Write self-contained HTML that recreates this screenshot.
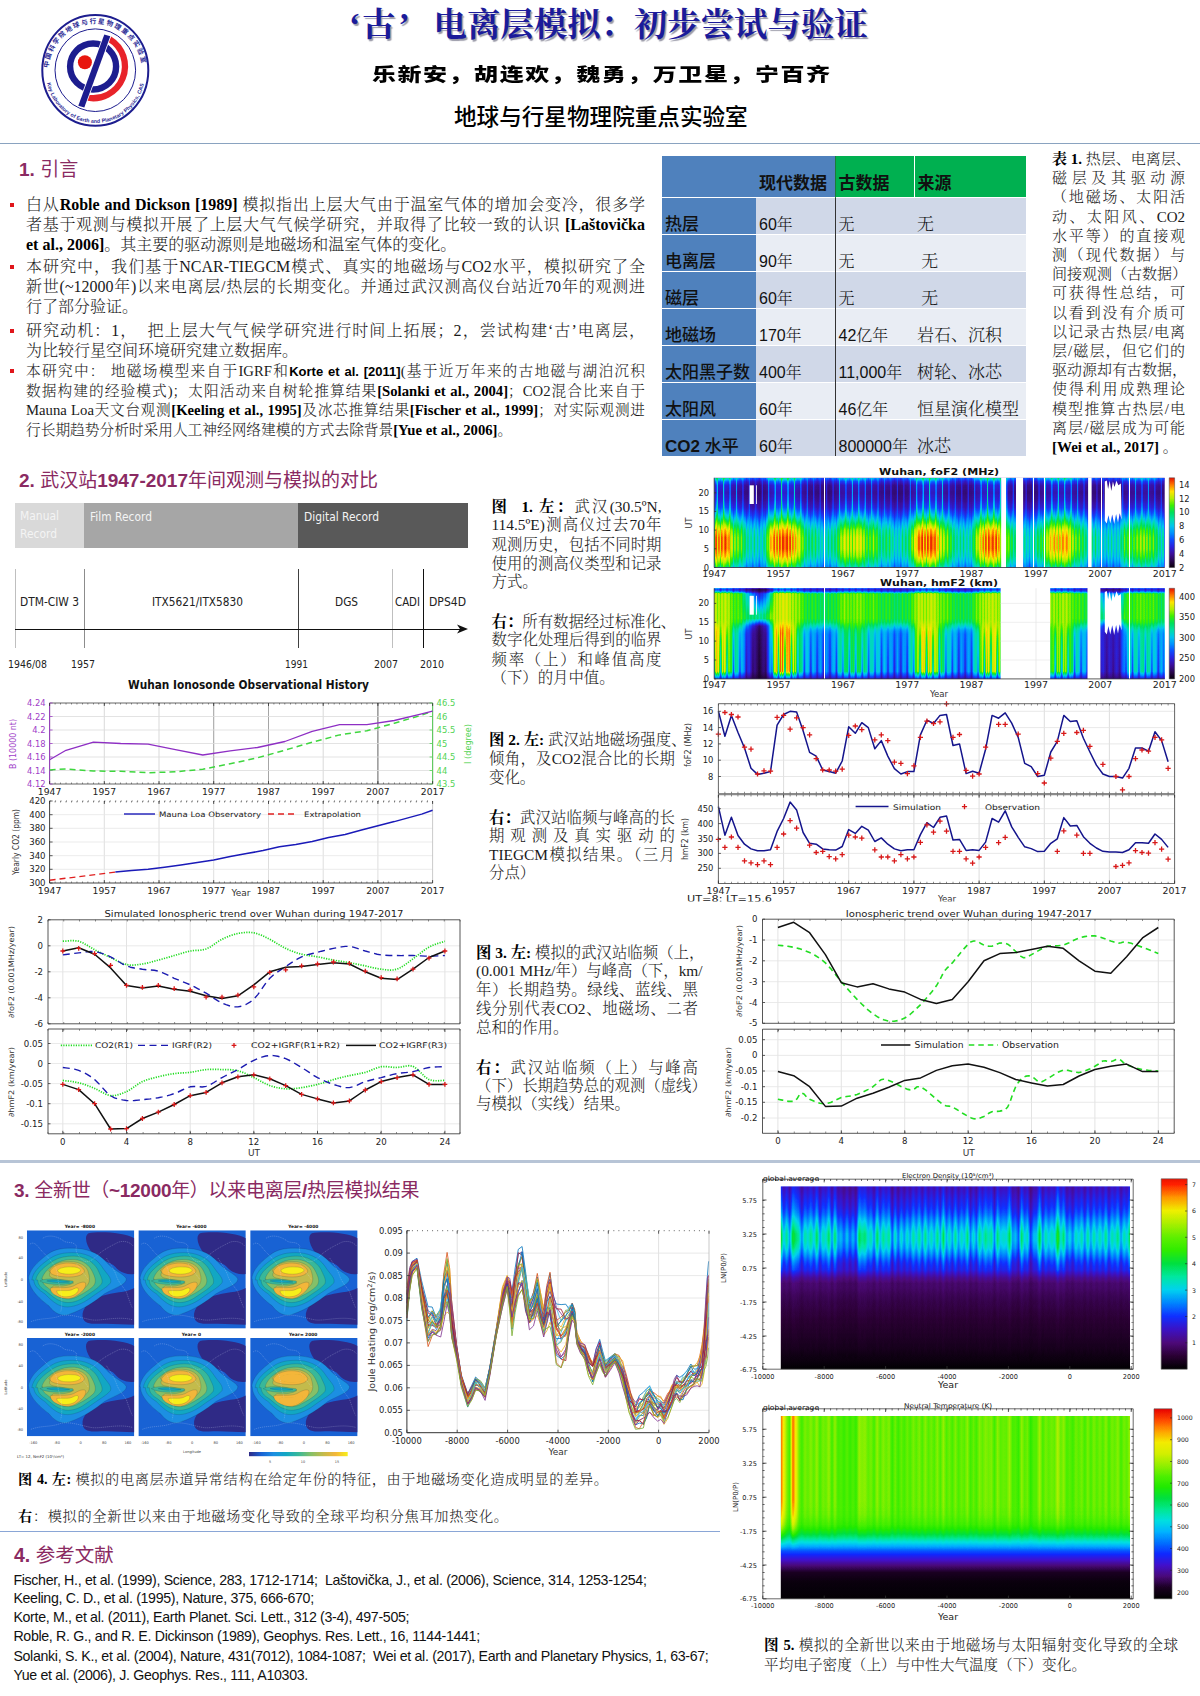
<!DOCTYPE html><html lang="zh"><head><meta charset="utf-8"><title>‘古’电离层模拟：初步尝试与验证</title><style>
*{margin:0;padding:0;box-sizing:border-box}
html,body{width:1200px;height:1696px;background:#fff;overflow:hidden}
body{position:relative;font-family:"Liberation Serif","Noto Serif CJK SC",serif;color:#111}
.a{position:absolute;white-space:nowrap}
.j{position:absolute;white-space:nowrap;text-align:justify;text-align-last:justify}
.sec{position:absolute;white-space:nowrap;color:#8a2a62;font-family:"Liberation Sans","Noto Sans CJK SC",sans-serif;font-size:19px;font-weight:400;line-height:24px}
.sec b{font-weight:700}
.hr{position:absolute;left:0;height:0}
.bt{font-size:16px;line-height:20px;font-weight:300;color:#1a1a1a}
.bt b,.b4 b,.cap b{font-weight:700;color:#000}
.b4{font-size:14.7px;line-height:20px;font-weight:300;color:#1a1a1a}
.bl{position:absolute;width:4px;height:4px;background:#e0161b}
.cap{font-size:15px;line-height:20px;font-weight:300;color:#1a1a1a}
.ref{position:absolute;white-space:nowrap;font-family:"Liberation Sans","Noto Sans CJK SC",sans-serif;font-size:14.2px;line-height:20px;color:#111;letter-spacing:-0.32px}
svg{position:absolute;overflow:visible}
svg text{font-family:"DejaVu Sans","Liberation Sans",sans-serif}
table{position:absolute;border-collapse:collapse;font-family:"Liberation Sans","Noto Sans CJK SC",sans-serif}
</style></head><body>
<svg style="left:0;top:0" width="200" height="140" viewBox="0 0 200 140">
<defs><path id="arcT" d="M 48.300 72 A 47 48.500 0 0 1 142.300 72"/><path id="arcB" d="M 46.300 78 A 49.500 50 0 0 0 144.800 78"/></defs>
<ellipse cx="95.300" cy="70.300" rx="53" ry="55.400" fill="#fff" stroke="#1d1d8f" stroke-width="2"/>
<ellipse cx="95.300" cy="70.200" rx="40.300" ry="41.300" fill="none" stroke="#1d1d8f" stroke-width="1"/>
<text font-size="6.600" font-weight="700" fill="#2a2a95" style="font-family:'Liberation Sans','Noto Sans CJK SC',sans-serif" letter-spacing="1.550"><textPath href="#arcT" startOffset="4">中国科学院地球与行星物理重点实验室</textPath></text>
<text font-size="5.300" font-weight="700" fill="#2a2a95" style="font-family:'Liberation Sans',sans-serif" letter-spacing="0.050"><textPath href="#arcB" startOffset="5">Key Laboratory of Earth and Planetary Physics, CAS</textPath></text>
<circle cx="93.100" cy="66.500" r="23" fill="none" stroke="#1d1d8f" stroke-width="6.400"/>
<path d="M 109.500 39.100 A 31.800 31.800 0 0 1 85.700 97.300" fill="none" stroke="#e8232a" stroke-width="6.300"/>
<path d="M 104.300 34.400 L 110.300 36.200 L 84.300 107.600 L 78.300 105.800 Z" fill="#1d1d8f" stroke="#fff" stroke-width="1.600" paint-order="stroke"/>
<circle cx="84.900" cy="62.300" r="7" fill="#e8160f"/>
</svg>
<div class="hr" style="top:142.500px;width:1200px;border-top:1.500px solid #8aa3c0"></div>
<div class="a" style="left:349px;top:1.500px;font-size:33.400px;line-height:46px;font-weight:700;color:#1b1b9a;text-shadow:1.500px 1.500px 1px #9a9aa8;font-family:'Liberation Serif','Noto Serif CJK SC',serif"><span style="display:inline-block;width:13px;text-align:left">‘</span>古<span style="display:inline-block;width:38.200px;text-align:left;padding-left:3px">’</span>电离层模拟：初步尝试与验证</div>
<div class="a" style="left:372px;top:58px;width:458px;font-size:24px;line-height:34px;font-weight:900;color:#000;font-family:'Liberation Sans','Noto Sans CJK SC',sans-serif;text-align:justify;text-align-last:justify;transform:scaleY(0.760);transform-origin:0 50%">乐新安，胡连欢，魏勇，万卫星，宁百齐</div>
<div class="a" style="left:454px;top:102.500px;width:294px;font-size:22.600px;line-height:30px;font-weight:500;color:#000;font-family:'Liberation Sans','Noto Sans CJK SC',sans-serif">地球与行星物理院重点实验室</div>
<div class="sec" style="left:19px;top:158px"><b>1.</b> 引言</div>
<div class="j bt" style="left:26px;top:195px;width:619px">白从<b>Roble and Dickson [1989]</b> 模拟指出上层大气由于温室气体的增加会变冷，很多学</div>
<div class="j bt" style="left:26px;top:215px;width:619px">者基于观测与模拟开展了上层大气气候学研究，并取得了比较一致的认识 <b>[Laštovička</b></div>
<div class="a bt" style="left:26px;top:235px;"><b>et al., 2006]</b>。其主要的驱动源则是地磁场和温室气体的变化。</div>
<div class="j bt" style="left:26px;top:257px;width:619px">本研究中，我们基于NCAR-TIEGCM模式、真实的地磁场与CO2水平，模拟研究了全</div>
<div class="j bt" style="left:26px;top:277px;width:619px">新世(~12000年)以来电离层/热层的长期变化。并通过武汉测高仪台站近70年的观测进</div>
<div class="a bt" style="left:26px;top:297px;">行了部分验证。</div>
<div class="j bt" style="left:26px;top:321px;width:619px">研究动机：1，&nbsp; 把上层大气气候学研究进行时间上拓展；2，尝试构建‘古’电离层，</div>
<div class="a bt" style="left:26px;top:341px;">为比较行星空间环境研究建立数据库。</div>
<div class="j b4" style="left:26px;top:361px;width:619px">本研究中：&nbsp;地磁场模型来自于IGRF和<b style="font-family:'Liberation Sans',sans-serif;font-size:13px">Korte et al. [2011]</b>(基于近万年来的古地磁与湖泊沉积</div>
<div class="j b4" style="left:26px;top:381px;width:619px">数据构建的经验模式)；太阳活动来自树轮推算结果<b>[Solanki et al., 2004]</b>；CO2混合比来自于</div>
<div class="j b4" style="left:26px;top:400px;width:619px">Mauna Loa天文台观测<b>[Keeling et al., 1995]</b>及冰芯推算结果<b>[Fischer et al., 1999]</b>；对实际观测进</div>
<div class="a b4" style="left:26px;top:420px;">行长期趋势分析时采用人工神经网络建模的方式去除背景<b>[Yue et al., 2006]</b>。</div>
<div class="bl" style="left:10px;top:203px"></div>
<div class="bl" style="left:10px;top:265px"></div>
<div class="bl" style="left:10px;top:329px"></div>
<div class="bl" style="left:10px;top:369px"></div>
<style>
td{vertical-align:bottom;padding:0 0 0 3px;font-size:16px;line-height:19px;color:#111;white-space:nowrap;border-top:1.500px solid #fff}
tr:first-child td{border-top:0}
td.h1{background:#4f81bd;font-weight:700;font-size:17px;padding-bottom:4px}
td.h2{background:#00b050;font-weight:700;font-size:17px;padding-bottom:4px}
td.c1{background:#4f81bd;font-weight:500;font-size:17px}
tr.ra td{background:#d0d8e8} tr.rb td{background:#e9edf4}
tr.ra td.c1,tr.rb td.c1{background:#4f81bd}
td.sf{font-family:"Liberation Serif","Noto Serif CJK SC",serif;font-weight:300;font-size:17px}
tr.ra td:nth-child(2),tr.rb td:nth-child(2),tr.ra td:nth-child(3),tr.rb td:nth-child(3){font-family:"Liberation Sans","Noto Serif CJK SC",serif;font-weight:300}
</style>
<table style="left:662px;top:156px;width:364px"><colgroup><col style="width:94px"><col style="width:79px"><col style="width:79px"><col style="width:112px"></colgroup><tr style="height:41px"><td class="h1"></td><td class="h1">现代数据</td><td class="h2" style="border-left:1px solid #1d7a3a">古数据</td><td class="h2" style="border-left:1.500px solid #fff">来源</td></tr><tr class="ra" style="height:37px"><td class="c1">热层</td><td>60年</td><td style="border-left:1px solid #333">无</td><td class="sf">无</td></tr><tr class="rb" style="height:37px"><td class="c1">电离层</td><td>90年</td><td style="border-left:1px solid #333">无</td><td class="sf">&nbsp;无</td></tr><tr class="ra" style="height:37px"><td class="c1">磁层</td><td>60年</td><td style="border-left:1px solid #333">无</td><td class="sf">&nbsp;无</td></tr><tr class="rb" style="height:37px"><td class="c1">地磁场</td><td>170年</td><td style="border-left:1px solid #333">42亿年</td><td class="sf">岩石、沉积</td></tr><tr class="ra" style="height:37px"><td class="c1">太阳黑子数</td><td>400年</td><td style="border-left:1px solid #333">11,000年</td><td class="sf">树轮、冰芯</td></tr><tr class="rb" style="height:37px"><td class="c1">太阳风</td><td>60年</td><td style="border-left:1px solid #333">46亿年</td><td class="sf">恒星演化模型</td></tr><tr class="ra" style="height:37px"><td class="c1"><b>CO2</b> 水平</td><td>60年</td><td style="border-left:1px solid #333">800000年</td><td class="sf">冰芯</td></tr></table>
<div class="j cap" style="left:1052px;top:149.0px;width:133px"><b>表 1.</b> 热层、电离层、</div>
<div class="j cap" style="left:1052px;top:168.2px;width:133px">磁层及其驱动源</div>
<div class="j cap" style="left:1052px;top:187.4px;width:133px">（地磁场、太阳活</div>
<div class="j cap" style="left:1052px;top:206.6px;width:133px">动、太阳风、CO2</div>
<div class="j cap" style="left:1052px;top:225.8px;width:133px">水平等）的直接观</div>
<div class="j cap" style="left:1052px;top:245.0px;width:133px">测（现代数据）与</div>
<div class="j cap" style="left:1052px;top:264.2px;width:133px">间接观测（古数据）</div>
<div class="j cap" style="left:1052px;top:283.4px;width:133px">可获得性总结，可</div>
<div class="j cap" style="left:1052px;top:302.6px;width:133px">以看到没有介质可</div>
<div class="j cap" style="left:1052px;top:321.8px;width:133px">以记录古热层/电离</div>
<div class="j cap" style="left:1052px;top:341.0px;width:133px">层/磁层，但它们的</div>
<div class="j cap" style="left:1052px;top:360.2px;width:133px">驱动源却有古数据，</div>
<div class="j cap" style="left:1052px;top:379.4px;width:133px">使得利用成熟理论</div>
<div class="j cap" style="left:1052px;top:398.6px;width:133px">模型推算古热层/电</div>
<div class="j cap" style="left:1052px;top:417.8px;width:133px">离层/磁层成为可能</div>
<div class="a cap" style="left:1052px;top:437.0px;"><b>[Wei et al., 2017]</b> 。</div>
<div class="sec" style="left:19px;top:469px"><b>2.</b> 武汉站<b>1947-2017</b>年间观测与模拟的对比</div>
<div class="j cap" style="left:491.5px;top:496.8px;font-size:15.4px;width:170px"><b>图&nbsp; 1. 左：</b>武汉(30.5ºN,</div>
<div class="j cap" style="left:491.5px;top:515px;font-size:15.4px;width:170px">114.5ºE)测高仪过去70年</div>
<div class="j cap" style="left:491.5px;top:534.8px;font-size:15.4px;width:170px">观测历史，包括不同时期</div>
<div class="j cap" style="left:491.5px;top:553.8px;font-size:15.4px;width:170px">使用的测高仪类型和记录</div>
<div class="a cap" style="left:491.5px;top:572.3px;font-size:15.4px;">方式。</div>
<div class="a cap" style="left:491.5px;top:612px;font-size:15.4px;"><b>右：</b>所有数据经过标准化、</div>
<div class="j cap" style="left:491.5px;top:630.4px;font-size:15.4px;width:170px">数字化处理后得到的临界</div>
<div class="j cap" style="left:491.5px;top:649.7px;font-size:15.4px;width:170px">频率（上）和峰值高度</div>
<div class="a cap" style="left:491.5px;top:668.4px;font-size:15.4px;">（下）的月中值。</div>
<div class="a cap" style="left:489px;top:730px;font-size:15.4px;"><b>图 2. 左:</b> 武汉站地磁场强度、</div>
<div class="j cap" style="left:489px;top:749px;font-size:15.4px;width:186px">倾角，及CO2混合比的长期</div>
<div class="a cap" style="left:489px;top:768px;font-size:15.4px;">变化。</div>
<div class="j cap" style="left:489px;top:807.9px;font-size:15.4px;width:186px"><b>右：</b>武汉站临频与峰高的长</div>
<div class="j cap" style="left:489px;top:826.4px;font-size:15.4px;width:186px">期观测及真实驱动的</div>
<div class="j cap" style="left:489px;top:845.4px;font-size:15.4px;width:186px">TIEGCM模拟结果。（三月</div>
<div class="a cap" style="left:489px;top:863px;font-size:15.4px;">分点）</div>
<div class="j cap" style="left:476px;top:943px;font-size:15.4px;width:222px"><b>图 3. 左:</b> 模拟的武汉站临频（上，</div>
<div class="j cap" style="left:476px;top:961px;font-size:15.4px;width:222px">(0.001 MHz/年）与峰高（下，km/</div>
<div class="j cap" style="left:476px;top:980px;font-size:15.4px;width:222px">年）长期趋势。绿线、蓝线、黑</div>
<div class="j cap" style="left:476px;top:998.8px;font-size:15.4px;width:222px">线分别代表CO2、地磁场、二者</div>
<div class="a cap" style="left:476px;top:1017.6px;font-size:15.4px;">总和的作用。</div>
<div class="j cap" style="left:476px;top:1057.7px;font-size:15.4px;width:222px"><b>右：</b>武汉站临频（上）与峰高</div>
<div class="a cap" style="left:476px;top:1076px;font-size:15.4px;">（下）长期趋势总的观测（虚线）</div>
<div class="a cap" style="left:476px;top:1094px;font-size:15.4px;">与模拟（实线）结果。</div>
<svg class="pg" style="left:0;top:0" width="1200" height="1696" viewBox="0 0 1200 1696"><defs><filter id="cmA" x="713.2" y="476.8" width="462.5" height="91.7" filterUnits="userSpaceOnUse" color-interpolation-filters="sRGB"><feComponentTransfer><feFuncR type="table" tableValues="0.0392 0.169 0.235 0.165 0.0549 0 0 0 0 0.235 0.706 1 1 0.91"/><feFuncG type="table" tableValues="0 0.0314 0.0588 0.133 0.298 0.573 0.776 0.875 0.878 0.941 0.941 0.894 0.471 0.0627"/><feFuncB type="table" tableValues="0.0471 0.314 0.612 0.871 1 1 0.933 0.659 0.353 0 0 0 0 0"/></feComponentTransfer></filter><linearGradient id="fN" gradientUnits="userSpaceOnUse" x1="714.200" x2="1164.700" y1="0" y2="0"><stop offset="0" stop-color="#333333"/><stop offset="0.01429" stop-color="#313131"/><stop offset="0.02857" stop-color="#313131"/><stop offset="0.04286" stop-color="#282828"/><stop offset="0.05714" stop-color="#252525"/><stop offset="0.07143" stop-color="#202020"/><stop offset="0.08571" stop-color="#1d1d1d"/><stop offset="0.1" stop-color="#1b1b1b"/><stop offset="0.1143" stop-color="#212121"/><stop offset="0.1286" stop-color="#2f2f2f"/><stop offset="0.1429" stop-color="#363636"/><stop offset="0.1571" stop-color="#363636"/><stop offset="0.1714" stop-color="#333333"/><stop offset="0.1857" stop-color="#2c2c2c"/><stop offset="0.2" stop-color="#242424"/><stop offset="0.2143" stop-color="#202020"/><stop offset="0.2286" stop-color="#1f1f1f"/><stop offset="0.2429" stop-color="#1d1d1d"/><stop offset="0.2571" stop-color="#1d1d1d"/><stop offset="0.2714" stop-color="#232323"/><stop offset="0.2857" stop-color="#292929"/><stop offset="0.3" stop-color="#2a2a2a"/><stop offset="0.3143" stop-color="#2b2b2b"/><stop offset="0.3286" stop-color="#2a2a2a"/><stop offset="0.3429" stop-color="#252525"/><stop offset="0.3571" stop-color="#252525"/><stop offset="0.3714" stop-color="#212121"/><stop offset="0.3857" stop-color="#202020"/><stop offset="0.4" stop-color="#1d1d1d"/><stop offset="0.4143" stop-color="#1d1d1d"/><stop offset="0.4286" stop-color="#1f1f1f"/><stop offset="0.4429" stop-color="#2a2a2a"/><stop offset="0.4571" stop-color="#323232"/><stop offset="0.4714" stop-color="#323232"/><stop offset="0.4857" stop-color="#323232"/><stop offset="0.5" stop-color="#2d2d2d"/><stop offset="0.5143" stop-color="#262626"/><stop offset="0.5286" stop-color="#232323"/><stop offset="0.5429" stop-color="#1e1e1e"/><stop offset="0.5571" stop-color="#1d1d1d"/><stop offset="0.5714" stop-color="#202020"/><stop offset="0.5857" stop-color="#2a2a2a"/><stop offset="0.6" stop-color="#333333"/><stop offset="0.6143" stop-color="#313131"/><stop offset="0.6286" stop-color="#323232"/><stop offset="0.6429" stop-color="#2a2a2a"/><stop offset="0.6571" stop-color="#242424"/><stop offset="0.6714" stop-color="#202020"/><stop offset="0.6857" stop-color="#1e1e1e"/><stop offset="0.7" stop-color="#1d1d1d"/><stop offset="0.7143" stop-color="#1e1e1e"/><stop offset="0.7286" stop-color="#252525"/><stop offset="0.7429" stop-color="#2b2b2b"/><stop offset="0.7571" stop-color="#2e2e2e"/><stop offset="0.7714" stop-color="#2f2f2f"/><stop offset="0.7857" stop-color="#2e2e2e"/><stop offset="0.8" stop-color="#272727"/><stop offset="0.8143" stop-color="#232323"/><stop offset="0.8286" stop-color="#202020"/><stop offset="0.8429" stop-color="#1e1e1e"/><stop offset="0.8571" stop-color="#1d1d1d"/><stop offset="0.8714" stop-color="#1b1b1b"/><stop offset="0.8857" stop-color="#1c1c1c"/><stop offset="0.9" stop-color="#1e1e1e"/><stop offset="0.9143" stop-color="#242424"/><stop offset="0.9286" stop-color="#252525"/><stop offset="0.9429" stop-color="#262626"/><stop offset="0.9571" stop-color="#282828"/><stop offset="0.9714" stop-color="#252525"/><stop offset="0.9857" stop-color="#202020"/><stop offset="1" stop-color="#1e1e1e"/></linearGradient><linearGradient id="fD" gradientUnits="userSpaceOnUse" x1="714.200" x2="1164.700" y1="0" y2="0"><stop offset="0" stop-color="#ffffff"/><stop offset="0.01429" stop-color="#f9f9f9"/><stop offset="0.02857" stop-color="#fcfcfc"/><stop offset="0.04286" stop-color="#cacaca"/><stop offset="0.05714" stop-color="#b6b6b6"/><stop offset="0.07143" stop-color="#9b9b9b"/><stop offset="0.08571" stop-color="#8a8a8a"/><stop offset="0.1" stop-color="#808080"/><stop offset="0.1143" stop-color="#a1a1a1"/><stop offset="0.1286" stop-color="#f3f3f3"/><stop offset="0.1429" stop-color="#ffffff"/><stop offset="0.1571" stop-color="#ffffff"/><stop offset="0.1714" stop-color="#ffffff"/><stop offset="0.1857" stop-color="#dedede"/><stop offset="0.2" stop-color="#afafaf"/><stop offset="0.2143" stop-color="#9b9b9b"/><stop offset="0.2286" stop-color="#949494"/><stop offset="0.2429" stop-color="#868686"/><stop offset="0.2571" stop-color="#8a8a8a"/><stop offset="0.2714" stop-color="#a8a8a8"/><stop offset="0.2857" stop-color="#cecece"/><stop offset="0.3" stop-color="#d3d3d3"/><stop offset="0.3143" stop-color="#d6d6d6"/><stop offset="0.3286" stop-color="#d3d3d3"/><stop offset="0.3429" stop-color="#b6b6b6"/><stop offset="0.3571" stop-color="#b8b8b8"/><stop offset="0.3714" stop-color="#9d9d9d"/><stop offset="0.3857" stop-color="#9b9b9b"/><stop offset="0.4" stop-color="#8a8a8a"/><stop offset="0.4143" stop-color="#868686"/><stop offset="0.4286" stop-color="#979797"/><stop offset="0.4429" stop-color="#d1d1d1"/><stop offset="0.4571" stop-color="#ffffff"/><stop offset="0.4714" stop-color="#ffffff"/><stop offset="0.4857" stop-color="#ffffff"/><stop offset="0.5" stop-color="#e5e5e5"/><stop offset="0.5143" stop-color="#bcbcbc"/><stop offset="0.5286" stop-color="#a8a8a8"/><stop offset="0.5429" stop-color="#8d8d8d"/><stop offset="0.5571" stop-color="#898989"/><stop offset="0.5714" stop-color="#989898"/><stop offset="0.5857" stop-color="#d1d1d1"/><stop offset="0.6" stop-color="#ffffff"/><stop offset="0.6143" stop-color="#f9f9f9"/><stop offset="0.6286" stop-color="#ffffff"/><stop offset="0.6429" stop-color="#d1d1d1"/><stop offset="0.6571" stop-color="#afafaf"/><stop offset="0.6714" stop-color="#9b9b9b"/><stop offset="0.6857" stop-color="#8d8d8d"/><stop offset="0.7" stop-color="#868686"/><stop offset="0.7143" stop-color="#909090"/><stop offset="0.7286" stop-color="#b6b6b6"/><stop offset="0.7429" stop-color="#d7d7d7"/><stop offset="0.7571" stop-color="#ececec"/><stop offset="0.7714" stop-color="#eeeeee"/><stop offset="0.7857" stop-color="#ececec"/><stop offset="0.8" stop-color="#c3c3c3"/><stop offset="0.8143" stop-color="#a8a8a8"/><stop offset="0.8286" stop-color="#9b9b9b"/><stop offset="0.8429" stop-color="#8d8d8d"/><stop offset="0.8571" stop-color="#868686"/><stop offset="0.8714" stop-color="#808080"/><stop offset="0.8857" stop-color="#828282"/><stop offset="0.9" stop-color="#8d8d8d"/><stop offset="0.9143" stop-color="#afafaf"/><stop offset="0.9286" stop-color="#b8b8b8"/><stop offset="0.9429" stop-color="#bcbcbc"/><stop offset="0.9571" stop-color="#cacaca"/><stop offset="0.9714" stop-color="#b6b6b6"/><stop offset="0.9857" stop-color="#9b9b9b"/><stop offset="1" stop-color="#8d8d8d"/></linearGradient><linearGradient id="fF" gradientUnits="userSpaceOnUse" x1="714.200" x2="1164.700" y1="0" y2="0"><stop offset="0" stop-color="#ffffff"/><stop offset="0.01429" stop-color="#ededed"/><stop offset="0.02857" stop-color="#f1f1f1"/><stop offset="0.04286" stop-color="#afafaf"/><stop offset="0.05714" stop-color="#949494"/><stop offset="0.07143" stop-color="#707070"/><stop offset="0.08571" stop-color="#5b5b5b"/><stop offset="0.1" stop-color="#4c4c4c"/><stop offset="0.1143" stop-color="#797979"/><stop offset="0.1286" stop-color="#e4e4e4"/><stop offset="0.1429" stop-color="#ffffff"/><stop offset="0.1571" stop-color="#ffffff"/><stop offset="0.1714" stop-color="#ffffff"/><stop offset="0.1857" stop-color="#c9c9c9"/><stop offset="0.2" stop-color="#8b8b8b"/><stop offset="0.2143" stop-color="#707070"/><stop offset="0.2286" stop-color="#676767"/><stop offset="0.2429" stop-color="#555555"/><stop offset="0.2571" stop-color="#5b5b5b"/><stop offset="0.2714" stop-color="#828282"/><stop offset="0.2857" stop-color="#b4b4b4"/><stop offset="0.3" stop-color="#bbbbbb"/><stop offset="0.3143" stop-color="#bfbfbf"/><stop offset="0.3286" stop-color="#bbbbbb"/><stop offset="0.3429" stop-color="#949494"/><stop offset="0.3571" stop-color="#979797"/><stop offset="0.3714" stop-color="#747474"/><stop offset="0.3857" stop-color="#707070"/><stop offset="0.4" stop-color="#5b5b5b"/><stop offset="0.4143" stop-color="#555555"/><stop offset="0.4286" stop-color="#6b6b6b"/><stop offset="0.4429" stop-color="#b8b8b8"/><stop offset="0.4571" stop-color="#f6f6f6"/><stop offset="0.4714" stop-color="#f6f6f6"/><stop offset="0.4857" stop-color="#f6f6f6"/><stop offset="0.5" stop-color="#d2d2d2"/><stop offset="0.5143" stop-color="#9d9d9d"/><stop offset="0.5286" stop-color="#828282"/><stop offset="0.5429" stop-color="#5e5e5e"/><stop offset="0.5571" stop-color="#595959"/><stop offset="0.5714" stop-color="#6d6d6d"/><stop offset="0.5857" stop-color="#b8b8b8"/><stop offset="0.6" stop-color="#fbfbfb"/><stop offset="0.6143" stop-color="#ededed"/><stop offset="0.6286" stop-color="#f6f6f6"/><stop offset="0.6429" stop-color="#b8b8b8"/><stop offset="0.6571" stop-color="#8b8b8b"/><stop offset="0.6714" stop-color="#707070"/><stop offset="0.6857" stop-color="#5e5e5e"/><stop offset="0.7" stop-color="#555555"/><stop offset="0.7143" stop-color="#626262"/><stop offset="0.7286" stop-color="#949494"/><stop offset="0.7429" stop-color="#c1c1c1"/><stop offset="0.7571" stop-color="#dbdbdb"/><stop offset="0.7714" stop-color="#dfdfdf"/><stop offset="0.7857" stop-color="#dbdbdb"/><stop offset="0.8" stop-color="#a6a6a6"/><stop offset="0.8143" stop-color="#828282"/><stop offset="0.8286" stop-color="#707070"/><stop offset="0.8429" stop-color="#5e5e5e"/><stop offset="0.8571" stop-color="#555555"/><stop offset="0.8714" stop-color="#4c4c4c"/><stop offset="0.8857" stop-color="#505050"/><stop offset="0.9" stop-color="#5e5e5e"/><stop offset="0.9143" stop-color="#8b8b8b"/><stop offset="0.9286" stop-color="#979797"/><stop offset="0.9429" stop-color="#9d9d9d"/><stop offset="0.9571" stop-color="#afafaf"/><stop offset="0.9714" stop-color="#949494"/><stop offset="0.9857" stop-color="#707070"/><stop offset="1" stop-color="#5e5e5e"/></linearGradient><linearGradient id="fS" gradientUnits="userSpaceOnUse" x1="714.200" x2="720.636" y1="0" y2="0" spreadMethod="repeat"><stop offset="0" stop-color="#a0a0a0" stop-opacity="0"/><stop offset="0.3" stop-color="#a0a0a0" stop-opacity="0"/><stop offset="0.4" stop-color="#a0a0a0" stop-opacity="0.4"/><stop offset="0.47" stop-color="#a0a0a0" stop-opacity="0.85"/><stop offset="0.54" stop-color="#a0a0a0" stop-opacity="0.4"/><stop offset="0.64" stop-color="#a0a0a0" stop-opacity="0"/><stop offset="1" stop-color="#a0a0a0" stop-opacity="0"/></linearGradient><linearGradient id="fS2" gradientUnits="userSpaceOnUse" x1="714.200" x2="720.636" y1="0" y2="0" spreadMethod="repeat"><stop offset="0" stop-color="#909090" stop-opacity="0"/><stop offset="0.27" stop-color="#909090" stop-opacity="0"/><stop offset="0.47" stop-color="#909090" stop-opacity="0.85"/><stop offset="0.67" stop-color="#909090" stop-opacity="0"/><stop offset="1" stop-color="#909090" stop-opacity="0"/></linearGradient><linearGradient id="fW2" gradientUnits="userSpaceOnUse" x1="0" x2="0" y1="477.80" y2="567.50"><stop offset="0" stop-color="#808080"/><stop offset="0.04167" stop-color="#262626"/><stop offset="0.08333" stop-color="#000000"/><stop offset="0.1667" stop-color="#0f0f0f"/><stop offset="0.25" stop-color="#404040"/><stop offset="0.3333" stop-color="#8c8c8c"/><stop offset="0.4167" stop-color="#e6e6e6"/><stop offset="0.5" stop-color="#ffffff"/><stop offset="1" stop-color="#ffffff"/></linearGradient><mask id="mW2" maskUnits="userSpaceOnUse" x="714.2" y="477.8" width="450.5" height="89.7"><rect x="714.2" y="477.8" width="450.5" height="89.7" fill="url(#fW2)"/></mask><linearGradient id="fSA" gradientUnits="userSpaceOnUse" x1="714.200" x2="717.418" y1="0" y2="0" spreadMethod="repeat"><stop offset="0" stop-color="#000" stop-opacity="0.2"/><stop offset="0.25" stop-color="#000" stop-opacity="0"/><stop offset="0.5" stop-color="#fff" stop-opacity="0.22"/><stop offset="0.75" stop-color="#000" stop-opacity="0"/><stop offset="1" stop-color="#000" stop-opacity="0.2"/></linearGradient><linearGradient id="fW" gradientUnits="userSpaceOnUse" x1="0" x2="0" y1="477.80" y2="567.50"><stop offset="0" stop-color="#808080"/><stop offset="0.04167" stop-color="#333333"/><stop offset="0.08333" stop-color="#0d0d0d"/><stop offset="0.1667" stop-color="#000000"/><stop offset="0.25" stop-color="#0d0d0d"/><stop offset="0.3333" stop-color="#292929"/><stop offset="0.4167" stop-color="#616161"/><stop offset="0.5" stop-color="#a8a8a8"/><stop offset="0.5833" stop-color="#e6e6e6"/><stop offset="0.6667" stop-color="#ffffff"/><stop offset="0.7292" stop-color="#ffffff"/><stop offset="0.7917" stop-color="#ffffff"/><stop offset="0.875" stop-color="#e6e6e6"/><stop offset="0.9375" stop-color="#bfbfbf"/><stop offset="1" stop-color="#8c8c8c"/></linearGradient><mask id="mW" maskUnits="userSpaceOnUse" x="714.2" y="477.8" width="450.5" height="89.7"><rect x="714.2" y="477.8" width="450.5" height="89.7" fill="url(#fW)"/></mask><mask id="mF" maskUnits="userSpaceOnUse" x="714.2" y="477.8" width="450.5" height="89.7"><rect x="714.2" y="477.8" width="450.5" height="89.7" fill="url(#fF)"/></mask><linearGradient id="cbg" gradientUnits="userSpaceOnUse" x1="0" x2="0" y1="477.80" y2="567.50"><stop offset="0" stop-color="#fff"/><stop offset="1" stop-color="#000"/></linearGradient><filter id="cmB" x="713.2" y="587.3" width="462.5" height="92.6" filterUnits="userSpaceOnUse" color-interpolation-filters="sRGB"><feComponentTransfer><feFuncR type="table" tableValues="0.0392 0.169 0.235 0.165 0.0549 0 0 0 0 0.235 0.706 1 1 0.91"/><feFuncG type="table" tableValues="0 0.0314 0.0588 0.133 0.298 0.573 0.776 0.875 0.878 0.941 0.941 0.894 0.471 0.0627"/><feFuncB type="table" tableValues="0.0471 0.314 0.612 0.871 1 1 0.933 0.659 0.353 0 0 0 0 0"/></feComponentTransfer></filter><linearGradient id="hN" gradientUnits="userSpaceOnUse" x1="714.200" x2="1164.700" y1="0" y2="0"><stop offset="0" stop-color="#cccccc"/><stop offset="0.01429" stop-color="#c8c8c8"/><stop offset="0.02857" stop-color="#c8c8c8"/><stop offset="0.04286" stop-color="#b8b8b8"/><stop offset="0.05714" stop-color="#b2b2b2"/><stop offset="0.07143" stop-color="#a9a9a9"/><stop offset="0.08571" stop-color="#a3a3a3"/><stop offset="0.1" stop-color="#a0a0a0"/><stop offset="0.1143" stop-color="#ababab"/><stop offset="0.1286" stop-color="#c5c5c5"/><stop offset="0.1429" stop-color="#d1d1d1"/><stop offset="0.1571" stop-color="#d1d1d1"/><stop offset="0.1714" stop-color="#cccccc"/><stop offset="0.1857" stop-color="#bfbfbf"/><stop offset="0.2" stop-color="#afafaf"/><stop offset="0.2143" stop-color="#a9a9a9"/><stop offset="0.2286" stop-color="#a7a7a7"/><stop offset="0.2429" stop-color="#a2a2a2"/><stop offset="0.2571" stop-color="#a3a3a3"/><stop offset="0.2714" stop-color="#adadad"/><stop offset="0.2857" stop-color="#bababa"/><stop offset="0.3" stop-color="#bbbbbb"/><stop offset="0.3143" stop-color="#bcbcbc"/><stop offset="0.3286" stop-color="#bbbbbb"/><stop offset="0.3429" stop-color="#b2b2b2"/><stop offset="0.3571" stop-color="#b2b2b2"/><stop offset="0.3714" stop-color="#aaaaaa"/><stop offset="0.3857" stop-color="#a9a9a9"/><stop offset="0.4" stop-color="#a3a3a3"/><stop offset="0.4143" stop-color="#a2a2a2"/><stop offset="0.4286" stop-color="#a7a7a7"/><stop offset="0.4429" stop-color="#bababa"/><stop offset="0.4571" stop-color="#cacaca"/><stop offset="0.4714" stop-color="#cacaca"/><stop offset="0.4857" stop-color="#cacaca"/><stop offset="0.5" stop-color="#c1c1c1"/><stop offset="0.5143" stop-color="#b4b4b4"/><stop offset="0.5286" stop-color="#adadad"/><stop offset="0.5429" stop-color="#a4a4a4"/><stop offset="0.5571" stop-color="#a3a3a3"/><stop offset="0.5714" stop-color="#a8a8a8"/><stop offset="0.5857" stop-color="#bababa"/><stop offset="0.6" stop-color="#cbcbcb"/><stop offset="0.6143" stop-color="#c8c8c8"/><stop offset="0.6286" stop-color="#cacaca"/><stop offset="0.6429" stop-color="#bababa"/><stop offset="0.6571" stop-color="#afafaf"/><stop offset="0.6714" stop-color="#a9a9a9"/><stop offset="0.6857" stop-color="#a4a4a4"/><stop offset="0.7" stop-color="#a2a2a2"/><stop offset="0.7143" stop-color="#a5a5a5"/><stop offset="0.7286" stop-color="#b2b2b2"/><stop offset="0.7429" stop-color="#bdbdbd"/><stop offset="0.7571" stop-color="#c3c3c3"/><stop offset="0.7714" stop-color="#c4c4c4"/><stop offset="0.7857" stop-color="#c3c3c3"/><stop offset="0.8" stop-color="#b6b6b6"/><stop offset="0.8143" stop-color="#adadad"/><stop offset="0.8286" stop-color="#a9a9a9"/><stop offset="0.8429" stop-color="#a4a4a4"/><stop offset="0.8571" stop-color="#a2a2a2"/><stop offset="0.8714" stop-color="#a0a0a0"/><stop offset="0.8857" stop-color="#a1a1a1"/><stop offset="0.9" stop-color="#a4a4a4"/><stop offset="0.9143" stop-color="#afafaf"/><stop offset="0.9286" stop-color="#b2b2b2"/><stop offset="0.9429" stop-color="#b4b4b4"/><stop offset="0.9571" stop-color="#b8b8b8"/><stop offset="0.9714" stop-color="#b2b2b2"/><stop offset="0.9857" stop-color="#a9a9a9"/><stop offset="1" stop-color="#a4a4a4"/></linearGradient><linearGradient id="hD" gradientUnits="userSpaceOnUse" x1="714.200" x2="1164.700" y1="0" y2="0"><stop offset="0" stop-color="#e6e6e6"/><stop offset="0.01429" stop-color="#d2d2d2"/><stop offset="0.02857" stop-color="#d6d6d6"/><stop offset="0.04286" stop-color="#979797"/><stop offset="0.05714" stop-color="#828282"/><stop offset="0.07143" stop-color="#6b6b6b"/><stop offset="0.08571" stop-color="#5f5f5f"/><stop offset="0.1" stop-color="#585858"/><stop offset="0.1143" stop-color="#707070"/><stop offset="0.1286" stop-color="#c9c9c9"/><stop offset="0.1429" stop-color="#f1f1f1"/><stop offset="0.1571" stop-color="#f1f1f1"/><stop offset="0.1714" stop-color="#e6e6e6"/><stop offset="0.1857" stop-color="#aeaeae"/><stop offset="0.2" stop-color="#7c7c7c"/><stop offset="0.2143" stop-color="#6b6b6b"/><stop offset="0.2286" stop-color="#666666"/><stop offset="0.2429" stop-color="#5c5c5c"/><stop offset="0.2571" stop-color="#5f5f5f"/><stop offset="0.2714" stop-color="#767676"/><stop offset="0.2857" stop-color="#9b9b9b"/><stop offset="0.3" stop-color="#a2a2a2"/><stop offset="0.3143" stop-color="#a5a5a5"/><stop offset="0.3286" stop-color="#a2a2a2"/><stop offset="0.3429" stop-color="#828282"/><stop offset="0.3571" stop-color="#858585"/><stop offset="0.3714" stop-color="#6d6d6d"/><stop offset="0.3857" stop-color="#6b6b6b"/><stop offset="0.4" stop-color="#5f5f5f"/><stop offset="0.4143" stop-color="#5c5c5c"/><stop offset="0.4286" stop-color="#686868"/><stop offset="0.4429" stop-color="#9e9e9e"/><stop offset="0.4571" stop-color="#dcdcdc"/><stop offset="0.4714" stop-color="#dcdcdc"/><stop offset="0.4857" stop-color="#dcdcdc"/><stop offset="0.5" stop-color="#b7b7b7"/><stop offset="0.5143" stop-color="#898989"/><stop offset="0.5286" stop-color="#767676"/><stop offset="0.5429" stop-color="#616161"/><stop offset="0.5571" stop-color="#5e5e5e"/><stop offset="0.5714" stop-color="#696969"/><stop offset="0.5857" stop-color="#9e9e9e"/><stop offset="0.6" stop-color="#e1e1e1"/><stop offset="0.6143" stop-color="#d2d2d2"/><stop offset="0.6286" stop-color="#dcdcdc"/><stop offset="0.6429" stop-color="#9e9e9e"/><stop offset="0.6571" stop-color="#7c7c7c"/><stop offset="0.6714" stop-color="#6b6b6b"/><stop offset="0.6857" stop-color="#616161"/><stop offset="0.7" stop-color="#5c5c5c"/><stop offset="0.7143" stop-color="#636363"/><stop offset="0.7286" stop-color="#828282"/><stop offset="0.7429" stop-color="#a6a6a6"/><stop offset="0.7571" stop-color="#c0c0c0"/><stop offset="0.7714" stop-color="#c3c3c3"/><stop offset="0.7857" stop-color="#c0c0c0"/><stop offset="0.8" stop-color="#909090"/><stop offset="0.8143" stop-color="#767676"/><stop offset="0.8286" stop-color="#6b6b6b"/><stop offset="0.8429" stop-color="#616161"/><stop offset="0.8571" stop-color="#5c5c5c"/><stop offset="0.8714" stop-color="#585858"/><stop offset="0.8857" stop-color="#5a5a5a"/><stop offset="0.9" stop-color="#616161"/><stop offset="0.9143" stop-color="#7c7c7c"/><stop offset="0.9286" stop-color="#858585"/><stop offset="0.9429" stop-color="#898989"/><stop offset="0.9571" stop-color="#979797"/><stop offset="0.9714" stop-color="#828282"/><stop offset="0.9857" stop-color="#6b6b6b"/><stop offset="1" stop-color="#616161"/></linearGradient><linearGradient id="hS" gradientUnits="userSpaceOnUse" x1="714.200" x2="720.636" y1="0" y2="0" spreadMethod="repeat"><stop offset="0" stop-color="#1c1c1c" stop-opacity="0.6"/><stop offset="0.12" stop-color="#1c1c1c" stop-opacity="0.36"/><stop offset="0.27" stop-color="#1c1c1c" stop-opacity="0"/><stop offset="0.36" stop-color="#858585" stop-opacity="0"/><stop offset="0.47" stop-color="#858585" stop-opacity="0.45"/><stop offset="0.58" stop-color="#858585" stop-opacity="0"/><stop offset="0.7" stop-color="#1c1c1c" stop-opacity="0"/><stop offset="0.88" stop-color="#1c1c1c" stop-opacity="0.36"/><stop offset="1" stop-color="#1c1c1c" stop-opacity="0.6"/></linearGradient><linearGradient id="hSA" gradientUnits="userSpaceOnUse" x1="714.200" x2="717.418" y1="0" y2="0" spreadMethod="repeat"><stop offset="0" stop-color="#000" stop-opacity="0.1"/><stop offset="0.25" stop-color="#000" stop-opacity="0"/><stop offset="0.5" stop-color="#fff" stop-opacity="0.12"/><stop offset="0.75" stop-color="#000" stop-opacity="0"/><stop offset="1" stop-color="#000" stop-opacity="0.1"/></linearGradient><linearGradient id="hB" gradientUnits="userSpaceOnUse" x1="714.200" x2="1164.700" y1="0" y2="0"><stop offset="0" stop-color="#000" stop-opacity="0"/><stop offset="0.058" stop-color="#000" stop-opacity="0"/><stop offset="0.085" stop-color="#000" stop-opacity="0.55"/><stop offset="0.1" stop-color="#060606" stop-opacity="0.9"/><stop offset="0.118" stop-color="#000" stop-opacity="0.6"/><stop offset="0.135" stop-color="#000" stop-opacity="0"/><stop offset="0.85" stop-color="#000" stop-opacity="0"/><stop offset="0.865" stop-color="#101010" stop-opacity="0.55"/><stop offset="0.9" stop-color="#101010" stop-opacity="0.55"/><stop offset="0.915" stop-color="#000" stop-opacity="0"/><stop offset="1" stop-color="#000" stop-opacity="0"/></linearGradient><linearGradient id="hW" gradientUnits="userSpaceOnUse" x1="0" x2="0" y1="588.30" y2="678.90"><stop offset="0" stop-color="#cccccc"/><stop offset="0.03333" stop-color="#808080"/><stop offset="0.0625" stop-color="#000000"/><stop offset="0.3333" stop-color="#000000"/><stop offset="0.375" stop-color="#262626"/><stop offset="0.4167" stop-color="#808080"/><stop offset="0.4583" stop-color="#d9d9d9"/><stop offset="0.5" stop-color="#ffffff"/><stop offset="0.9375" stop-color="#ffffff"/><stop offset="0.9667" stop-color="#ffffff"/><stop offset="1" stop-color="#ffffff"/></linearGradient><linearGradient id="hE" gradientUnits="userSpaceOnUse" x1="0" x2="0" y1="588.30" y2="678.90"><stop offset="0" stop-color="#1c1c1c" stop-opacity="0.8"/><stop offset="0.02917" stop-color="#1c1c1c" stop-opacity="0.6"/><stop offset="0.05833" stop-color="#1c1c1c" stop-opacity="0"/><stop offset="0.9167" stop-color="#1c1c1c" stop-opacity="0"/><stop offset="0.9583" stop-color="#1c1c1c" stop-opacity="0.35"/><stop offset="1" stop-color="#1c1c1c" stop-opacity="0.75"/></linearGradient><linearGradient id="hW3" gradientUnits="userSpaceOnUse" x1="0" x2="0" y1="588.30" y2="678.90"><stop offset="0" stop-color="#d9d9d9"/><stop offset="0.08333" stop-color="#b2b2b2"/><stop offset="0.2083" stop-color="#595959"/><stop offset="0.2917" stop-color="#1f1f1f"/><stop offset="0.3333" stop-color="#1a1a1a"/><stop offset="0.375" stop-color="#808080"/><stop offset="0.4167" stop-color="#e6e6e6"/><stop offset="1" stop-color="#ffffff"/></linearGradient><mask id="mhW" maskUnits="userSpaceOnUse" x="714.2" y="588.3" width="450.5" height="90.6"><rect x="714.2" y="588.3" width="450.5" height="90.6" fill="url(#hW)"/></mask><mask id="mhW3" maskUnits="userSpaceOnUse" x="714.2" y="588.3" width="450.5" height="90.6"><rect x="714.2" y="588.3" width="450.5" height="90.6" fill="url(#hW3)"/></mask><linearGradient id="hW4" gradientUnits="userSpaceOnUse" x1="0" x2="0" y1="588.30" y2="678.90"><stop offset="0" stop-color="#e6e6e6"/><stop offset="0.03333" stop-color="#999999"/><stop offset="0.0625" stop-color="#000000"/><stop offset="0.375" stop-color="#000000"/><stop offset="0.4167" stop-color="#1f1f1f"/><stop offset="0.4583" stop-color="#4c4c4c"/><stop offset="0.5417" stop-color="#808080"/><stop offset="0.6667" stop-color="#a8a8a8"/><stop offset="0.8333" stop-color="#d9d9d9"/><stop offset="0.9375" stop-color="#ffffff"/><stop offset="1" stop-color="#ffffff"/></linearGradient><mask id="mhW4" maskUnits="userSpaceOnUse" x="714.2" y="588.3" width="450.5" height="90.6"><rect x="714.2" y="588.3" width="450.5" height="90.6" fill="url(#hW4)"/></mask><linearGradient id="cbh" gradientUnits="userSpaceOnUse" x1="0" x2="0" y1="588.30" y2="678.90"><stop offset="0" stop-color="#fff"/><stop offset="1" stop-color="#000"/></linearGradient><clipPath id="cpU"><rect x="680" y="880" width="520" height="21.500"/></clipPath></defs><g fill="none" stroke-linejoin="round"><rect x="15" y="503" width="69" height="45" fill="#d9d9d9"/><rect x="84" y="503" width="214" height="45" fill="#a6a6a6"/><rect x="298" y="503" width="170" height="45" fill="#595959"/><line x1="15.5" y1="569" x2="15.5" y2="648" stroke="#bfbfbf"/><line x1="84.5" y1="569" x2="84.5" y2="648" stroke="#8c8c8c"/><line x1="298.5" y1="569" x2="298.5" y2="648" stroke="#404040"/><line x1="392.5" y1="569" x2="392.5" y2="648" stroke="#bfbfbf"/><line x1="423.5" y1="569" x2="423.5" y2="648" stroke="#111"/><line x1="15" y1="629.5" x2="462" y2="629.5" stroke="#111"/><path d="M468 629 L457 624.500 L460 629 L457 633.500 Z" fill="#111"/><line x1="104.3" y1="703" x2="104.3" y2="784" stroke="#cfcfcf" stroke-width="0.8"/><line x1="159" y1="703" x2="159" y2="784" stroke="#cfcfcf" stroke-width="0.8"/><line x1="213.7" y1="703" x2="213.7" y2="784" stroke="#cfcfcf" stroke-width="0.8"/><line x1="268.5" y1="703" x2="268.5" y2="784" stroke="#cfcfcf" stroke-width="0.8"/><line x1="323.2" y1="703" x2="323.2" y2="784" stroke="#cfcfcf" stroke-width="0.8"/><line x1="377.9" y1="703" x2="377.9" y2="784" stroke="#cfcfcf" stroke-width="0.8"/><line x1="377.9" y1="703" x2="377.9" y2="784" stroke="#555" stroke-width="0.8"/><line x1="213.7" y1="703" x2="213.7" y2="784" stroke="#999" stroke-width="0.8"/><line x1="268.5" y1="703" x2="268.5" y2="784" stroke="#999" stroke-width="0.8"/><line x1="49.6" y1="770.5" x2="432.6" y2="770.5" stroke="#dcdcdc" stroke-width="0.8"/><line x1="49.6" y1="757" x2="432.6" y2="757" stroke="#dcdcdc" stroke-width="0.8"/><line x1="49.6" y1="743.5" x2="432.6" y2="743.5" stroke="#dcdcdc" stroke-width="0.8"/><line x1="49.6" y1="730" x2="432.6" y2="730" stroke="#dcdcdc" stroke-width="0.8"/><line x1="49.6" y1="716.5" x2="432.6" y2="716.5" stroke="#dcdcdc" stroke-width="0.8"/><rect x="49.6" y="703" width="383" height="81" fill="none" stroke="#555" stroke-width="0.9"/><line x1="49.6" y1="703" x2="49.6" y2="784" stroke="#9a3fc0"/><line x1="432.6" y1="703" x2="432.6" y2="784" stroke="#5fd35f"/><line x1="49.30" y1="783.20" x2="433.20" y2="783.20" stroke="#444" stroke-width="1.6" stroke-dasharray="0.6 4.8714"/><line x1="49.30" y1="703.80" x2="433.20" y2="703.80" stroke="#444" stroke-width="1.6" stroke-dasharray="0.6 4.8714"/><line x1="49.6" y1="784" x2="49.6" y2="781" stroke="#333" stroke-width="0.8"/><line x1="49.6" y1="703" x2="49.6" y2="706" stroke="#333" stroke-width="0.8"/><line x1="104.3" y1="784" x2="104.3" y2="781" stroke="#333" stroke-width="0.8"/><line x1="104.3" y1="703" x2="104.3" y2="706" stroke="#333" stroke-width="0.8"/><line x1="159" y1="784" x2="159" y2="781" stroke="#333" stroke-width="0.8"/><line x1="159" y1="703" x2="159" y2="706" stroke="#333" stroke-width="0.8"/><line x1="213.7" y1="784" x2="213.7" y2="781" stroke="#333" stroke-width="0.8"/><line x1="213.7" y1="703" x2="213.7" y2="706" stroke="#333" stroke-width="0.8"/><line x1="268.5" y1="784" x2="268.5" y2="781" stroke="#333" stroke-width="0.8"/><line x1="268.5" y1="703" x2="268.5" y2="706" stroke="#333" stroke-width="0.8"/><line x1="323.2" y1="784" x2="323.2" y2="781" stroke="#333" stroke-width="0.8"/><line x1="323.2" y1="703" x2="323.2" y2="706" stroke="#333" stroke-width="0.8"/><line x1="377.9" y1="784" x2="377.9" y2="781" stroke="#333" stroke-width="0.8"/><line x1="377.9" y1="703" x2="377.9" y2="706" stroke="#333" stroke-width="0.8"/><line x1="432.6" y1="784" x2="432.6" y2="781" stroke="#333" stroke-width="0.8"/><line x1="432.6" y1="703" x2="432.6" y2="706" stroke="#333" stroke-width="0.8"/><line x1="49.6" y1="784" x2="52.6" y2="784" stroke="#a040c8" stroke-width="0.8"/><line x1="49.6" y1="770.5" x2="52.6" y2="770.5" stroke="#a040c8" stroke-width="0.8"/><line x1="49.6" y1="757" x2="52.6" y2="757" stroke="#a040c8" stroke-width="0.8"/><line x1="49.6" y1="743.5" x2="52.6" y2="743.5" stroke="#a040c8" stroke-width="0.8"/><line x1="49.6" y1="730" x2="52.6" y2="730" stroke="#a040c8" stroke-width="0.8"/><line x1="49.6" y1="716.5" x2="52.6" y2="716.5" stroke="#a040c8" stroke-width="0.8"/><line x1="49.6" y1="703" x2="52.6" y2="703" stroke="#a040c8" stroke-width="0.8"/><line x1="432.6" y1="784" x2="429.6" y2="784" stroke="#55d455" stroke-width="0.8"/><line x1="432.6" y1="770.5" x2="429.6" y2="770.5" stroke="#55d455" stroke-width="0.8"/><line x1="432.6" y1="757" x2="429.6" y2="757" stroke="#55d455" stroke-width="0.8"/><line x1="432.6" y1="743.5" x2="429.6" y2="743.5" stroke="#55d455" stroke-width="0.8"/><line x1="432.6" y1="730" x2="429.6" y2="730" stroke="#55d455" stroke-width="0.8"/><line x1="432.6" y1="716.5" x2="429.6" y2="716.5" stroke="#55d455" stroke-width="0.8"/><line x1="432.6" y1="703" x2="429.6" y2="703" stroke="#55d455" stroke-width="0.8"/><path d="M49.6 770L66 768.9L93.4 771L120.7 771.3L148.1 772.7L175.4 771.8L202.8 769.2L230.2 763.8L257.5 757.8L284.9 750.2L312.2 742.2L339.6 734.9L366.9 730.8L394.3 723.2L421.7 715.2L432.6 711.1" stroke="#3fd63f" stroke-width="1.5" stroke-dasharray="6 4"/><path d="M49.6 759.7L66 750.3L93.4 742.1L120.7 743.5L148.1 744.2L175.4 749.6L202.8 755L230.2 750.9L257.5 747.5L284.9 741.5L312.2 731.3L339.6 724.6L366.9 724.6L394.3 720.5L421.7 713.8L432.6 711.1" stroke="#8e2fc4" stroke-width="1.3"/><line x1="104.3" y1="801" x2="104.3" y2="883" stroke="#d6d6d6" stroke-width="0.8"/><line x1="159" y1="801" x2="159" y2="883" stroke="#d6d6d6" stroke-width="0.8"/><line x1="213.7" y1="801" x2="213.7" y2="883" stroke="#d6d6d6" stroke-width="0.8"/><line x1="268.5" y1="801" x2="268.5" y2="883" stroke="#d6d6d6" stroke-width="0.8"/><line x1="323.2" y1="801" x2="323.2" y2="883" stroke="#d6d6d6" stroke-width="0.8"/><line x1="377.9" y1="801" x2="377.9" y2="883" stroke="#d6d6d6" stroke-width="0.8"/><line x1="49.6" y1="869.3" x2="432.6" y2="869.3" stroke="#e6e6e6" stroke-width="0.8"/><line x1="49.6" y1="855.7" x2="432.6" y2="855.7" stroke="#e6e6e6" stroke-width="0.8"/><line x1="49.6" y1="842" x2="432.6" y2="842" stroke="#e6e6e6" stroke-width="0.8"/><line x1="49.6" y1="828.3" x2="432.6" y2="828.3" stroke="#e6e6e6" stroke-width="0.8"/><line x1="49.6" y1="814.7" x2="432.6" y2="814.7" stroke="#e6e6e6" stroke-width="0.8"/><line x1="49.6" y1="801" x2="49.6" y2="883" stroke="#444"/><line x1="49.6" y1="883" x2="432.6" y2="883" stroke="#444"/><line x1="49.6" y1="801" x2="432.6" y2="801" stroke="#666" stroke-dasharray="1 4.47"/><line x1="432.6" y1="801" x2="432.6" y2="883" stroke="#bbb" stroke-width="0.8"/><line x1="49.30" y1="882.20" x2="433.20" y2="882.20" stroke="#444" stroke-width="1.6" stroke-dasharray="0.6 4.8714"/><line x1="49.30" y1="801.80" x2="433.20" y2="801.80" stroke="#444" stroke-width="1.6" stroke-dasharray="0.6 4.8714"/><line x1="49.6" y1="883" x2="49.6" y2="880" stroke="#333" stroke-width="0.8"/><line x1="49.6" y1="801" x2="49.6" y2="804" stroke="#333" stroke-width="0.8"/><line x1="104.3" y1="883" x2="104.3" y2="880" stroke="#333" stroke-width="0.8"/><line x1="104.3" y1="801" x2="104.3" y2="804" stroke="#333" stroke-width="0.8"/><line x1="159" y1="883" x2="159" y2="880" stroke="#333" stroke-width="0.8"/><line x1="159" y1="801" x2="159" y2="804" stroke="#333" stroke-width="0.8"/><line x1="213.7" y1="883" x2="213.7" y2="880" stroke="#333" stroke-width="0.8"/><line x1="213.7" y1="801" x2="213.7" y2="804" stroke="#333" stroke-width="0.8"/><line x1="268.5" y1="883" x2="268.5" y2="880" stroke="#333" stroke-width="0.8"/><line x1="268.5" y1="801" x2="268.5" y2="804" stroke="#333" stroke-width="0.8"/><line x1="323.2" y1="883" x2="323.2" y2="880" stroke="#333" stroke-width="0.8"/><line x1="323.2" y1="801" x2="323.2" y2="804" stroke="#333" stroke-width="0.8"/><line x1="377.9" y1="883" x2="377.9" y2="880" stroke="#333" stroke-width="0.8"/><line x1="377.9" y1="801" x2="377.9" y2="804" stroke="#333" stroke-width="0.8"/><line x1="432.6" y1="883" x2="432.6" y2="880" stroke="#333" stroke-width="0.8"/><line x1="432.6" y1="801" x2="432.6" y2="804" stroke="#333" stroke-width="0.8"/><line x1="49.6" y1="883" x2="52.6" y2="883" stroke="#333" stroke-width="0.8"/><line x1="49.6" y1="869.3" x2="52.6" y2="869.3" stroke="#333" stroke-width="0.8"/><line x1="49.6" y1="855.7" x2="52.6" y2="855.7" stroke="#333" stroke-width="0.8"/><line x1="49.6" y1="842" x2="52.6" y2="842" stroke="#333" stroke-width="0.8"/><line x1="49.6" y1="828.3" x2="52.6" y2="828.3" stroke="#333" stroke-width="0.8"/><line x1="49.6" y1="814.7" x2="52.6" y2="814.7" stroke="#333" stroke-width="0.8"/><line x1="49.6" y1="801" x2="52.6" y2="801" stroke="#333" stroke-width="0.8"/><path d="M115.3 872.1L131.7 870.4L148.1 869.3L164.5 867.3L180.9 865L197.3 862.5L213.7 859.9L230.2 856.6L246.6 853.6L263 850.6L279.4 846.8L295.8 844.5L312.2 841.5L328.6 837.4L345.1 834.5L361.5 830L377.9 825.7L394.3 821.6L410.7 817.1L421.7 814.1L432.6 810.2" stroke="#1a1ab8" stroke-width="1.5"/><path d="M49.6 880.3L115.3 872.1" stroke="#e02020" stroke-width="1.4" stroke-dasharray="6 4"/><line x1="124" y1="814" x2="155" y2="814" stroke="#1a1ab8" stroke-width="1.4"/><line x1="268" y1="814" x2="298" y2="814" stroke="#e02020" stroke-width="1.4" stroke-dasharray="6 4"/><g filter="url(#cmA)"><rect x="714.2" y="477.8" width="450.5" height="89.7" fill="url(#fN)"/><g mask="url(#mF)"><rect x="714.2" y="477.8" width="450.5" height="89.7" fill="url(#fS)"/><rect x="714.2" y="477.8" width="450.5" height="89.7" fill="url(#fS2)" mask="url(#mW2)"/></g><g mask="url(#mW)"><rect x="714.2" y="477.8" width="450.5" height="89.7" fill="url(#fD)"/><rect x="714.2" y="477.8" width="450.5" height="89.7" fill="url(#fSA)"/></g><rect x="1169.200" y="477.8" width="5.400" height="89.7" fill="url(#cbg)"/></g><rect x="824" y="477.5" width="1" height="90.3" fill="#fff"/><rect x="1001.2" y="477.5" width="4.8" height="90.3" fill="#fff"/><rect x="1016" y="477.5" width="7.1" height="90.3" fill="#fff"/><rect x="1033" y="477.5" width="1" height="90.3" fill="#fff"/><rect x="1044" y="477.5" width="1" height="90.3" fill="#fff"/><rect x="1088.1" y="477.5" width="3.5" height="90.3" fill="#fff"/><rect x="1101" y="477.5" width="1" height="90.3" fill="#fff"/><rect x="1129" y="477.5" width="1" height="90.3" fill="#fff"/><rect x="749.6" y="485.3" width="4.2" height="18.7" fill="#fff"/><rect x="756.2" y="485.3" width="0.8" height="18.7" fill="#fff"/><path d="M1104.8 520.8L1104.8 481.5L1106.8 480.4L1108.1 489L1109.7 480.8L1111.3 490.9L1112.9 481.5L1114.5 487.1L1116.4 480.8L1118.4 485.3L1120.9 483.4L1121.6 519.7L1119.7 513.3L1118 522.6L1116.1 514.1L1114.2 524.1L1112.2 514.4L1110.3 523.4L1108.4 515.2L1106.8 523.4Z" fill="#fff"/><line x1="714.2" y1="477.8" x2="714.2" y2="567.5" stroke="#333" stroke-width="0.8"/><line x1="714.2" y1="567.5" x2="1164.7" y2="567.5" stroke="#333" stroke-width="0.8"/><line x1="714.2" y1="567.5" x2="716.2" y2="567.5" stroke="#333" stroke-width="0.8"/><line x1="714.2" y1="548.8" x2="716.2" y2="548.8" stroke="#333" stroke-width="0.8"/><line x1="714.2" y1="530.1" x2="716.2" y2="530.1" stroke="#333" stroke-width="0.8"/><line x1="714.2" y1="511.4" x2="716.2" y2="511.4" stroke="#333" stroke-width="0.8"/><line x1="714.2" y1="492.8" x2="716.2" y2="492.8" stroke="#333" stroke-width="0.8"/><rect x="1169.2" y="477.8" width="5.4" height="89.7" fill="none" stroke="#444" stroke-width="0.5"/><g filter="url(#cmB)"><rect x="714.2" y="588.3" width="450.5" height="90.6" fill="url(#hN)"/><rect x="714.2" y="588.3" width="450.5" height="90.6" fill="url(#hSA)"/><g mask="url(#mhW)"><rect x="714.2" y="588.3" width="450.5" height="90.6" fill="url(#hD)"/></g><g mask="url(#mhW4)"><rect x="714.2" y="588.3" width="450.5" height="90.6" fill="url(#hS)"/></g><rect x="714.2" y="588.3" width="450.5" height="90.6" fill="url(#hE)"/><rect x="714.2" y="588.3" width="450.5" height="90.6" fill="url(#hB)" mask="url(#mhW3)"/><rect x="1169.200" y="588.3" width="5.400" height="90.6" fill="url(#cbh)"/></g><rect x="824" y="588" width="1" height="91.2" fill="#fff"/><rect x="1000.6" y="588" width="49.6" height="91.2" fill="#fff"/><rect x="1087.5" y="588" width="12.9" height="91.2" fill="#fff"/><rect x="1129" y="588" width="1" height="91.2" fill="#fff"/><rect x="749.6" y="595.8" width="4.2" height="18.9" fill="#fff"/><rect x="756.2" y="595.8" width="0.8" height="18.9" fill="#fff"/><path d="M1104.8 631.7L1104.8 592.1L1106.8 590.9L1108.1 599.6L1109.7 591.3L1111.3 601.5L1112.9 592.1L1114.5 597.7L1116.4 591.3L1118.4 595.8L1120.9 594L1121.6 630.6L1119.7 624.2L1118 633.6L1116.1 624.9L1114.2 635.1L1112.2 625.3L1110.3 634.4L1108.4 626L1106.8 634.4Z" fill="#fff"/><line x1="1036" y1="588.3" x2="1036" y2="678.9" stroke="#ddd" stroke-width="0.6"/><line x1="1000.6" y1="660" x2="1050.1" y2="660" stroke="#e4e4e4" stroke-width="0.6"/><line x1="1000.6" y1="641.1" x2="1050.1" y2="641.1" stroke="#e4e4e4" stroke-width="0.6"/><line x1="1000.6" y1="622.3" x2="1050.1" y2="622.3" stroke="#e4e4e4" stroke-width="0.6"/><line x1="1000.6" y1="603.4" x2="1050.1" y2="603.4" stroke="#e4e4e4" stroke-width="0.6"/><line x1="714.2" y1="588.3" x2="714.2" y2="678.9" stroke="#333" stroke-width="0.8"/><line x1="714.2" y1="678.9" x2="1164.7" y2="678.9" stroke="#333" stroke-width="0.8"/><line x1="714.2" y1="678.9" x2="716.2" y2="678.9" stroke="#333" stroke-width="0.8"/><line x1="714.2" y1="660" x2="716.2" y2="660" stroke="#333" stroke-width="0.8"/><line x1="714.2" y1="641.1" x2="716.2" y2="641.1" stroke="#333" stroke-width="0.8"/><line x1="714.2" y1="622.3" x2="716.2" y2="622.3" stroke="#333" stroke-width="0.8"/><line x1="714.2" y1="603.4" x2="716.2" y2="603.4" stroke="#333" stroke-width="0.8"/><rect x="1169.2" y="588.3" width="5.4" height="90.6" fill="none" stroke="#444" stroke-width="0.5"/><line x1="783.6" y1="703.7" x2="783.6" y2="793.6" stroke="#d4d4d4" stroke-width="0.8"/><line x1="848.7" y1="703.7" x2="848.7" y2="793.6" stroke="#d4d4d4" stroke-width="0.8"/><line x1="913.9" y1="703.7" x2="913.9" y2="793.6" stroke="#d4d4d4" stroke-width="0.8"/><line x1="979.1" y1="703.7" x2="979.1" y2="793.6" stroke="#d4d4d4" stroke-width="0.8"/><line x1="1044.3" y1="703.7" x2="1044.3" y2="793.6" stroke="#d4d4d4" stroke-width="0.8"/><line x1="1109.4" y1="703.7" x2="1109.4" y2="793.6" stroke="#d4d4d4" stroke-width="0.8"/><line x1="718.4" y1="776.5" x2="1174.6" y2="776.5" stroke="#e2e2e2" stroke-width="0.8"/><line x1="718.4" y1="760.2" x2="1174.6" y2="760.2" stroke="#e2e2e2" stroke-width="0.8"/><line x1="718.4" y1="743.9" x2="1174.6" y2="743.9" stroke="#e2e2e2" stroke-width="0.8"/><line x1="718.4" y1="727.6" x2="1174.6" y2="727.6" stroke="#e2e2e2" stroke-width="0.8"/><line x1="718.4" y1="711.3" x2="1174.6" y2="711.3" stroke="#e2e2e2" stroke-width="0.8"/><line x1="783.6" y1="794.7" x2="783.6" y2="883.5" stroke="#d4d4d4" stroke-width="0.8"/><line x1="848.7" y1="794.7" x2="848.7" y2="883.5" stroke="#d4d4d4" stroke-width="0.8"/><line x1="913.9" y1="794.7" x2="913.9" y2="883.5" stroke="#d4d4d4" stroke-width="0.8"/><line x1="979.1" y1="794.7" x2="979.1" y2="883.5" stroke="#d4d4d4" stroke-width="0.8"/><line x1="1044.3" y1="794.7" x2="1044.3" y2="883.5" stroke="#d4d4d4" stroke-width="0.8"/><line x1="1109.4" y1="794.7" x2="1109.4" y2="883.5" stroke="#d4d4d4" stroke-width="0.8"/><line x1="718.4" y1="868.3" x2="1174.6" y2="868.3" stroke="#e2e2e2" stroke-width="0.8"/><line x1="718.4" y1="853.4" x2="1174.6" y2="853.4" stroke="#e2e2e2" stroke-width="0.8"/><line x1="718.4" y1="838.5" x2="1174.6" y2="838.5" stroke="#e2e2e2" stroke-width="0.8"/><line x1="718.4" y1="823.6" x2="1174.6" y2="823.6" stroke="#e2e2e2" stroke-width="0.8"/><line x1="718.4" y1="808.7" x2="1174.6" y2="808.7" stroke="#e2e2e2" stroke-width="0.8"/><path d="M718.4 711.3L724.9 736.2L731.4 715.6L738 732.5L744.5 748L751 768.3L757.5 774.4L764 773.2L770.5 771.6L777.1 725.1L783.6 714.5L790.1 711.3L796.6 712.1L803.1 730.8L809.6 752.4L816.2 756.1L822.7 770L829.2 771.6L835.7 773.2L842.2 761L848.7 726.8L855.3 733.3L861.8 722.7L868.3 727.6L874.8 748.8L881.3 740.6L887.8 756.1L894.4 768.7L900.9 774L907.4 771.6L913.9 771.6L920.4 734.9L926.9 720.2L933.5 723.5L940 715.4L946.5 714.5L953 745.5L959.5 743.9L966.1 773.6L972.6 771.2L979.1 773.2L985.6 749.2L992.1 715.4L998.6 718.2L1005.2 712.9L1011.7 723.1L1018.2 737.4L1024.7 763.4L1031.2 766.7L1037.7 776.5L1044.3 775.3L1050.8 752L1057.3 741.4L1063.8 715.4L1070.3 721.5L1076.8 720.7L1083.4 738.2L1089.9 752L1096.4 765.1L1102.9 774L1109.4 776.5L1115.9 776.5L1122.5 778.1L1129 768.3L1135.5 748L1142 748L1148.5 751.2L1155 731.7L1161.6 740.6L1168.1 761.8" stroke="#14148c" stroke-width="1.5"/><path d="M718.4 806.6L724.9 835.2L731.4 817.3L738 835.5L744.5 844.2L751 848.9L757.5 850.7L764 850.7L770.5 849.8L777.1 831.4L783.6 818.5L790.1 802.1L796.6 809.9L803.1 832.5L809.6 843.3L816.2 844.2L822.7 848.9L829.2 849.8L835.7 850.1L842.2 846.5L848.7 829.6L855.3 833.4L861.8 826.3L868.3 830.2L874.8 841.5L881.3 837.9L887.8 844.2L894.4 848.9L900.9 850.7L907.4 849.8L913.9 849.8L920.4 834.6L926.9 822.7L933.5 827.5L940 817.3L946.5 815.9L953 840L959.5 839.4L966.1 850.4L972.6 849.8L979.1 850.4L985.6 842.1L992.1 818.5L998.6 822.1L1005.2 810.8L1011.7 826.9L1018.2 837.3L1024.7 846.8L1031.2 848.6L1037.7 851.6L1044.3 851.3L1050.8 843.3L1057.3 838.8L1063.8 817.6L1070.3 826L1076.8 825.4L1083.4 836.7L1089.9 843.3L1096.4 848L1102.9 851.3L1109.4 851.9L1115.9 851.9L1122.5 852.5L1129 849.8L1135.5 842.7L1142 842.7L1148.5 843.3L1155 834L1161.6 839.4L1168.1 847.4" stroke="#14148c" stroke-width="1.5"/><path d="M715.8 734.1h5.2M718.4 731.5v5.2M722.3 712.5h5.2M724.9 709.9v5.2M728.8 714.5h5.2M731.4 711.9v5.2M735.4 717h5.2M738 714.4v5.2M741.9 747.1h5.2M744.5 744.5v5.2M748.4 749.2h5.2M751 746.6v5.2M754.9 774h5.2M757.5 771.4v5.2M761.4 770.8h5.2M764 768.2v5.2M767.9 771.2h5.2M770.5 768.6v5.2M774.5 717.4h5.2M777.1 714.8v5.2M781 715.4h5.2M783.6 712.8v5.2M787.5 729.2h5.2M790.1 726.6v5.2M794 717.8h5.2M796.6 715.2v5.2M800.5 727.6h5.2M803.1 725v5.2M807 734.9h5.2M809.6 732.3v5.2M813.6 758.6h5.2M816.2 756v5.2M820.1 770h5.2M822.7 767.4v5.2M826.6 770h5.2M829.2 767.4v5.2M833.1 771.2h5.2M835.7 768.6v5.2M839.6 769.1h5.2M842.2 766.5v5.2M846.1 735.3h5.2M848.7 732.7v5.2M852.7 726h5.2M855.3 723.4v5.2M859.2 729.6h5.2M861.8 727v5.2M872.2 739.8h5.2M874.8 737.2v5.2M878.7 734.9h5.2M881.3 732.3v5.2M885.2 740.6h5.2M887.8 738v5.2M891.8 762.2h5.2M894.4 759.6v5.2M898.3 763.4h5.2M900.9 760.8v5.2M904.8 773.6h5.2M907.4 771v5.2M911.3 765.9h5.2M913.9 763.3v5.2M917.8 737.4h5.2M920.4 734.8v5.2M924.3 721.1h5.2M926.9 718.5v5.2M930.9 723.5h5.2M933.5 720.9v5.2M937.4 721.9h5.2M940 719.3v5.2M943.9 703.9h5.2M946.5 701.3v5.2M950.4 737.4h5.2M953 734.8v5.2M956.9 734.5h5.2M959.5 731.9v5.2M963.5 770.4h5.2M966.1 767.8v5.2M970 776.1h5.2M972.6 773.5v5.2M976.5 774h5.2M979.1 771.4v5.2M983 747.1h5.2M985.6 744.5v5.2M996 724.3h5.2M998.6 721.7v5.2M1002.6 724.3h5.2M1005.2 721.7v5.2M1015.6 734.1h5.2M1018.2 731.5v5.2M1035.1 773.6h5.2M1037.7 771v5.2M1041.7 783h5.2M1044.3 780.4v5.2M1048.2 758.1h5.2M1050.8 755.5v5.2M1054.7 741.4h5.2M1057.3 738.8v5.2M1061.2 733.3h5.2M1063.8 730.7v5.2M1074.2 732.5h5.2M1076.8 729.9v5.2M1080.8 730.4h5.2M1083.4 727.8v5.2M1087.3 746.3h5.2M1089.9 743.7v5.2M1100.3 764.3h5.2M1102.9 761.7v5.2M1113.3 776.5h5.2M1115.9 773.9v5.2M1119.9 789.9h5.2M1122.5 787.3v5.2M1126.4 776.5h5.2M1129 773.9v5.2M1132.9 758.6h5.2M1135.5 756v5.2M1139.4 750h5.2M1142 747.4v5.2M1145.9 751.2h5.2M1148.5 748.6v5.2M1152.4 737.4h5.2M1155 734.8v5.2M1159 739.8h5.2M1161.6 737.2v5.2M1165.5 768.3h5.2M1168.1 765.7v5.2M715.8 839.4h5.2M718.4 836.8v5.2M722.3 847.4h5.2M724.9 844.8v5.2M728.8 837h5.2M731.4 834.4v5.2M735.4 847.4h5.2M738 844.8v5.2M741.9 860.9h5.2M744.5 858.3v5.2M748.4 862.9h5.2M751 860.3v5.2M754.9 864.7h5.2M757.5 862.1v5.2M761.4 860.9h5.2M764 858.3v5.2M767.9 864.7h5.2M770.5 862.1v5.2M774.5 847.4h5.2M777.1 844.8v5.2M781 834h5.2M783.6 831.4v5.2M787.5 820.6h5.2M790.1 818v5.2M794 828.1h5.2M796.6 825.5v5.2M807 845.1h5.2M809.6 842.5v5.2M813.6 852.5h5.2M816.2 849.9v5.2M820.1 851.3h5.2M822.7 848.7v5.2M826.6 856.7h5.2M829.2 854.1v5.2M833.1 858.8h5.2M835.7 856.2v5.2M839.6 854.6h5.2M842.2 852v5.2M846.1 835.2h5.2M848.7 832.6v5.2M852.7 837h5.2M855.3 834.4v5.2M859.2 838.2h5.2M861.8 835.6v5.2M872.2 849.8h5.2M874.8 847.2v5.2M878.7 857h5.2M881.3 854.4v5.2M885.2 857h5.2M887.8 854.4v5.2M891.8 860.9h5.2M894.4 858.3v5.2M898.3 854.6h5.2M900.9 852v5.2M904.8 858.8h5.2M907.4 856.2v5.2M911.3 857h5.2M913.9 854.4v5.2M917.8 842.4h5.2M920.4 839.8v5.2M924.3 824.8h5.2M926.9 822.2v5.2M930.9 832.2h5.2M933.5 829.6v5.2M937.4 821.2h5.2M940 818.6v5.2M943.9 831.1h5.2M946.5 828.5v5.2M950.4 851.3h5.2M953 848.7v5.2M956.9 851.3h5.2M959.5 848.7v5.2M963.5 858.8h5.2M966.1 856.2v5.2M970 863.2h5.2M972.6 860.6v5.2M976.5 857h5.2M979.1 854.4v5.2M983 847.4h5.2M985.6 844.8v5.2M996 842.7h5.2M998.6 840.1v5.2M1002.6 837.3h5.2M1005.2 834.7v5.2M1054.7 851.3h5.2M1057.3 848.7v5.2M1061.2 830.8h5.2M1063.8 828.2v5.2M1074.2 835.2h5.2M1076.8 832.6v5.2M1080.8 853.4h5.2M1083.4 850.8v5.2M1087.3 853.4h5.2M1089.9 850.8v5.2M1113.3 866.5h5.2M1115.9 863.9v5.2M1119.9 865.3h5.2M1122.5 862.7v5.2M1126.4 862.9h5.2M1129 860.3v5.2M1132.9 850.7h5.2M1135.5 848.1v5.2M1139.4 852.5h5.2M1142 849.9v5.2M1145.9 853.1h5.2M1148.5 850.5v5.2M1152.4 842.7h5.2M1155 840.1v5.2M1159 849.2h5.2M1161.6 846.6v5.2M1165.5 859.1h5.2M1168.1 856.5v5.2M961.9 806.6h5.2M964.5 804v5.2" stroke="#d81818" stroke-width="1.300"/><rect x="718.4" y="703.7" width="456.2" height="89.9" fill="none" stroke="#555" stroke-width="0.9"/><rect x="718.4" y="794.7" width="456.2" height="88.8" fill="none" stroke="#555" stroke-width="0.9"/><line x1="718.4" y1="794.1" x2="1174.6" y2="794.1" stroke="#8a8a8a" stroke-width="2"/><line x1="718.10" y1="792.70" x2="1175.20" y2="792.70" stroke="#444" stroke-width="1.8" stroke-dasharray="0.6 5.9171"/><line x1="718.10" y1="704.60" x2="1175.20" y2="704.60" stroke="#444" stroke-width="1.8" stroke-dasharray="0.6 5.9171"/><line x1="718.10" y1="882.60" x2="1175.20" y2="882.60" stroke="#444" stroke-width="1.8" stroke-dasharray="0.6 5.9171"/><line x1="718.10" y1="795.60" x2="1175.20" y2="795.60" stroke="#444" stroke-width="1.8" stroke-dasharray="0.6 5.9171"/><line x1="718.4" y1="776.5" x2="720.9" y2="776.5" stroke="#333" stroke-width="0.8"/><line x1="718.4" y1="760.2" x2="720.9" y2="760.2" stroke="#333" stroke-width="0.8"/><line x1="718.4" y1="743.9" x2="720.9" y2="743.9" stroke="#333" stroke-width="0.8"/><line x1="718.4" y1="727.6" x2="720.9" y2="727.6" stroke="#333" stroke-width="0.8"/><line x1="718.4" y1="711.3" x2="720.9" y2="711.3" stroke="#333" stroke-width="0.8"/><line x1="718.4" y1="868.3" x2="720.9" y2="868.3" stroke="#333" stroke-width="0.8"/><line x1="718.4" y1="853.4" x2="720.9" y2="853.4" stroke="#333" stroke-width="0.8"/><line x1="718.4" y1="838.5" x2="720.9" y2="838.5" stroke="#333" stroke-width="0.8"/><line x1="718.4" y1="823.6" x2="720.9" y2="823.6" stroke="#333" stroke-width="0.8"/><line x1="718.4" y1="808.7" x2="720.9" y2="808.7" stroke="#333" stroke-width="0.8"/><line x1="718.4" y1="883.5" x2="718.4" y2="880.5" stroke="#333" stroke-width="0.8"/><line x1="718.4" y1="794.7" x2="718.4" y2="797.7" stroke="#333" stroke-width="0.8"/><line x1="783.6" y1="883.5" x2="783.6" y2="880.5" stroke="#333" stroke-width="0.8"/><line x1="783.6" y1="794.7" x2="783.6" y2="797.7" stroke="#333" stroke-width="0.8"/><line x1="848.7" y1="883.5" x2="848.7" y2="880.5" stroke="#333" stroke-width="0.8"/><line x1="848.7" y1="794.7" x2="848.7" y2="797.7" stroke="#333" stroke-width="0.8"/><line x1="913.9" y1="883.5" x2="913.9" y2="880.5" stroke="#333" stroke-width="0.8"/><line x1="913.9" y1="794.7" x2="913.9" y2="797.7" stroke="#333" stroke-width="0.8"/><line x1="979.1" y1="883.5" x2="979.1" y2="880.5" stroke="#333" stroke-width="0.8"/><line x1="979.1" y1="794.7" x2="979.1" y2="797.7" stroke="#333" stroke-width="0.8"/><line x1="1044.3" y1="883.5" x2="1044.3" y2="880.5" stroke="#333" stroke-width="0.8"/><line x1="1044.3" y1="794.7" x2="1044.3" y2="797.7" stroke="#333" stroke-width="0.8"/><line x1="1109.4" y1="883.5" x2="1109.4" y2="880.5" stroke="#333" stroke-width="0.8"/><line x1="1109.4" y1="794.7" x2="1109.4" y2="797.7" stroke="#333" stroke-width="0.8"/><line x1="1174.6" y1="883.5" x2="1174.6" y2="880.5" stroke="#333" stroke-width="0.8"/><line x1="1174.6" y1="794.7" x2="1174.6" y2="797.7" stroke="#333" stroke-width="0.8"/><line x1="855.6" y1="806.6" x2="888.5" y2="806.6" stroke="#14148c" stroke-width="1.5"/><g clip-path="url(#cpU)"><text x="687" y="902" font-size="8.600" fill="#222" textLength="85" lengthAdjust="spacingAndGlyphs">UT=8; LT=15.6</text><text x="947" y="902" font-size="8.600" fill="#333" text-anchor="middle">Year</text></g><line x1="62.8" y1="919.8" x2="62.8" y2="1023.8" stroke="#dcdcdc" stroke-width="0.8"/><line x1="126.5" y1="919.8" x2="126.5" y2="1023.8" stroke="#dcdcdc" stroke-width="0.8"/><line x1="190.2" y1="919.8" x2="190.2" y2="1023.8" stroke="#dcdcdc" stroke-width="0.8"/><line x1="253.8" y1="919.8" x2="253.8" y2="1023.8" stroke="#dcdcdc" stroke-width="0.8"/><line x1="317.5" y1="919.8" x2="317.5" y2="1023.8" stroke="#dcdcdc" stroke-width="0.8"/><line x1="381.2" y1="919.8" x2="381.2" y2="1023.8" stroke="#dcdcdc" stroke-width="0.8"/><line x1="444.9" y1="919.8" x2="444.9" y2="1023.8" stroke="#dcdcdc" stroke-width="0.8"/><line x1="48" y1="997.8" x2="460" y2="997.8" stroke="#e4e4e4" stroke-width="0.8"/><line x1="48" y1="971.8" x2="460" y2="971.8" stroke="#e4e4e4" stroke-width="0.8"/><line x1="48" y1="945.8" x2="460" y2="945.8" stroke="#e4e4e4" stroke-width="0.8"/><line x1="62.8" y1="1029" x2="62.8" y2="1133.8" stroke="#dcdcdc" stroke-width="0.8"/><line x1="126.5" y1="1029" x2="126.5" y2="1133.8" stroke="#dcdcdc" stroke-width="0.8"/><line x1="190.2" y1="1029" x2="190.2" y2="1133.8" stroke="#dcdcdc" stroke-width="0.8"/><line x1="253.8" y1="1029" x2="253.8" y2="1133.8" stroke="#dcdcdc" stroke-width="0.8"/><line x1="317.5" y1="1029" x2="317.5" y2="1133.8" stroke="#dcdcdc" stroke-width="0.8"/><line x1="381.2" y1="1029" x2="381.2" y2="1133.8" stroke="#dcdcdc" stroke-width="0.8"/><line x1="444.9" y1="1029" x2="444.9" y2="1133.8" stroke="#dcdcdc" stroke-width="0.8"/><line x1="48" y1="1123.8" x2="460" y2="1123.8" stroke="#e4e4e4" stroke-width="0.8"/><line x1="48" y1="1103.7" x2="460" y2="1103.7" stroke="#e4e4e4" stroke-width="0.8"/><line x1="48" y1="1083.6" x2="460" y2="1083.6" stroke="#e4e4e4" stroke-width="0.8"/><line x1="48" y1="1063.5" x2="460" y2="1063.5" stroke="#e4e4e4" stroke-width="0.8"/><line x1="48" y1="1043.5" x2="460" y2="1043.5" stroke="#e4e4e4" stroke-width="0.8"/><path d="M62.8 941.2L65.7 941.1L69.8 940.7L74.4 940.7L78.7 941.2L82.7 942.8L86.7 945L90.7 947.4L94.6 949.7L98.6 951.7L102.6 953.7L106.6 955.6L110.6 957.5L114.5 959.5L118.5 961.6L122.5 963.4L126.5 964.6L130.5 965.1L134.4 965L138.4 964.6L142.4 964L146.4 963.3L150.4 962.3L154.3 961.2L158.3 960.1L162.3 959L166.3 957.9L170.3 956.7L174.2 955.5L178.2 954.4L182.2 953.1L186.2 952L190.2 951L194.1 950.5L198.1 950.4L202.1 950L206.1 949L210.1 947.1L214 944.4L218 941.6L222 939.3L226 937.4L230 935.8L233.9 934.5L237.9 933.4L241.9 932.8L245.9 932.4L249.9 932.3L253.8 932.8L257.8 933.9L261.8 935.4L265.8 937.3L269.8 939.3L273.7 941.5L277.7 943.9L281.7 946.3L285.7 948.4L289.7 950.2L293.6 951.7L297.6 953.1L301.6 954.2L305.6 955.1L309.6 955.7L313.5 956.2L317.5 956.8L321.5 957.6L325.5 958.5L329.5 959.3L333.4 960.1L337.4 960.8L341.4 961.4L345.4 962L349.4 962.7L353.3 963.5L357.3 964.3L361.3 965.1L365.3 965.9L369.3 966.8L373.2 967.8L377.2 968.6L381.2 969.2L385.2 969.7L389.2 970.1L393.1 970L397.1 969.2L401.1 967.4L405.1 964.7L409.1 961.7L413 958.8L417 955.8L421 952.7L425 949.6L429 947.1L433.3 945.1L437.9 943.4L442 942.2L444.9 941.2" stroke="#22dd22" stroke-width="1.7" stroke-dasharray="1.200 1.300"/><path d="M62.8 954.9L65.7 954.5L69.8 954L74.4 953.4L78.7 952.9L82.7 952.4L86.7 951.9L90.7 951.5L94.6 951.6L98.6 952.4L102.6 953.6L106.6 955.1L110.6 956.8L114.5 959L118.5 961.5L122.5 964L126.5 965.9L130.5 967.2L134.4 968L138.4 968.6L142.4 969.2L146.4 969.7L150.4 969.9L154.3 970.3L158.3 971.1L162.3 972.6L166.3 974.4L170.3 976.4L174.2 978.3L178.2 979.9L182.2 981.5L186.2 983.1L190.2 984.8L194.1 986.7L198.1 988.8L202.1 991L206.1 993.2L210.1 995.7L214 998.4L218 1000.9L222 1003L226 1004.7L230 1006L233.9 1006.9L237.9 1006.9L241.9 1006.1L245.9 1004.5L249.9 1002.2L253.8 999.1L257.8 994.6L261.8 988.9L265.8 983.2L269.8 978.3L273.7 974.7L277.7 971.8L281.7 969.2L285.7 966.6L289.7 963.9L293.6 961.3L297.6 958.9L301.6 956.8L305.6 955.3L309.6 954.2L313.5 953.3L317.5 952.3L321.5 951.2L325.5 950.2L329.5 949.2L333.4 948.4L337.4 947.6L341.4 946.9L345.4 946.4L349.4 946.4L353.3 947.1L357.3 948.4L361.3 949.8L365.3 951L369.3 952.1L373.2 953.2L377.2 954.2L381.2 954.9L385.2 955.3L389.2 955.5L393.1 955.5L397.1 955.5L401.1 955.6L405.1 955.5L409.1 955.5L413 955.5L417 955.7L421 955.9L425 956.1L429 956.2L433.3 956.1L437.9 955.9L442 955.7L444.9 955.5" stroke="#1a1ab0" stroke-width="1.4" stroke-dasharray="7 4.500"/><path d="M62.8 951L78.7 947.8L94.6 954.2L110.6 967.9L126.5 985.4L142.4 988L158.3 986.1L174.2 989.3L190.2 991.3L206.1 995.8L222 998.4L237.9 995.8L253.8 984.8L269.8 971.8L285.7 967.2L301.6 966.6L317.5 964.6L333.4 962.7L349.4 964L365.3 971.8L381.2 978.3L397.1 979.6L413 969.2L429 957.5L444.9 951" stroke="#111" stroke-width="1.5"/><path d="M62.8 1080.4L65.7 1080.8L69.8 1081.2L74.4 1081.9L78.7 1082.8L82.7 1083.9L86.7 1085.3L90.7 1086.8L94.6 1088.4L98.6 1090.4L102.6 1092.6L106.6 1094.6L110.6 1095.7L114.5 1095.6L118.5 1094.7L122.5 1093.3L126.5 1091.6L130.5 1089.4L134.4 1086.7L138.4 1083.9L142.4 1081.6L146.4 1080L150.4 1078.8L154.3 1077.8L158.3 1076.8L162.3 1075.8L166.3 1075L170.3 1074.2L174.2 1073.6L178.2 1073.2L182.2 1072.9L186.2 1072.7L190.2 1072.4L194.1 1071.7L198.1 1070.9L202.1 1070.1L206.1 1069.6L210.1 1069.3L214 1069.3L218 1069.4L222 1069.6L226 1069.6L230 1069.7L233.9 1070L237.9 1070.8L241.9 1072L245.9 1073.7L249.9 1075.7L253.8 1077.6L257.8 1079.6L261.8 1081.8L265.8 1083.9L269.8 1085.6L273.7 1086.9L277.7 1087.8L281.7 1088.4L285.7 1088.8L289.7 1088.9L293.6 1088.6L297.6 1088.2L301.6 1087.6L305.6 1087L309.6 1086.2L313.5 1085.4L317.5 1084.4L321.5 1083.3L325.5 1082.1L329.5 1080.8L333.4 1079.6L337.4 1078.5L341.4 1077.5L345.4 1076.5L349.4 1075.6L353.3 1074.8L357.3 1074.1L361.3 1073.3L365.3 1072.4L369.3 1071L373.2 1069.3L377.2 1067.8L381.2 1066.7L385.2 1066.5L389.2 1066.9L393.1 1067.3L397.1 1067.5L401.1 1067L405.1 1066.2L409.1 1065.7L413 1066.3L417 1068.9L421 1072.8L425 1076.8L429 1079.6L433.3 1080.7L437.9 1080.8L442 1080.5L444.9 1080.4" stroke="#22dd22" stroke-width="1.7" stroke-dasharray="1.200 1.300"/><path d="M62.8 1067.5L65.7 1067.9L69.8 1068.4L74.4 1069.1L78.7 1070.4L82.7 1072.1L86.7 1074.1L90.7 1076.7L94.6 1079.6L98.6 1083.4L102.6 1087.9L106.6 1092.3L110.6 1095.7L114.5 1097.8L118.5 1099.1L122.5 1099.9L126.5 1100.5L130.5 1100.7L134.4 1100.5L138.4 1100.1L142.4 1099.7L146.4 1099.3L150.4 1098.9L154.3 1098.3L158.3 1097.7L162.3 1096.9L166.3 1096L170.3 1094.9L174.2 1093.6L178.2 1092L182.2 1090L186.2 1088.1L190.2 1086.8L194.1 1086.5L198.1 1086.7L202.1 1087L206.1 1086.4L210.1 1084.8L214 1082.5L218 1079.9L222 1077.6L226 1075.5L230 1073.6L233.9 1071.6L237.9 1069.6L241.9 1067.2L245.9 1064.7L249.9 1062.3L253.8 1060.3L257.8 1058.6L261.8 1057.1L265.8 1056L269.8 1055.5L273.7 1055.6L277.7 1056.3L281.7 1057.3L285.7 1058.7L289.7 1060.5L293.6 1062.7L297.6 1065.1L301.6 1067.5L305.6 1070L309.6 1072.7L313.5 1075.3L317.5 1077.6L321.5 1079.6L325.5 1081.4L329.5 1083L333.4 1084.4L337.4 1085.7L341.4 1086.8L345.4 1087.6L349.4 1087.6L353.3 1086.7L357.3 1085.1L361.3 1083.2L365.3 1081.6L369.3 1080.5L373.2 1079.5L377.2 1078.5L381.2 1077.6L385.2 1076.5L389.2 1075.5L393.1 1074.4L397.1 1073.6L401.1 1073L405.1 1072.6L409.1 1072.2L413 1071.6L417 1070.6L421 1069.5L425 1068.4L429 1067.5L433.3 1067.1L437.9 1066.9L442 1066.8L444.9 1066.7" stroke="#1a1ab0" stroke-width="1.4" stroke-dasharray="7 4.500"/><path d="M62.8 1084.4L78.7 1089.6L94.6 1103.7L110.6 1129L126.5 1128.6L142.4 1118.5L158.3 1112.1L174.2 1104.5L190.2 1095.7L206.1 1092.4L222 1082.8L237.9 1076.8L253.8 1074.8L269.8 1078.8L285.7 1085.6L301.6 1094.4L317.5 1098.9L333.4 1102.9L349.4 1100.9L365.3 1090L381.2 1081.6L397.1 1077.6L413 1074.8L429 1084.4L444.9 1084.4" stroke="#111" stroke-width="1.5"/><path d="M60.4 951h4.8M62.8 948.6v4.8M76.3 948.4h4.8M78.7 946v4.8M92.2 953.6h4.8M94.6 951.2v4.8M108.2 965.3h4.8M110.6 962.9v4.8M124.1 985.4h4.8M126.5 983v4.8M140 987.4h4.8M142.4 985v4.8M155.9 985.4h4.8M158.3 983v4.8M171.8 988.7h4.8M174.2 986.3v4.8M187.8 990h4.8M190.2 987.6v4.8M203.7 997.1h4.8M206.1 994.8v4.8M219.6 997.1h4.8M222 994.8v4.8M235.5 995.2h4.8M237.9 992.8v4.8M251.4 986.8h4.8M253.8 984.4v4.8M267.4 972.4h4.8M269.8 970v4.8M283.3 969.8h4.8M285.7 967.4v4.8M299.2 965.9h4.8M301.6 963.5v4.8M315.1 964h4.8M317.5 961.6v4.8M331 962h4.8M333.4 959.6v4.8M347 963.3h4.8M349.4 960.9v4.8M362.9 971.1h4.8M365.3 968.8v4.8M378.8 977.6h4.8M381.2 975.2v4.8M394.7 978.9h4.8M397.1 976.5v4.8M410.6 969.2h4.8M413 966.8v4.8M426.6 958.1h4.8M429 955.8v4.8M442.5 951h4.8M444.9 948.6v4.8M60.4 1084.4h4.8M62.8 1082v4.8M76.3 1089.6h4.8M78.7 1087.2v4.8M92.2 1103.7h4.8M94.6 1101.3v4.8M108.2 1129h4.8M110.6 1126.6v4.8M124.1 1128.6h4.8M126.5 1126.2v4.8M140 1118.5h4.8M142.4 1116.1v4.8M155.9 1112.1h4.8M158.3 1109.7v4.8M171.8 1104.5h4.8M174.2 1102.1v4.8M187.8 1095.7h4.8M190.2 1093.3v4.8M203.7 1092.4h4.8M206.1 1090v4.8M219.6 1082.8h4.8M222 1080.4v4.8M235.5 1076.8h4.8M237.9 1074.4v4.8M251.4 1074.8h4.8M253.8 1072.4v4.8M267.4 1078.8h4.8M269.8 1076.4v4.8M283.3 1085.6h4.8M285.7 1083.2v4.8M299.2 1094.4h4.8M301.6 1092v4.8M315.1 1098.9h4.8M317.5 1096.5v4.8M331 1102.9h4.8M333.4 1100.5v4.8M347 1100.9h4.8M349.4 1098.5v4.8M362.9 1090h4.8M365.3 1087.6v4.8M378.8 1081.6h4.8M381.2 1079.2v4.8M394.7 1077.6h4.8M397.1 1075.2v4.8M410.6 1074.8h4.8M413 1072.4v4.8M426.6 1084.4h4.8M429 1082v4.8M442.5 1084.4h4.8M444.9 1082v4.8M231.6 1045.4h4.8M234 1043v4.8" stroke="#d81818" stroke-width="1.300"/><rect x="48" y="919.8" width="412" height="104" fill="none" stroke="#444" stroke-width="0.9"/><rect x="48" y="1029" width="412" height="104.8" fill="none" stroke="#444" stroke-width="0.9"/><line x1="47.70" y1="1022.90" x2="460.60" y2="1022.90" stroke="#444" stroke-width="1.8" stroke-dasharray="0.6 15.2462"/><line x1="47.70" y1="920.70" x2="460.60" y2="920.70" stroke="#444" stroke-width="1.8" stroke-dasharray="0.6 15.2462"/><line x1="47.70" y1="1132.90" x2="460.60" y2="1132.90" stroke="#444" stroke-width="1.8" stroke-dasharray="0.6 15.2462"/><line x1="47.70" y1="1029.90" x2="460.60" y2="1029.90" stroke="#444" stroke-width="1.8" stroke-dasharray="0.6 15.2462"/><line x1="48" y1="1023.8" x2="50.5" y2="1023.8" stroke="#333" stroke-width="0.8"/><line x1="48" y1="997.8" x2="50.5" y2="997.8" stroke="#333" stroke-width="0.8"/><line x1="48" y1="971.8" x2="50.5" y2="971.8" stroke="#333" stroke-width="0.8"/><line x1="48" y1="945.8" x2="50.5" y2="945.8" stroke="#333" stroke-width="0.8"/><line x1="48" y1="919.8" x2="50.5" y2="919.8" stroke="#333" stroke-width="0.8"/><line x1="48" y1="1123.8" x2="50.5" y2="1123.8" stroke="#333" stroke-width="0.8"/><line x1="48" y1="1103.7" x2="50.5" y2="1103.7" stroke="#333" stroke-width="0.8"/><line x1="48" y1="1083.6" x2="50.5" y2="1083.6" stroke="#333" stroke-width="0.8"/><line x1="48" y1="1063.5" x2="50.5" y2="1063.5" stroke="#333" stroke-width="0.8"/><line x1="48" y1="1043.5" x2="50.5" y2="1043.5" stroke="#333" stroke-width="0.8"/><line x1="62.8" y1="1133.8" x2="62.8" y2="1130.8" stroke="#333" stroke-width="0.8"/><line x1="62.8" y1="1029" x2="62.8" y2="1032" stroke="#333" stroke-width="0.8"/><line x1="126.5" y1="1133.8" x2="126.5" y2="1130.8" stroke="#333" stroke-width="0.8"/><line x1="126.5" y1="1029" x2="126.5" y2="1032" stroke="#333" stroke-width="0.8"/><line x1="190.2" y1="1133.8" x2="190.2" y2="1130.8" stroke="#333" stroke-width="0.8"/><line x1="190.2" y1="1029" x2="190.2" y2="1032" stroke="#333" stroke-width="0.8"/><line x1="253.8" y1="1133.8" x2="253.8" y2="1130.8" stroke="#333" stroke-width="0.8"/><line x1="253.8" y1="1029" x2="253.8" y2="1032" stroke="#333" stroke-width="0.8"/><line x1="317.5" y1="1133.8" x2="317.5" y2="1130.8" stroke="#333" stroke-width="0.8"/><line x1="317.5" y1="1029" x2="317.5" y2="1032" stroke="#333" stroke-width="0.8"/><line x1="381.2" y1="1133.8" x2="381.2" y2="1130.8" stroke="#333" stroke-width="0.8"/><line x1="381.2" y1="1029" x2="381.2" y2="1032" stroke="#333" stroke-width="0.8"/><line x1="444.9" y1="1133.8" x2="444.9" y2="1130.8" stroke="#333" stroke-width="0.8"/><line x1="444.9" y1="1029" x2="444.9" y2="1032" stroke="#333" stroke-width="0.8"/><line x1="60.8" y1="1045.4" x2="92.8" y2="1045.4" stroke="#22dd22" stroke-width="1.7" stroke-dasharray="1.200 1.300"/><line x1="138" y1="1045.4" x2="168" y2="1045.4" stroke="#1a1ab0" stroke-width="1.4" stroke-dasharray="7 4.500"/><line x1="346" y1="1045.4" x2="376" y2="1045.4" stroke="#111" stroke-width="1.5"/><line x1="777.9" y1="919.2" x2="777.9" y2="1023.3" stroke="#dcdcdc" stroke-width="0.8"/><line x1="841.3" y1="919.2" x2="841.3" y2="1023.3" stroke="#dcdcdc" stroke-width="0.8"/><line x1="904.7" y1="919.2" x2="904.7" y2="1023.3" stroke="#dcdcdc" stroke-width="0.8"/><line x1="968.1" y1="919.2" x2="968.1" y2="1023.3" stroke="#dcdcdc" stroke-width="0.8"/><line x1="1031.5" y1="919.2" x2="1031.5" y2="1023.3" stroke="#dcdcdc" stroke-width="0.8"/><line x1="1094.9" y1="919.2" x2="1094.9" y2="1023.3" stroke="#dcdcdc" stroke-width="0.8"/><line x1="1158.3" y1="919.2" x2="1158.3" y2="1023.3" stroke="#dcdcdc" stroke-width="0.8"/><line x1="762.5" y1="1002.5" x2="1174.2" y2="1002.5" stroke="#e4e4e4" stroke-width="0.8"/><line x1="762.5" y1="981.7" x2="1174.2" y2="981.7" stroke="#e4e4e4" stroke-width="0.8"/><line x1="762.5" y1="960.8" x2="1174.2" y2="960.8" stroke="#e4e4e4" stroke-width="0.8"/><line x1="762.5" y1="940" x2="1174.2" y2="940" stroke="#e4e4e4" stroke-width="0.8"/><line x1="777.9" y1="1029.2" x2="777.9" y2="1133.3" stroke="#dcdcdc" stroke-width="0.8"/><line x1="841.3" y1="1029.2" x2="841.3" y2="1133.3" stroke="#dcdcdc" stroke-width="0.8"/><line x1="904.7" y1="1029.2" x2="904.7" y2="1133.3" stroke="#dcdcdc" stroke-width="0.8"/><line x1="968.1" y1="1029.2" x2="968.1" y2="1133.3" stroke="#dcdcdc" stroke-width="0.8"/><line x1="1031.5" y1="1029.2" x2="1031.5" y2="1133.3" stroke="#dcdcdc" stroke-width="0.8"/><line x1="1094.9" y1="1029.2" x2="1094.9" y2="1133.3" stroke="#dcdcdc" stroke-width="0.8"/><line x1="1158.3" y1="1029.2" x2="1158.3" y2="1133.3" stroke="#dcdcdc" stroke-width="0.8"/><line x1="762.5" y1="1118" x2="1174.2" y2="1118" stroke="#e4e4e4" stroke-width="0.8"/><line x1="762.5" y1="1102.3" x2="1174.2" y2="1102.3" stroke="#e4e4e4" stroke-width="0.8"/><line x1="762.5" y1="1086.7" x2="1174.2" y2="1086.7" stroke="#e4e4e4" stroke-width="0.8"/><line x1="762.5" y1="1071" x2="1174.2" y2="1071" stroke="#e4e4e4" stroke-width="0.8"/><line x1="762.5" y1="1055.4" x2="1174.2" y2="1055.4" stroke="#e4e4e4" stroke-width="0.8"/><line x1="762.5" y1="1039.7" x2="1174.2" y2="1039.7" stroke="#e4e4e4" stroke-width="0.8"/><path d="M777.9 945.2L782 945.6L787.9 946.3L793.7 947.3L799 948.6L804.3 950.3L809.6 952.5L814.9 955.3L820.2 958.6L825.4 962.9L830.7 968.6L836 975.2L841.3 981.7L846.6 987.8L851.9 993.7L857.1 999.4L862.4 1004.7L867.7 1009.7L873 1013.9L878.3 1017.3L883.6 1019.8L888.8 1021.2L894.1 1021.3L899.4 1020.3L904.7 1018.1L910 1014.5L915.3 1009.8L920.6 1004.6L926.1 998.5L931.7 992L936.4 985.8L939.6 980.4L942 975.5L944.3 971.2L946.7 968.4L949 966.2L952.3 962.9L957.3 956.9L963.1 949.7L968.1 944.2L971.3 941.7L973.7 941L976 941.1L978.7 942L981.3 943.8L984 945.2L986.6 946L989.2 946.3L991.9 946.3L994.5 945.4L997.2 944L999.8 943.1L1002.5 943L1005.1 943.2L1007.7 944.2L1010.4 946.2L1013 948.9L1015.7 951.5L1018.3 954L1021 956.4L1023.6 957.7L1025.9 957.6L1028.3 956.4L1031.5 954.6L1036.2 951.9L1041.8 948.7L1047.4 946.3L1052.7 945.6L1057.9 945.8L1063.2 945.2L1068.5 943.1L1073.8 940.2L1079.1 937.9L1084.4 936.6L1089.7 935.8L1094.9 935.9L1100.5 937.2L1106.1 939.3L1110.8 941.1L1114 942.1L1116.4 942.8L1118.7 943.1L1121.1 942.8L1123.4 942.1L1126.6 942.1L1131.3 943.3L1136.9 945.3L1142.5 947.3L1148.4 949.5L1154.2 951.9L1158.3 953.6" stroke="#22dd22" stroke-width="1.6" stroke-dasharray="5.500 4"/><path d="M777.9 927.5L793.7 922.3L809.6 932.7L825.4 954.6L841.3 982.7L857.1 986.9L873 983.7L888.8 988.9L904.7 992.1L920.6 999.4L936.4 1003.5L952.3 999.4L968.1 981.7L984 960.8L999.8 953.6L1015.7 952.5L1031.5 949.4L1047.4 946.3L1063.2 948.3L1079.1 960.8L1094.9 971.2L1110.8 973.3L1126.6 956.7L1142.5 937.9L1158.3 927.5" stroke="#111" stroke-width="1.5"/><path d="M777.9 1099.2L782.3 1100.1L788.4 1101.4L793.7 1101.4L797 1098.8L799.3 1095L801.7 1092.9L804 1094L806.4 1096.7L809.6 1099.2L814.3 1101.3L819.9 1103.2L825.4 1103.9L830.7 1102.5L836 1099.9L841.3 1097.6L846.6 1096.5L851.9 1095.8L857.1 1094.5L862.7 1092.2L868.3 1089.4L873 1086.7L876.2 1084L878.6 1081.5L880.9 1079.8L883.3 1079.2L885.6 1079.4L888.8 1080.4L893.8 1082.7L899.7 1085.8L904.7 1088.2L907.9 1089.4L910.3 1089.9L912.6 1089.8L915 1088.5L917.3 1086.7L920.6 1086.7L925.5 1089.9L931.4 1094.9L936.4 1099.2L939.6 1101.9L942 1103.9L944.3 1105.4L946.7 1106L949 1106.1L952.3 1107L957.3 1109.8L963.1 1113.5L968.1 1116.4L971.3 1117.9L973.7 1118.7L976 1118.9L978.7 1118.5L981.3 1117.6L984 1116.4L986.6 1114.8L989.2 1113L991.9 1111.7L994.5 1111.3L997.2 1111.4L999.8 1111.1L1002.5 1110.6L1005.1 1109.7L1007.7 1107L1010.4 1101L1013 1093.2L1015.7 1086.7L1018.3 1082.4L1021 1079.4L1023.6 1077.3L1026.2 1076.1L1028.9 1075.8L1031.5 1076.3L1034.2 1078.1L1036.8 1080.5L1039.5 1082L1041.8 1081.8L1044.1 1080.6L1047.4 1078.8L1052.1 1075.9L1057.7 1072.4L1063.2 1070.1L1068.5 1070.4L1073.8 1072L1079.1 1072.6L1084.7 1071.1L1090.2 1068.7L1094.9 1066.3L1098.2 1064.3L1100.5 1062.3L1102.9 1061L1105.5 1060.9L1108.1 1061.4L1110.8 1061.6L1113.4 1060.7L1116.1 1059.5L1118.7 1059.1L1121.1 1060.4L1123.4 1062.6L1126.6 1064.8L1131.3 1066.5L1136.9 1068.2L1142.5 1069.5L1148.4 1070.3L1154.2 1070.7L1158.3 1071" stroke="#22dd22" stroke-width="1.6" stroke-dasharray="5.500 4"/><path d="M777.9 1071.6L793.7 1075.7L809.6 1086.7L825.4 1106.4L841.3 1106.1L857.1 1098.2L873 1093.2L888.8 1087.3L904.7 1080.4L920.6 1077.9L936.4 1070.4L952.3 1065.7L968.1 1064.1L984 1067.3L999.8 1072.6L1015.7 1079.5L1031.5 1082.9L1047.4 1086L1063.2 1084.5L1079.1 1076L1094.9 1069.5L1110.8 1066.3L1126.6 1064.1L1142.5 1071.6L1158.3 1071.6" stroke="#111" stroke-width="1.5"/><rect x="762.5" y="919.2" width="411.7" height="104.1" fill="none" stroke="#444" stroke-width="0.9"/><rect x="762.5" y="1029.2" width="411.7" height="104.1" fill="none" stroke="#444" stroke-width="0.9"/><line x1="762.20" y1="1022.40" x2="1174.80" y2="1022.40" stroke="#444" stroke-width="1.8" stroke-dasharray="0.6 15.2346"/><line x1="762.20" y1="920.10" x2="1174.80" y2="920.10" stroke="#444" stroke-width="1.8" stroke-dasharray="0.6 15.2346"/><line x1="762.20" y1="1132.40" x2="1174.80" y2="1132.40" stroke="#444" stroke-width="1.8" stroke-dasharray="0.6 15.2346"/><line x1="762.20" y1="1030.10" x2="1174.80" y2="1030.10" stroke="#444" stroke-width="1.8" stroke-dasharray="0.6 15.2346"/><line x1="762.5" y1="1023.3" x2="765" y2="1023.3" stroke="#333" stroke-width="0.8"/><line x1="762.5" y1="1002.5" x2="765" y2="1002.5" stroke="#333" stroke-width="0.8"/><line x1="762.5" y1="981.7" x2="765" y2="981.7" stroke="#333" stroke-width="0.8"/><line x1="762.5" y1="960.8" x2="765" y2="960.8" stroke="#333" stroke-width="0.8"/><line x1="762.5" y1="940" x2="765" y2="940" stroke="#333" stroke-width="0.8"/><line x1="762.5" y1="919.2" x2="765" y2="919.2" stroke="#333" stroke-width="0.8"/><line x1="762.5" y1="1118" x2="765" y2="1118" stroke="#333" stroke-width="0.8"/><line x1="762.5" y1="1102.3" x2="765" y2="1102.3" stroke="#333" stroke-width="0.8"/><line x1="762.5" y1="1086.7" x2="765" y2="1086.7" stroke="#333" stroke-width="0.8"/><line x1="762.5" y1="1071" x2="765" y2="1071" stroke="#333" stroke-width="0.8"/><line x1="762.5" y1="1055.4" x2="765" y2="1055.4" stroke="#333" stroke-width="0.8"/><line x1="762.5" y1="1039.7" x2="765" y2="1039.7" stroke="#333" stroke-width="0.8"/><line x1="777.9" y1="1133.3" x2="777.9" y2="1130.3" stroke="#333" stroke-width="0.8"/><line x1="777.9" y1="1029.2" x2="777.9" y2="1032.2" stroke="#333" stroke-width="0.8"/><line x1="841.3" y1="1133.3" x2="841.3" y2="1130.3" stroke="#333" stroke-width="0.8"/><line x1="841.3" y1="1029.2" x2="841.3" y2="1032.2" stroke="#333" stroke-width="0.8"/><line x1="904.7" y1="1133.3" x2="904.7" y2="1130.3" stroke="#333" stroke-width="0.8"/><line x1="904.7" y1="1029.2" x2="904.7" y2="1032.2" stroke="#333" stroke-width="0.8"/><line x1="968.1" y1="1133.3" x2="968.1" y2="1130.3" stroke="#333" stroke-width="0.8"/><line x1="968.1" y1="1029.2" x2="968.1" y2="1032.2" stroke="#333" stroke-width="0.8"/><line x1="1031.5" y1="1133.3" x2="1031.5" y2="1130.3" stroke="#333" stroke-width="0.8"/><line x1="1031.5" y1="1029.2" x2="1031.5" y2="1032.2" stroke="#333" stroke-width="0.8"/><line x1="1094.9" y1="1133.3" x2="1094.9" y2="1130.3" stroke="#333" stroke-width="0.8"/><line x1="1094.9" y1="1029.2" x2="1094.9" y2="1032.2" stroke="#333" stroke-width="0.8"/><line x1="1158.3" y1="1133.3" x2="1158.3" y2="1130.3" stroke="#333" stroke-width="0.8"/><line x1="1158.3" y1="1029.2" x2="1158.3" y2="1032.2" stroke="#333" stroke-width="0.8"/><line x1="881" y1="1045" x2="910.4" y2="1045" stroke="#111" stroke-width="1.5"/><line x1="968.8" y1="1045" x2="998" y2="1045" stroke="#22dd22" stroke-width="1.6" stroke-dasharray="5.500 4"/></g><g fill="#222"><text x="20" y="520" font-size="12" textLength="39" lengthAdjust="spacingAndGlyphs" fill="#f4f4f4">Manual</text><text x="20" y="538" font-size="12" textLength="37" lengthAdjust="spacingAndGlyphs" fill="#f4f4f4">Record</text><text x="90" y="521" font-size="12" textLength="62" lengthAdjust="spacingAndGlyphs" fill="#f4f4f4">Film Record</text><text x="304" y="521" font-size="12" textLength="75" lengthAdjust="spacingAndGlyphs" fill="#f4f4f4">Digital Record</text><text x="20" y="606" font-size="12" textLength="59" lengthAdjust="spacingAndGlyphs">DTM-CIW 3</text><text x="152" y="606" font-size="12" textLength="91" lengthAdjust="spacingAndGlyphs">ITX5621/ITX5830</text><text x="335" y="606" font-size="12" textLength="23" lengthAdjust="spacingAndGlyphs">DGS</text><text x="395" y="606" font-size="12" textLength="25" lengthAdjust="spacingAndGlyphs">CADI</text><text x="429" y="606" font-size="12" textLength="37" lengthAdjust="spacingAndGlyphs">DPS4D</text><text x="8" y="668" font-size="11" textLength="39" lengthAdjust="spacingAndGlyphs">1946/08</text><text x="71" y="668" font-size="11" textLength="24" lengthAdjust="spacingAndGlyphs">1957</text><text x="285" y="668" font-size="11" textLength="23" lengthAdjust="spacingAndGlyphs">1991</text><text x="374" y="668" font-size="11" textLength="24" lengthAdjust="spacingAndGlyphs">2007</text><text x="420" y="668" font-size="11" textLength="24" lengthAdjust="spacingAndGlyphs">2010</text><text x="128" y="689" font-size="12.5" textLength="241" lengthAdjust="spacingAndGlyphs" fill="#111" font-weight="700">Wuhan Ionosonde Observational History</text><text x="49.6" y="794.5" font-size="8.6" textLength="23.5" lengthAdjust="spacingAndGlyphs" text-anchor="middle">1947</text><text x="104.3" y="794.5" font-size="8.6" textLength="23.5" lengthAdjust="spacingAndGlyphs" text-anchor="middle">1957</text><text x="159" y="794.5" font-size="8.6" textLength="23.5" lengthAdjust="spacingAndGlyphs" text-anchor="middle">1967</text><text x="213.7" y="794.5" font-size="8.6" textLength="23.5" lengthAdjust="spacingAndGlyphs" text-anchor="middle">1977</text><text x="268.5" y="794.5" font-size="8.6" textLength="23.5" lengthAdjust="spacingAndGlyphs" text-anchor="middle">1987</text><text x="323.2" y="794.5" font-size="8.6" textLength="23.5" lengthAdjust="spacingAndGlyphs" text-anchor="middle">1997</text><text x="377.9" y="794.5" font-size="8.6" textLength="23.5" lengthAdjust="spacingAndGlyphs" text-anchor="middle">2007</text><text x="432.6" y="794.5" font-size="8.6" textLength="23.5" lengthAdjust="spacingAndGlyphs" text-anchor="middle">2017</text><text x="45.6" y="787" font-size="8.4" text-anchor="end" fill="#a040c8">4.12</text><text x="45.6" y="773.5" font-size="8.4" text-anchor="end" fill="#a040c8">4.14</text><text x="45.6" y="760" font-size="8.4" text-anchor="end" fill="#a040c8">4.16</text><text x="45.6" y="746.5" font-size="8.4" text-anchor="end" fill="#a040c8">4.18</text><text x="45.6" y="733" font-size="8.4" text-anchor="end" fill="#a040c8">4.2</text><text x="45.6" y="719.5" font-size="8.4" text-anchor="end" fill="#a040c8">4.22</text><text x="45.6" y="706" font-size="8.4" text-anchor="end" fill="#a040c8">4.24</text><text x="436.6" y="787" font-size="8.4" fill="#55d455">43.5</text><text x="436.6" y="773.5" font-size="8.4" fill="#55d455">44</text><text x="436.6" y="760" font-size="8.4" fill="#55d455">44.5</text><text x="436.6" y="746.5" font-size="8.4" fill="#55d455">45</text><text x="436.6" y="733" font-size="8.4" fill="#55d455">45.5</text><text x="436.6" y="719.5" font-size="8.4" fill="#55d455">46</text><text x="436.6" y="706" font-size="8.4" fill="#55d455">46.5</text><text transform="translate(16.0 744.0) rotate(-90)" font-size="9" text-anchor="middle" fill="#a040c8" textLength="50.0" lengthAdjust="spacingAndGlyphs">B (10000 nt)</text><text transform="translate(471.0 744.0) rotate(-90)" font-size="9" text-anchor="middle" fill="#55d455" textLength="40.0" lengthAdjust="spacingAndGlyphs">I (degree)</text><text x="49.6" y="893.5" font-size="8.6" textLength="23.5" lengthAdjust="spacingAndGlyphs" text-anchor="middle">1947</text><text x="104.3" y="893.5" font-size="8.6" textLength="23.5" lengthAdjust="spacingAndGlyphs" text-anchor="middle">1957</text><text x="159" y="893.5" font-size="8.6" textLength="23.5" lengthAdjust="spacingAndGlyphs" text-anchor="middle">1967</text><text x="213.7" y="893.5" font-size="8.6" textLength="23.5" lengthAdjust="spacingAndGlyphs" text-anchor="middle">1977</text><text x="268.5" y="893.5" font-size="8.6" textLength="23.5" lengthAdjust="spacingAndGlyphs" text-anchor="middle">1987</text><text x="323.2" y="893.5" font-size="8.6" textLength="23.5" lengthAdjust="spacingAndGlyphs" text-anchor="middle">1997</text><text x="377.9" y="893.5" font-size="8.6" textLength="23.5" lengthAdjust="spacingAndGlyphs" text-anchor="middle">2007</text><text x="432.6" y="893.5" font-size="8.6" textLength="23.5" lengthAdjust="spacingAndGlyphs" text-anchor="middle">2017</text><text x="45.6" y="886" font-size="8.6" text-anchor="end">300</text><text x="45.6" y="872.3" font-size="8.6" text-anchor="end">320</text><text x="45.6" y="858.7" font-size="8.6" text-anchor="end">340</text><text x="45.6" y="845" font-size="8.6" text-anchor="end">360</text><text x="45.6" y="831.3" font-size="8.6" text-anchor="end">380</text><text x="45.6" y="817.7" font-size="8.6" text-anchor="end">400</text><text x="45.6" y="804" font-size="8.6" text-anchor="end">420</text><text transform="translate(19.0 842.0) rotate(-90)" font-size="9" text-anchor="middle" fill="#333" textLength="66.0" lengthAdjust="spacingAndGlyphs">Yearly CO2 (ppm)</text><text x="241" y="896" font-size="9" text-anchor="middle" fill="#333">Year</text><text x="159" y="816.5" font-size="7.4" textLength="102" lengthAdjust="spacingAndGlyphs">Mauna Loa Observatory</text><text x="304" y="816.5" font-size="7.4" textLength="57" lengthAdjust="spacingAndGlyphs">Extrapolation</text><text x="714.2" y="577" font-size="8.6" textLength="24" lengthAdjust="spacingAndGlyphs" text-anchor="middle">1947</text><text x="778.6" y="577" font-size="8.6" textLength="24" lengthAdjust="spacingAndGlyphs" text-anchor="middle">1957</text><text x="842.9" y="577" font-size="8.6" textLength="24" lengthAdjust="spacingAndGlyphs" text-anchor="middle">1967</text><text x="907.3" y="577" font-size="8.6" textLength="24" lengthAdjust="spacingAndGlyphs" text-anchor="middle">1977</text><text x="971.6" y="577" font-size="8.6" textLength="24" lengthAdjust="spacingAndGlyphs" text-anchor="middle">1987</text><text x="1036" y="577" font-size="8.6" textLength="24" lengthAdjust="spacingAndGlyphs" text-anchor="middle">1997</text><text x="1100.3" y="577" font-size="8.6" textLength="24" lengthAdjust="spacingAndGlyphs" text-anchor="middle">2007</text><text x="1164.7" y="577" font-size="8.6" textLength="24" lengthAdjust="spacingAndGlyphs" text-anchor="middle">2017</text><text x="709.2" y="570.5" font-size="8.4" text-anchor="end">0</text><text x="709.2" y="551.8" font-size="8.4" text-anchor="end">5</text><text x="709.2" y="533.1" font-size="8.4" text-anchor="end">10</text><text x="709.2" y="514.4" font-size="8.4" text-anchor="end">15</text><text x="709.2" y="495.8" font-size="8.4" text-anchor="end">20</text><text transform="translate(692.0 523.0) rotate(-90)" font-size="8" text-anchor="middle" fill="#333">UT</text><text x="1179" y="570.5" font-size="8.4">2</text><text x="1179" y="556.7" font-size="8.4">4</text><text x="1179" y="542.9" font-size="8.4">6</text><text x="1179" y="529.1" font-size="8.4">8</text><text x="1179" y="515.3" font-size="8.4">10</text><text x="1179" y="501.5" font-size="8.4">12</text><text x="1179" y="487.7" font-size="8.4">14</text><text x="939" y="474.5" font-size="9" textLength="120" lengthAdjust="spacingAndGlyphs" text-anchor="middle" fill="#111" font-weight="700">Wuhan, foF2 (MHz)</text><text x="714.2" y="688.4" font-size="8.6" textLength="24" lengthAdjust="spacingAndGlyphs" text-anchor="middle">1947</text><text x="778.6" y="688.4" font-size="8.6" textLength="24" lengthAdjust="spacingAndGlyphs" text-anchor="middle">1957</text><text x="842.9" y="688.4" font-size="8.6" textLength="24" lengthAdjust="spacingAndGlyphs" text-anchor="middle">1967</text><text x="907.3" y="688.4" font-size="8.6" textLength="24" lengthAdjust="spacingAndGlyphs" text-anchor="middle">1977</text><text x="971.6" y="688.4" font-size="8.6" textLength="24" lengthAdjust="spacingAndGlyphs" text-anchor="middle">1987</text><text x="1036" y="688.4" font-size="8.6" textLength="24" lengthAdjust="spacingAndGlyphs" text-anchor="middle">1997</text><text x="1100.3" y="688.4" font-size="8.6" textLength="24" lengthAdjust="spacingAndGlyphs" text-anchor="middle">2007</text><text x="1164.7" y="688.4" font-size="8.6" textLength="24" lengthAdjust="spacingAndGlyphs" text-anchor="middle">2017</text><text x="709.2" y="681.9" font-size="8.4" text-anchor="end">0</text><text x="709.2" y="663" font-size="8.4" text-anchor="end">5</text><text x="709.2" y="644.1" font-size="8.4" text-anchor="end">10</text><text x="709.2" y="625.3" font-size="8.4" text-anchor="end">15</text><text x="709.2" y="606.4" font-size="8.4" text-anchor="end">20</text><text transform="translate(692.0 634.0) rotate(-90)" font-size="8" text-anchor="middle" fill="#333">UT</text><text x="1179" y="681.9" font-size="8.4">200</text><text x="1179" y="661.3" font-size="8.4">250</text><text x="1179" y="640.7" font-size="8.4">300</text><text x="1179" y="620.1" font-size="8.4">350</text><text x="1179" y="599.5" font-size="8.4">400</text><text x="939" y="585.5" font-size="9" textLength="118" lengthAdjust="spacingAndGlyphs" text-anchor="middle" fill="#111" font-weight="700">Wuhan, hmF2 (km)</text><text x="939" y="697" font-size="8.6" text-anchor="middle" fill="#333">Year</text><text x="713.4" y="779.5" font-size="8.4" text-anchor="end">8</text><text x="713.4" y="763.2" font-size="8.4" text-anchor="end">10</text><text x="713.4" y="746.9" font-size="8.4" text-anchor="end">12</text><text x="713.4" y="730.6" font-size="8.4" text-anchor="end">14</text><text x="713.4" y="714.3" font-size="8.4" text-anchor="end">16</text><text x="713.4" y="871.3" font-size="8.4" text-anchor="end">250</text><text x="713.4" y="856.4" font-size="8.4" text-anchor="end">300</text><text x="713.4" y="841.5" font-size="8.4" text-anchor="end">350</text><text x="713.4" y="826.6" font-size="8.4" text-anchor="end">400</text><text x="713.4" y="811.7" font-size="8.4" text-anchor="end">450</text><text x="718.4" y="893.5" font-size="8.4" textLength="24" lengthAdjust="spacingAndGlyphs" text-anchor="middle">1947</text><text x="783.6" y="893.5" font-size="8.4" textLength="24" lengthAdjust="spacingAndGlyphs" text-anchor="middle">1957</text><text x="848.7" y="893.5" font-size="8.4" textLength="24" lengthAdjust="spacingAndGlyphs" text-anchor="middle">1967</text><text x="913.9" y="893.5" font-size="8.4" textLength="24" lengthAdjust="spacingAndGlyphs" text-anchor="middle">1977</text><text x="979.1" y="893.5" font-size="8.4" textLength="24" lengthAdjust="spacingAndGlyphs" text-anchor="middle">1987</text><text x="1044.3" y="893.5" font-size="8.4" textLength="24" lengthAdjust="spacingAndGlyphs" text-anchor="middle">1997</text><text x="1109.4" y="893.5" font-size="8.4" textLength="24" lengthAdjust="spacingAndGlyphs" text-anchor="middle">2007</text><text x="1174.6" y="893.5" font-size="8.4" textLength="24" lengthAdjust="spacingAndGlyphs" text-anchor="middle">2017</text><text transform="translate(691.0 745.0) rotate(-90)" font-size="8.4" text-anchor="middle" fill="#333" textLength="44.0" lengthAdjust="spacingAndGlyphs">foF2 (MHz)</text><text transform="translate(688.0 839.0) rotate(-90)" font-size="8.4" text-anchor="middle" fill="#333" textLength="42.0" lengthAdjust="spacingAndGlyphs">hmF2 (km)</text><text x="893" y="809.5" font-size="7.6" textLength="48" lengthAdjust="spacingAndGlyphs">Simulation</text><text x="985" y="809.5" font-size="7.6" textLength="55" lengthAdjust="spacingAndGlyphs">Observation</text><text x="43" y="1026.8" font-size="8.6" text-anchor="end">-6</text><text x="43" y="1000.8" font-size="8.6" text-anchor="end">-4</text><text x="43" y="974.8" font-size="8.6" text-anchor="end">-2</text><text x="43" y="948.8" font-size="8.6" text-anchor="end">0</text><text x="43" y="922.8" font-size="8.6" text-anchor="end">2</text><text x="43" y="1126.8" font-size="8.6" text-anchor="end">-0.15</text><text x="43" y="1106.7" font-size="8.6" text-anchor="end">-0.1</text><text x="43" y="1086.6" font-size="8.6" text-anchor="end">-0.05</text><text x="43" y="1066.5" font-size="8.6" text-anchor="end">0</text><text x="43" y="1046.5" font-size="8.6" text-anchor="end">0.05</text><text x="62.8" y="1144.8" font-size="8.6" text-anchor="middle">0</text><text x="126.5" y="1144.8" font-size="8.6" text-anchor="middle">4</text><text x="190.2" y="1144.8" font-size="8.6" text-anchor="middle">8</text><text x="253.8" y="1144.8" font-size="8.6" text-anchor="middle">12</text><text x="317.5" y="1144.8" font-size="8.6" text-anchor="middle">16</text><text x="381.2" y="1144.8" font-size="8.6" text-anchor="middle">20</text><text x="444.9" y="1144.8" font-size="8.6" text-anchor="middle">24</text><text x="254" y="916.5" font-size="9.2" textLength="299" lengthAdjust="spacingAndGlyphs" text-anchor="middle">Simulated Ionospheric trend over Wuhan during 1947-2017</text><text x="254" y="1155.5" font-size="9" text-anchor="middle" fill="#333">UT</text><text transform="translate(14.0 972.0) rotate(-90)" font-size="7.6" text-anchor="middle" fill="#333" textLength="92.0" lengthAdjust="spacingAndGlyphs">∂foF2 (0.001MHz/year)</text><text transform="translate(14.0 1082.0) rotate(-90)" font-size="7.6" text-anchor="middle" fill="#333" textLength="70.0" lengthAdjust="spacingAndGlyphs">∂hmF2 (km/year)</text><text x="95" y="1048.4" font-size="7.8" textLength="38" lengthAdjust="spacingAndGlyphs">CO2(R1)</text><text x="172" y="1048.4" font-size="7.8" textLength="40" lengthAdjust="spacingAndGlyphs">IGRF(R2)</text><text x="251" y="1048.4" font-size="7.8" textLength="89" lengthAdjust="spacingAndGlyphs">CO2+IGRF(R1+R2)</text><text x="379" y="1048.4" font-size="7.8" textLength="68" lengthAdjust="spacingAndGlyphs">CO2+IGRF(R3)</text><text x="757.5" y="1026.3" font-size="8.6" text-anchor="end">-5</text><text x="757.5" y="1005.5" font-size="8.6" text-anchor="end">-4</text><text x="757.5" y="984.7" font-size="8.6" text-anchor="end">-3</text><text x="757.5" y="963.8" font-size="8.6" text-anchor="end">-2</text><text x="757.5" y="943" font-size="8.6" text-anchor="end">-1</text><text x="757.5" y="922.2" font-size="8.6" text-anchor="end">0</text><text x="757.5" y="1121" font-size="8.6" text-anchor="end">-0.2</text><text x="757.5" y="1105.3" font-size="8.6" text-anchor="end">-0.15</text><text x="757.5" y="1089.7" font-size="8.6" text-anchor="end">-0.1</text><text x="757.5" y="1074" font-size="8.6" text-anchor="end">-0.05</text><text x="757.5" y="1058.4" font-size="8.6" text-anchor="end">0</text><text x="757.5" y="1042.7" font-size="8.6" text-anchor="end">0.05</text><text x="777.9" y="1144.3" font-size="8.6" text-anchor="middle">0</text><text x="841.3" y="1144.3" font-size="8.6" text-anchor="middle">4</text><text x="904.7" y="1144.3" font-size="8.6" text-anchor="middle">8</text><text x="968.1" y="1144.3" font-size="8.6" text-anchor="middle">12</text><text x="1031.5" y="1144.3" font-size="8.6" text-anchor="middle">16</text><text x="1094.9" y="1144.3" font-size="8.6" text-anchor="middle">20</text><text x="1158.3" y="1144.3" font-size="8.6" text-anchor="middle">24</text><text x="968.8" y="916.5" font-size="9.2" textLength="246" lengthAdjust="spacingAndGlyphs" text-anchor="middle">Ionospheric trend over Wuhan during 1947-2017</text><text x="968.8" y="1156" font-size="9" text-anchor="middle" fill="#333">UT</text><text transform="translate(742.0 971.0) rotate(-90)" font-size="7.6" text-anchor="middle" fill="#333" textLength="92.0" lengthAdjust="spacingAndGlyphs">∂foF2 (0.001MHz/year)</text><text transform="translate(731.0 1082.0) rotate(-90)" font-size="7.6" text-anchor="middle" fill="#333" textLength="70.0" lengthAdjust="spacingAndGlyphs">∂hmF2 (km/year)</text><text x="914.6" y="1048" font-size="8" textLength="49" lengthAdjust="spacingAndGlyphs">Simulation</text><text x="1002" y="1048" font-size="8" textLength="57" lengthAdjust="spacingAndGlyphs">Observation</text></g></svg>
<div class="hr" style="top:1159.500px;width:1200px;border-top:3px solid #b7c4d6"></div>
<div class="sec" style="left:14px;top:1179px;font-size:19px;letter-spacing:-0.300px"><b>3.</b> 全新世（<b>~12000</b>年）以来电离层<b>/</b>热层模拟结果</div>
<svg class="pg" style="left:0;top:0" width="1200" height="1696" viewBox="0 0 1200 1696"><defs><symbol id="cm" viewBox="0 0 108 99" preserveAspectRatio="none">
<rect width="108" height="99" fill="#1862d4"/>
<path d="M62 3C72 1 98 2 108 8V44C100 45 93 42 89 37C84 31 71 30 65 22C60 15 57 6 62 3Z" fill="#2f2a86"/>
<path d="M108 58C100 63 86 62 76 66C63 70 55 79 56 87C57 96 70 94 80 94L108 95Z" fill="#2f2a86"/>
<g stroke="#123" stroke-opacity=".4" stroke-width=".4">
<path d="M1.500 49C2.500 39 11 32 19 25.500C26 19.500 34 18 44 18C58 17.500 71 22 79 31C86 40 98 44 100 49C100 55 88 58 78 64C68 72 56 80 44 84C36 88 28 84 22 76C14 70 2 60 2 49Z" fill="#1c8fe2"/>
<path d="M5 50C6 41 15 34 23 28.500C30 23.500 38 22.500 46 22.500C58 22.500 69 27 75 36C80 44 86 48 84 53C80 58 72 62 64 68C56 74 46 78 38 77C30 76 24 70 18 64C12 60 7 56 7 50Z" fill="#12a7c3"/>
<path d="M9 50C10 42 19 36 26 31C33 27 40 26 47 26C57 26 66 31 71 39C74 46 77 50 75 54C71 59 65 62 58 67C51 72 43 74 36 72C29 70 24 65 19 61C14 58 11 55 11 50Z" fill="#38b89a"/>
<path d="M15 49C17 42 23 37 30 33C36 30 42 29 48 29.500C56 30 63 35 66 42C69 48 70 52 67 56C63 60 58 63 52 66C46 70 39 70 33 67C28 64 24 60 20 57C17 55 15 52 16 49Z" fill="#84c068"/>
<path d="M22 41C25 35 33 31.500 41 31.500C50 31 58 34 61 40C63 46 64 51 61 55C58 59 53 62 47 65C41 67 34 67 29 63C25 60 24 57 27 56C33 57 42 56 47 53C42 50 32 50 26 48C22 47 22 44 24 42Z" fill="#c3bb4b"/>
<path d="M24 40C27 35 35 33 42 33C50 33 56 36 58 41C57 45 50 47 43 47C35 47 28 46 25 44C23 43 23 41 24 40Z" fill="#f3b63a"/>
<path d="M24 58C30 57 40 59 47 56C52 53 57 51 59 53C60 58 55 63 48 67C42 70 34 69 28 65C25 63 23 60 24 58Z" fill="#f3b63a"/>
<path class="yy" d="M31 40C34 37 41 36.500 46 37C51 37 55 39 54 41C51 44 44 44.500 39 44C35 44 30 42 31 40Z" fill="#f7ef1a"/>
<path class="yy" d="M30 61C36 60 42 62 47 59C51 57 53 58 51 62C48 66 43 67 38 67C34 67 30 64 30 61Z" fill="#f7ef1a"/>
<path d="M13 51C20 47 36 50 46 51C48 52 45 54 41 54C32 55 20 55 13 51Z" fill="#38b89a"/>
<path d="M20 51C27 49 36 51 43 52C38 53 27 53 20 51Z" fill="#12a7c3"/>
</g>
<g stroke="#dfe8ff" stroke-opacity=".55" stroke-width=".45" fill="none" stroke-dasharray="1.200 .8">
<path d="M3 14C8 10 12 18 16 22C20 26 24 30 28 36C32 42 30 50 33 56C35 64 36 74 34 82M16 8C22 4 30 6 36 10C40 14 46 10 50 16C48 22 52 26 56 30C60 34 66 30 70 26C76 20 84 16 92 12C98 10 104 12 107 16M80 28C84 34 88 40 90 46C92 52 96 56 100 62C102 68 104 74 106 78M50 34C54 40 58 44 62 50M4 92C14 88 24 90 34 86C44 84 54 88 64 90C74 92 90 86 106 90"/>
</g></symbol><linearGradient id="pcb" gradientUnits="userSpaceOnUse" x1="249.000" x2="347.700" y1="0" y2="0"><stop offset="0" stop-color="#2f2a86"/><stop offset="0.125" stop-color="#1862d4"/><stop offset="0.25" stop-color="#1c8fe2"/><stop offset="0.375" stop-color="#12a7c3"/><stop offset="0.5" stop-color="#38b89a"/><stop offset="0.625" stop-color="#84c068"/><stop offset="0.75" stop-color="#c3bb4b"/><stop offset="0.875" stop-color="#f3b63a"/><stop offset="1" stop-color="#f7ef1a"/></linearGradient><filter id="cmE" x="779.8" y="1177" width="420" height="194" filterUnits="userSpaceOnUse" color-interpolation-filters="sRGB"><feComponentTransfer><feFuncR type="table" tableValues="0 0.165 0.306 0.235 0.0627 0 0 0 0 0.188 0.376 0.659 0.941 1 1 0.816"/><feFuncG type="table" tableValues="0 0 0.0392 0.0706 0.188 0.518 0.824 0.91 0.878 0.925 0.941 0.941 0.941 0.596 0.125 0"/><feFuncB type="table" tableValues="0 0.2 0.478 0.769 1 1 0.941 0.627 0.251 0 0 0 0 0 0 0"/></feComponentTransfer></filter><linearGradient id="eP" gradientUnits="userSpaceOnUse" x1="0" x2="0" y1="1186.40" y2="1369.20"><stop offset="0" stop-color="#3a3a3a"/><stop offset="0.04074" stop-color="#414141"/><stop offset="0.07407" stop-color="#474747"/><stop offset="0.1111" stop-color="#4e4e4e"/><stop offset="0.1481" stop-color="#585858"/><stop offset="0.1852" stop-color="#666666"/><stop offset="0.2222" stop-color="#727272"/><stop offset="0.2593" stop-color="#7e7e7e"/><stop offset="0.2963" stop-color="#7e7e7e"/><stop offset="0.3333" stop-color="#757575"/><stop offset="0.3704" stop-color="#666666"/><stop offset="0.4074" stop-color="#555555"/><stop offset="0.4333" stop-color="#4b4b4b"/><stop offset="0.4556" stop-color="#444444"/><stop offset="0.4778" stop-color="#363636"/><stop offset="0.5" stop-color="#292929"/><stop offset="0.5296" stop-color="#1f1f1f"/><stop offset="0.6111" stop-color="#171717"/><stop offset="0.7222" stop-color="#111111"/><stop offset="0.8704" stop-color="#0a0a0a"/><stop offset="1" stop-color="#010101"/></linearGradient><linearGradient id="eM" gradientUnits="userSpaceOnUse" x1="780.800" x2="1130.000" y1="0" y2="0"><stop offset="0" stop-color="#000" stop-opacity="0.039"/><stop offset="0.008621" stop-color="#000" stop-opacity="0.338"/><stop offset="0.01724" stop-color="#000" stop-opacity="0.184"/><stop offset="0.02586" stop-color="#000" stop-opacity="0.404"/><stop offset="0.03448" stop-color="#000" stop-opacity="0.055"/><stop offset="0.0431" stop-color="#000" stop-opacity="0.147"/><stop offset="0.05172" stop-color="#000" stop-opacity="0.213"/><stop offset="0.06034" stop-color="#000" stop-opacity="0.433"/><stop offset="0.06897" stop-color="#000" stop-opacity="0.214"/><stop offset="0.07759" stop-color="#000" stop-opacity="0.3"/><stop offset="0.08621" stop-color="#000" stop-opacity="0.18"/><stop offset="0.09483" stop-color="#000" stop-opacity="0.337"/><stop offset="0.1034" stop-color="#000" stop-opacity="0.11"/><stop offset="0.1121" stop-color="#000" stop-opacity="0.409"/><stop offset="0.1207" stop-color="#000" stop-opacity="0.23"/><stop offset="0.1293" stop-color="#000" stop-opacity="0.296"/><stop offset="0.1379" stop-color="#000" stop-opacity="0.12"/><stop offset="0.1466" stop-color="#000" stop-opacity="0.431"/><stop offset="0.1552" stop-color="#000" stop-opacity="0.131"/><stop offset="0.1638" stop-color="#000" stop-opacity="0.411"/><stop offset="0.1724" stop-color="#000" stop-opacity="0.355"/><stop offset="0.181" stop-color="#000" stop-opacity="0.481"/><stop offset="0.1897" stop-color="#000" stop-opacity="0.33"/><stop offset="0.1983" stop-color="#000" stop-opacity="0.487"/><stop offset="0.2069" stop-color="#000" stop-opacity="0.358"/><stop offset="0.2155" stop-color="#000" stop-opacity="0.499"/><stop offset="0.2241" stop-color="#000" stop-opacity="0.112"/><stop offset="0.2328" stop-color="#000" stop-opacity="0.2"/><stop offset="0.2414" stop-color="#000" stop-opacity="0.15"/><stop offset="0.25" stop-color="#000" stop-opacity="0.305"/><stop offset="0.2586" stop-color="#000" stop-opacity="0.225"/><stop offset="0.2672" stop-color="#000" stop-opacity="0.417"/><stop offset="0.2759" stop-color="#000" stop-opacity="0.112"/><stop offset="0.2845" stop-color="#000" stop-opacity="0.361"/><stop offset="0.2931" stop-color="#000" stop-opacity="0.186"/><stop offset="0.3017" stop-color="#000" stop-opacity="0.289"/><stop offset="0.3103" stop-color="#000" stop-opacity="0.182"/><stop offset="0.319" stop-color="#000" stop-opacity="0.493"/><stop offset="0.3276" stop-color="#000" stop-opacity="0.242"/><stop offset="0.3362" stop-color="#000" stop-opacity="0.459"/><stop offset="0.3448" stop-color="#000" stop-opacity="0.269"/><stop offset="0.3534" stop-color="#000" stop-opacity="0.413"/><stop offset="0.3621" stop-color="#000" stop-opacity="0.258"/><stop offset="0.3707" stop-color="#000" stop-opacity="0.389"/><stop offset="0.3793" stop-color="#000" stop-opacity="0.207"/><stop offset="0.3879" stop-color="#000" stop-opacity="0.344"/><stop offset="0.3966" stop-color="#000" stop-opacity="0.189"/><stop offset="0.4052" stop-color="#000" stop-opacity="0.388"/><stop offset="0.4138" stop-color="#000" stop-opacity="0.172"/><stop offset="0.4224" stop-color="#000" stop-opacity="0.355"/><stop offset="0.431" stop-color="#000" stop-opacity="0.243"/><stop offset="0.4397" stop-color="#000" stop-opacity="0.365"/><stop offset="0.4483" stop-color="#000" stop-opacity="0.167"/><stop offset="0.4569" stop-color="#000" stop-opacity="0.381"/><stop offset="0.4655" stop-color="#000" stop-opacity="0.11"/><stop offset="0.4741" stop-color="#000" stop-opacity="0.376"/><stop offset="0.4828" stop-color="#000" stop-opacity="0.238"/><stop offset="0.4914" stop-color="#000" stop-opacity="0.399"/><stop offset="0.5" stop-color="#000" stop-opacity="0.188"/><stop offset="0.5086" stop-color="#000" stop-opacity="0.383"/><stop offset="0.5172" stop-color="#000" stop-opacity="0.253"/><stop offset="0.5259" stop-color="#000" stop-opacity="0.339"/><stop offset="0.5345" stop-color="#000" stop-opacity="0.156"/><stop offset="0.5431" stop-color="#000" stop-opacity="0.438"/><stop offset="0.5517" stop-color="#000" stop-opacity="0.275"/><stop offset="0.5603" stop-color="#000" stop-opacity="0.412"/><stop offset="0.569" stop-color="#000" stop-opacity="0.175"/><stop offset="0.5776" stop-color="#000" stop-opacity="0.313"/><stop offset="0.5862" stop-color="#000" stop-opacity="0.176"/><stop offset="0.5948" stop-color="#000" stop-opacity="0.264"/><stop offset="0.6034" stop-color="#000" stop-opacity="0.2"/><stop offset="0.6121" stop-color="#000" stop-opacity="0.435"/><stop offset="0.6207" stop-color="#000" stop-opacity="0.153"/><stop offset="0.6293" stop-color="#000" stop-opacity="0.315"/><stop offset="0.6379" stop-color="#000" stop-opacity="0.273"/><stop offset="0.6466" stop-color="#000" stop-opacity="0.302"/><stop offset="0.6552" stop-color="#000" stop-opacity="0.108"/><stop offset="0.6638" stop-color="#000" stop-opacity="0.408"/><stop offset="0.6724" stop-color="#000" stop-opacity="0.351"/><stop offset="0.681" stop-color="#000" stop-opacity="0.499"/><stop offset="0.6897" stop-color="#000" stop-opacity="0.134"/><stop offset="0.6983" stop-color="#000" stop-opacity="0.334"/><stop offset="0.7069" stop-color="#000" stop-opacity="0.248"/><stop offset="0.7155" stop-color="#000" stop-opacity="0.542"/><stop offset="0.7241" stop-color="#000" stop-opacity="0.354"/><stop offset="0.7328" stop-color="#000" stop-opacity="0.35"/><stop offset="0.7414" stop-color="#000" stop-opacity="0.077"/><stop offset="0.75" stop-color="#000" stop-opacity="0.41"/><stop offset="0.7586" stop-color="#000" stop-opacity="0.22"/><stop offset="0.7672" stop-color="#000" stop-opacity="0.33"/><stop offset="0.7759" stop-color="#000" stop-opacity="0.239"/><stop offset="0.7845" stop-color="#000" stop-opacity="0.308"/><stop offset="0.7931" stop-color="#000" stop-opacity="0"/><stop offset="0.8017" stop-color="#000" stop-opacity="0.289"/><stop offset="0.8103" stop-color="#000" stop-opacity="0.144"/><stop offset="0.819" stop-color="#000" stop-opacity="0.41"/><stop offset="0.8276" stop-color="#000" stop-opacity="0.3"/><stop offset="0.8362" stop-color="#000" stop-opacity="0.448"/><stop offset="0.8448" stop-color="#000" stop-opacity="0.244"/><stop offset="0.8534" stop-color="#000" stop-opacity="0.337"/><stop offset="0.8621" stop-color="#000" stop-opacity="0.223"/><stop offset="0.8707" stop-color="#000" stop-opacity="0.412"/><stop offset="0.8793" stop-color="#000" stop-opacity="0.189"/><stop offset="0.8879" stop-color="#000" stop-opacity="0.403"/><stop offset="0.8966" stop-color="#000" stop-opacity="0.21"/><stop offset="0.9052" stop-color="#000" stop-opacity="0.356"/><stop offset="0.9138" stop-color="#000" stop-opacity="0.225"/><stop offset="0.9224" stop-color="#000" stop-opacity="0.365"/><stop offset="0.931" stop-color="#000" stop-opacity="0.17"/><stop offset="0.9397" stop-color="#000" stop-opacity="0.405"/><stop offset="0.9483" stop-color="#000" stop-opacity="0.22"/><stop offset="0.9569" stop-color="#000" stop-opacity="0.308"/><stop offset="0.9655" stop-color="#000" stop-opacity="0.161"/><stop offset="0.9741" stop-color="#000" stop-opacity="0.415"/><stop offset="0.9828" stop-color="#000" stop-opacity="0.229"/><stop offset="0.9914" stop-color="#000" stop-opacity="0.321"/><stop offset="1" stop-color="#000" stop-opacity="0.106"/></linearGradient><linearGradient id="eMk" gradientUnits="userSpaceOnUse" x1="0" x2="0" y1="1186.40" y2="1369.20"><stop offset="0" stop-color="#fff"/><stop offset="0.42" stop-color="#fff"/><stop offset="0.55" stop-color="#777"/><stop offset="1" stop-color="#555"/></linearGradient><mask id="meM" maskUnits="userSpaceOnUse" x="780.8" y="1186.4" width="349.2" height="182.8"><rect x="780.8" y="1186.4" width="349.2" height="182.8" fill="url(#eMk)"/></mask><linearGradient id="eP2" gradientUnits="userSpaceOnUse" x1="0" x2="0" y1="1186.40" y2="1369.20"><stop offset="0" stop-color="#454545"/><stop offset="0.04074" stop-color="#4e4e4e"/><stop offset="0.07407" stop-color="#565656"/><stop offset="0.1111" stop-color="#5e5e5e"/><stop offset="0.1481" stop-color="#6a6a6a"/><stop offset="0.1852" stop-color="#7a7a7a"/><stop offset="0.2222" stop-color="#898989"/><stop offset="0.2593" stop-color="#979797"/><stop offset="0.2963" stop-color="#989898"/><stop offset="0.3333" stop-color="#8d8d8d"/><stop offset="0.3704" stop-color="#7a7a7a"/><stop offset="0.4074" stop-color="#666666"/><stop offset="0.4333" stop-color="#5a5a5a"/><stop offset="0.4556" stop-color="#525252"/><stop offset="0.4778" stop-color="#414141"/><stop offset="0.5" stop-color="#313131"/><stop offset="0.5296" stop-color="#252525"/><stop offset="0.6111" stop-color="#1c1c1c"/><stop offset="0.7222" stop-color="#141414"/><stop offset="0.8704" stop-color="#0c0c0c"/><stop offset="1" stop-color="#020202"/></linearGradient><linearGradient id="ecb" gradientUnits="userSpaceOnUse" x1="0" x2="0" y1="1178.80" y2="1369.20"><stop offset="0" stop-color="#f5f5f5"/><stop offset="1" stop-color="#000"/></linearGradient><filter id="cmT" x="779.8" y="1407" width="420" height="194" filterUnits="userSpaceOnUse" color-interpolation-filters="sRGB"><feComponentTransfer><feFuncR type="table" tableValues="0 0.102 0.29 0.259 0.0627 0 0 0 0 0 0.125 0.314 0.596 0.831 0.957 1 1 0.91"/><feFuncG type="table" tableValues="0 0 0.0392 0.0627 0.157 0.439 0.706 0.878 0.91 0.878 0.918 0.941 0.941 0.941 0.925 0.627 0.282 0"/><feFuncB type="table" tableValues="0 0.133 0.471 0.8 1 1 1 0.878 0.565 0.251 0 0 0 0 0 0 0 0"/></feComponentTransfer></filter><linearGradient id="tP" gradientUnits="userSpaceOnUse" x1="0" x2="0" y1="1416.00" y2="1598.80"><stop offset="0" stop-color="#aaaaaa"/><stop offset="0.463" stop-color="#a8a8a8"/><stop offset="0.537" stop-color="#9f9f9f"/><stop offset="0.5926" stop-color="#929292"/><stop offset="0.6333" stop-color="#7e7e7e"/><stop offset="0.6704" stop-color="#696969"/><stop offset="0.7074" stop-color="#545454"/><stop offset="0.7444" stop-color="#424242"/><stop offset="0.7815" stop-color="#303030"/><stop offset="0.8185" stop-color="#1e1e1e"/><stop offset="0.8556" stop-color="#0f0f0f"/><stop offset="0.9074" stop-color="#060606"/><stop offset="1" stop-color="#020202"/></linearGradient><linearGradient id="tM" gradientUnits="userSpaceOnUse" x1="780.800" x2="1130.000" y1="0" y2="0"><stop offset="0" stop-color="#ededed"/><stop offset="0.008621" stop-color="#cfcfcf"/><stop offset="0.01724" stop-color="#b0b0b0"/><stop offset="0.02586" stop-color="#a2a2a2"/><stop offset="0.03448" stop-color="#ededed"/><stop offset="0.0431" stop-color="#cfcfcf"/><stop offset="0.05172" stop-color="#aeaeae"/><stop offset="0.06034" stop-color="#a0a0a0"/><stop offset="0.06897" stop-color="#aeaeae"/><stop offset="0.07759" stop-color="#a8a8a8"/><stop offset="0.08621" stop-color="#b0b0b0"/><stop offset="0.09483" stop-color="#a6a6a6"/><stop offset="0.1034" stop-color="#b4b4b4"/><stop offset="0.1121" stop-color="#a2a2a2"/><stop offset="0.1207" stop-color="#adadad"/><stop offset="0.1293" stop-color="#a9a9a9"/><stop offset="0.1379" stop-color="#b4b4b4"/><stop offset="0.1466" stop-color="#a0a0a0"/><stop offset="0.1552" stop-color="#b3b3b3"/><stop offset="0.1638" stop-color="#a1a1a1"/><stop offset="0.1724" stop-color="#a5a5a5"/><stop offset="0.181" stop-color="#9d9d9d"/><stop offset="0.1897" stop-color="#a7a7a7"/><stop offset="0.1983" stop-color="#9d9d9d"/><stop offset="0.2069" stop-color="#a5a5a5"/><stop offset="0.2155" stop-color="#9c9c9c"/><stop offset="0.2241" stop-color="#b4b4b4"/><stop offset="0.2328" stop-color="#afafaf"/><stop offset="0.2414" stop-color="#b2b2b2"/><stop offset="0.25" stop-color="#a8a8a8"/><stop offset="0.2586" stop-color="#adadad"/><stop offset="0.2672" stop-color="#a1a1a1"/><stop offset="0.2759" stop-color="#b4b4b4"/><stop offset="0.2845" stop-color="#a5a5a5"/><stop offset="0.2931" stop-color="#b0b0b0"/><stop offset="0.3017" stop-color="#a9a9a9"/><stop offset="0.3103" stop-color="#b0b0b0"/><stop offset="0.319" stop-color="#9c9c9c"/><stop offset="0.3276" stop-color="#acacac"/><stop offset="0.3362" stop-color="#9e9e9e"/><stop offset="0.3448" stop-color="#aaaaaa"/><stop offset="0.3534" stop-color="#a1a1a1"/><stop offset="0.3621" stop-color="#ababab"/><stop offset="0.3707" stop-color="#a3a3a3"/><stop offset="0.3793" stop-color="#aeaeae"/><stop offset="0.3879" stop-color="#a6a6a6"/><stop offset="0.3966" stop-color="#afafaf"/><stop offset="0.4052" stop-color="#a3a3a3"/><stop offset="0.4138" stop-color="#b1b1b1"/><stop offset="0.4224" stop-color="#a5a5a5"/><stop offset="0.431" stop-color="#acacac"/><stop offset="0.4397" stop-color="#a4a4a4"/><stop offset="0.4483" stop-color="#b1b1b1"/><stop offset="0.4569" stop-color="#a3a3a3"/><stop offset="0.4655" stop-color="#b4b4b4"/><stop offset="0.4741" stop-color="#a4a4a4"/><stop offset="0.4828" stop-color="#acacac"/><stop offset="0.4914" stop-color="#a2a2a2"/><stop offset="0.5" stop-color="#afafaf"/><stop offset="0.5086" stop-color="#a3a3a3"/><stop offset="0.5172" stop-color="#ababab"/><stop offset="0.5259" stop-color="#a6a6a6"/><stop offset="0.5345" stop-color="#b2b2b2"/><stop offset="0.5431" stop-color="#a0a0a0"/><stop offset="0.5517" stop-color="#aaaaaa"/><stop offset="0.5603" stop-color="#a1a1a1"/><stop offset="0.569" stop-color="#b0b0b0"/><stop offset="0.5776" stop-color="#a8a8a8"/><stop offset="0.5862" stop-color="#b0b0b0"/><stop offset="0.5948" stop-color="#ababab"/><stop offset="0.6034" stop-color="#afafaf"/><stop offset="0.6121" stop-color="#a0a0a0"/><stop offset="0.6207" stop-color="#b2b2b2"/><stop offset="0.6293" stop-color="#a7a7a7"/><stop offset="0.6379" stop-color="#aaaaaa"/><stop offset="0.6466" stop-color="#a8a8a8"/><stop offset="0.6552" stop-color="#b5b5b5"/><stop offset="0.6638" stop-color="#a2a2a2"/><stop offset="0.6724" stop-color="#a5a5a5"/><stop offset="0.681" stop-color="#9c9c9c"/><stop offset="0.6897" stop-color="#b3b3b3"/><stop offset="0.6983" stop-color="#a6a6a6"/><stop offset="0.7069" stop-color="#acacac"/><stop offset="0.7155" stop-color="#999999"/><stop offset="0.7241" stop-color="#a5a5a5"/><stop offset="0.7328" stop-color="#a5a5a5"/><stop offset="0.7414" stop-color="#b7b7b7"/><stop offset="0.75" stop-color="#a2a2a2"/><stop offset="0.7586" stop-color="#adadad"/><stop offset="0.7672" stop-color="#a7a7a7"/><stop offset="0.7759" stop-color="#acacac"/><stop offset="0.7845" stop-color="#a8a8a8"/><stop offset="0.7931" stop-color="#bbbbbb"/><stop offset="0.8017" stop-color="#a9a9a9"/><stop offset="0.8103" stop-color="#b2b2b2"/><stop offset="0.819" stop-color="#a2a2a2"/><stop offset="0.8276" stop-color="#a8a8a8"/><stop offset="0.8362" stop-color="#9f9f9f"/><stop offset="0.8448" stop-color="#acacac"/><stop offset="0.8534" stop-color="#a6a6a6"/><stop offset="0.8621" stop-color="#adadad"/><stop offset="0.8707" stop-color="#a1a1a1"/><stop offset="0.8793" stop-color="#afafaf"/><stop offset="0.8879" stop-color="#a2a2a2"/><stop offset="0.8966" stop-color="#aeaeae"/><stop offset="0.9052" stop-color="#a5a5a5"/><stop offset="0.9138" stop-color="#adadad"/><stop offset="0.9224" stop-color="#a4a4a4"/><stop offset="0.931" stop-color="#b1b1b1"/><stop offset="0.9397" stop-color="#a2a2a2"/><stop offset="0.9483" stop-color="#adadad"/><stop offset="0.9569" stop-color="#a8a8a8"/><stop offset="0.9655" stop-color="#b1b1b1"/><stop offset="0.9741" stop-color="#a1a1a1"/><stop offset="0.9828" stop-color="#adadad"/><stop offset="0.9914" stop-color="#a7a7a7"/><stop offset="1" stop-color="#b5b5b5"/></linearGradient><linearGradient id="tG" gradientUnits="userSpaceOnUse" x1="0" x2="0" y1="1416.00" y2="1598.80"><stop offset="0" stop-color="#fff"/><stop offset="0.46" stop-color="#fff"/><stop offset="0.54" stop-color="#d0d0d0"/><stop offset="0.62" stop-color="#787878"/><stop offset="0.68" stop-color="#303030"/><stop offset="0.74" stop-color="#000"/><stop offset="1" stop-color="#000"/></linearGradient><mask id="mtG" maskUnits="userSpaceOnUse" x="780.8" y="1416" width="349.2" height="182.8"><rect x="780.8" y="1416" width="349.2" height="182.8" fill="url(#tG)"/></mask><linearGradient id="tcb" gradientUnits="userSpaceOnUse" x1="0" x2="0" y1="1408.80" y2="1598.80"><stop offset="0" stop-color="#ffffff"/><stop offset="1" stop-color="#000"/></linearGradient></defs><g fill="none" stroke-linejoin="round"><use href="#cm" x="26.9" y="1230.3" width="107.400" height="98.300"/><use href="#cm" x="138.4" y="1230.3" width="107.400" height="98.300"/><use href="#cm" x="250.2" y="1230.3" width="107.400" height="98.300"/><use href="#cm" x="26.9" y="1338" width="107.400" height="98.300"/><use href="#cm" x="138.4" y="1338" width="107.400" height="98.300"/><use href="#cm" x="250.2" y="1338" width="107.400" height="98.300"/><rect x="249" y="1452" width="98.7" height="4.2" fill="url(#pcb)"/><g transform="translate(250.2 1338) scale(.9944 .9929)"><path d="M30 40C34 36 41 36 46 36.500C51 36.500 56 39 55 41.500C51 45 44 45 39 44.500C35 44.500 29 42 30 40ZM29 61C36 59 42 62 47 58C51 56 54 58 52 62C48 67 43 68 38 68C34 68 29 64 29 61Z" fill="#f3b63a"/></g><line x1="457.2" y1="1230.7" x2="457.2" y2="1432.7" stroke="#d9d9d9" stroke-width="0.8"/><line x1="507.6" y1="1230.7" x2="507.6" y2="1432.7" stroke="#d9d9d9" stroke-width="0.8"/><line x1="558" y1="1230.7" x2="558" y2="1432.7" stroke="#d9d9d9" stroke-width="0.8"/><line x1="608.3" y1="1230.7" x2="608.3" y2="1432.7" stroke="#d9d9d9" stroke-width="0.8"/><line x1="658.6" y1="1230.7" x2="658.6" y2="1432.7" stroke="#d9d9d9" stroke-width="0.8"/><line x1="406.9" y1="1410.3" x2="709" y2="1410.3" stroke="#e2e2e2" stroke-width="0.8"/><line x1="406.9" y1="1387.8" x2="709" y2="1387.8" stroke="#e2e2e2" stroke-width="0.8"/><line x1="406.9" y1="1365.4" x2="709" y2="1365.4" stroke="#e2e2e2" stroke-width="0.8"/><line x1="406.9" y1="1342.9" x2="709" y2="1342.9" stroke="#e2e2e2" stroke-width="0.8"/><line x1="406.9" y1="1320.5" x2="709" y2="1320.5" stroke="#e2e2e2" stroke-width="0.8"/><line x1="406.9" y1="1298" x2="709" y2="1298" stroke="#e2e2e2" stroke-width="0.8"/><line x1="406.9" y1="1275.6" x2="709" y2="1275.6" stroke="#e2e2e2" stroke-width="0.8"/><line x1="406.9" y1="1253.1" x2="709" y2="1253.1" stroke="#e2e2e2" stroke-width="0.8"/><path d="M406.9 1297.5L409.7 1270.7L412.2 1261.4L417 1258.2L421.7 1281.1L428.1 1306.7L432.2 1307L436 1317L440.7 1309.3L443.9 1274.5L447.1 1262.6L449.6 1286.4L451.8 1308.3L456.6 1345.3L461.3 1374.7L467.7 1393.7L471.5 1385.9L475.6 1377L480.3 1381.6L485.1 1387.9L489.8 1367.9L496.2 1330.1L502.5 1292.7L507.2 1278.2L509.8 1281.4L512 1290.9L515.2 1267.9L518.3 1249.3L522.1 1246.5L525.6 1271.9L529.4 1303L533.5 1292.3L537.3 1277L540.5 1301.9L543.7 1316.5L546.8 1290.8L550 1273.5L553.2 1296.3L556.3 1304L561.1 1304.6L565.8 1304.2L569 1309L572.2 1303L574.7 1311L576.9 1336.3L580.7 1345.5L584.8 1347.1L588.6 1354.9L592.7 1365.1L596.2 1349.1L599.7 1339.4L602.6 1350.9L605.4 1360.8L610.2 1357.1L614.9 1353.6L619 1360.1L622.8 1370.5L626 1379.2L629.2 1390.7L632.3 1399.6L635.5 1405.2L639.3 1395.5L643.4 1392.3L646.6 1388.7L649.7 1386.4L653.9 1394.5L657.7 1401L660.8 1403.7L664 1405.2L667.8 1397.4L671.9 1388.9L674.4 1383L676.7 1375.2L679.8 1377.4L683 1375L686.8 1371L690.9 1364L694.1 1369.1L697.2 1368.9L699.8 1361.3L702 1348.9L704.2 1334.9L705.8 1307.3L707.4 1275.6L708.6 1261.3" stroke="#0072bd" stroke-width="0.8"/><path d="M406.9 1288.1L409.7 1270.9L412.2 1263.3L417 1260.5L421.7 1291.9L428.1 1318L432.2 1311.1L436 1318.1L440.7 1311.1L443.9 1272.7L447.1 1252.4L449.6 1268.3L451.8 1304.4L456.6 1345.8L461.3 1376L467.7 1397L471.5 1390.2L475.6 1378.6L480.3 1382.3L485.1 1388.6L489.8 1366.7L496.2 1329L502.5 1288L507.2 1276.4L509.8 1281.7L512 1293.2L515.2 1276.8L518.3 1267.1L522.1 1256.4L525.6 1280.9L529.4 1306.3L533.5 1292.5L537.3 1273.4L540.5 1292.5L543.7 1309.9L546.8 1285.3L550 1272.2L553.2 1302.1L556.3 1320.5L561.1 1317.1L565.8 1311.8L569 1310.4L572.2 1303.4L574.7 1309.2L576.9 1332.7L580.7 1341.4L584.8 1345.3L588.6 1354.6L592.7 1364.7L596.2 1356.4L599.7 1344.7L602.6 1354.9L605.4 1364.2L610.2 1359L614.9 1353.8L619 1355.4L622.8 1363.5L626 1373.5L629.2 1386.2L632.3 1400.2L635.5 1409.6L639.3 1404.6L643.4 1398.5L646.6 1394.1L649.7 1391.2L653.9 1392.7L657.7 1395.7L660.8 1397.9L664 1401.2L667.8 1393.2L671.9 1388.7L674.4 1386.2L676.7 1381.2L679.8 1381.9L683 1381.4L686.8 1374.8L690.9 1366.5L694.1 1365.9L697.2 1365.6L699.8 1355.8L702 1344.7L704.2 1329.1L705.8 1320.6L707.4 1298.1L708.6 1281.7" stroke="#d95319" stroke-width="0.8"/><path d="M406.9 1284.5L409.7 1268.9L412.2 1264.3L417 1259.8L421.7 1285L428.1 1320.1L432.2 1316.8L436 1319.6L440.7 1309.3L443.9 1277.3L447.1 1260.4L449.6 1267.9L451.8 1304.2L456.6 1347.8L461.3 1376.1L467.7 1393.9L471.5 1390.4L475.6 1381.6L480.3 1383.1L485.1 1388.5L489.8 1368.3L496.2 1329.9L502.5 1286.5L507.2 1275.3L509.8 1283.4L512 1296L515.2 1274.5L518.3 1265.7L522.1 1264.6L525.6 1281.4L529.4 1301.4L533.5 1298.5L537.3 1278.6L540.5 1293L543.7 1307.7L546.8 1291.9L550 1278.6L553.2 1298.7L556.3 1321.7L561.1 1327.2L565.8 1316.6L569 1308.3L572.2 1306.8L574.7 1312.5L576.9 1332.7L580.7 1341.1L584.8 1347.1L588.6 1356.9L592.7 1361.8L596.2 1355.3L599.7 1348.2L602.6 1355.8L605.4 1364.4L610.2 1359.8L614.9 1355.5L619 1356.7L622.8 1360.9L626 1378.1L629.2 1390.7L632.3 1396.4L635.5 1406.8L639.3 1407.3L643.4 1402.4L646.6 1393.4L649.7 1390.3L653.9 1398.6L657.7 1396.1L660.8 1396.4L664 1403.4L667.8 1396.2L671.9 1384.8L674.4 1383.5L676.7 1383.3L679.8 1386.5L683 1379.4L686.8 1376.5L690.9 1371.7L694.1 1366.3L697.2 1362.5L699.8 1357.2L702 1347.1L704.2 1324.6L705.8 1303.8L707.4 1302.6L708.6 1290.7" stroke="#edb120" stroke-width="0.8"/><path d="M406.9 1294.2L409.7 1267.5L412.2 1261.5L417 1259.2L421.7 1285.7L428.1 1310.7L432.2 1313.6L436 1325.3L440.7 1315.3L443.9 1281.3L447.1 1271.1L449.6 1285L451.8 1302.3L456.6 1345.1L461.3 1375.7L467.7 1394L471.5 1387.7L475.6 1379.7L480.3 1385.4L485.1 1391.1L489.8 1369L496.2 1331.6L502.5 1294.7L507.2 1277L509.8 1278.4L512 1292.4L515.2 1274.3L518.3 1254L522.1 1251.9L525.6 1284.6L529.4 1309.2L533.5 1297.1L537.3 1285.3L540.5 1303.2L543.7 1311.6L546.8 1287.6L550 1279L553.2 1294.2L556.3 1307.2L561.1 1313.7L565.8 1320.2L569 1317.1L572.2 1307.4L574.7 1313.6L576.9 1338.3L580.7 1343.3L584.8 1344.6L588.6 1357L592.7 1364.4L596.2 1348.7L599.7 1341.4L602.6 1357L605.4 1366L610.2 1359.1L614.9 1356.2L619 1363.1L622.8 1366.2L626 1376L629.2 1389.2L632.3 1398L635.5 1402.3L639.3 1397.8L643.4 1401.4L646.6 1395.3L649.7 1392.3L653.9 1401.1L657.7 1407.9L660.8 1401.5L664 1403.3L667.8 1395.2L671.9 1388.5L674.4 1378.8L676.7 1375.2L679.8 1382.3L683 1383L686.8 1376.3L690.9 1370.9L694.1 1374.2L697.2 1371.5L699.8 1360.2L702 1351.5L704.2 1328.6L705.8 1297.9L707.4 1277.9L708.6 1274.9" stroke="#7e2f8e" stroke-width="0.8"/><path d="M406.9 1295.8L409.7 1278.4L412.2 1265.7L417 1261.3L421.7 1288L428.1 1321L432.2 1310.7L436 1315.6L440.7 1309.2L443.9 1281.6L447.1 1258.6L449.6 1277.1L451.8 1316.7L456.6 1350L461.3 1377L467.7 1396L471.5 1390.2L475.6 1378.8L480.3 1380.6L485.1 1387.7L489.8 1368.2L496.2 1329.7L502.5 1290.8L507.2 1279.8L509.8 1290.9L512 1297.7L515.2 1279L518.3 1264L522.1 1256.9L525.6 1275L529.4 1301L533.5 1296.1L537.3 1279.7L540.5 1296.2L543.7 1318L546.8 1302.1L550 1286.6L553.2 1309.7L556.3 1326.2L561.1 1320.9L565.8 1310.1L569 1310.3L572.2 1304.7L574.7 1311.2L576.9 1334.4L580.7 1344.9L584.8 1349.7L588.6 1359.4L592.7 1366.8L596.2 1358.3L599.7 1345.7L602.6 1354.1L605.4 1361.9L610.2 1358.1L614.9 1353.7L619 1357.5L622.8 1369L626 1383.6L629.2 1393.1L632.3 1403.3L635.5 1412.9L639.3 1406.7L643.4 1396.6L646.6 1391.2L649.7 1388.4L653.9 1396L657.7 1398.5L660.8 1400.9L664 1408.3L667.8 1401.5L671.9 1390.6L674.4 1388.1L676.7 1382.6L679.8 1381.9L683 1378.2L686.8 1374.8L690.9 1366L694.1 1366.2L697.2 1365.5L699.8 1364.1L702 1353.2L704.2 1336.1L705.8 1324.4L707.4 1304.9L708.6 1279" stroke="#77ac30" stroke-width="0.8"/><path d="M406.9 1299.1L409.7 1275.3L412.2 1267L417 1261.8L421.7 1285.2L428.1 1311.1L432.2 1313L436 1320.3L440.7 1306.7L443.9 1285.7L447.1 1279.6L449.6 1284.4L451.8 1314.5L456.6 1351.5L461.3 1378.9L467.7 1394.4L471.5 1388.2L475.6 1379.4L480.3 1382.5L485.1 1387.4L489.8 1368.9L496.2 1332.6L502.5 1295.8L507.2 1279.6L509.8 1294.1L512 1307.1L515.2 1275.1L518.3 1253.4L522.1 1253.8L525.6 1277.2L529.4 1299.7L533.5 1295.5L537.3 1291.7L540.5 1305.8L543.7 1316.3L546.8 1305L550 1295.7L553.2 1301.9L556.3 1307.9L561.1 1321.3L565.8 1315.9L569 1306.2L572.2 1304.8L574.7 1315.1L576.9 1336.6L580.7 1345L584.8 1350.2L588.6 1362.6L592.7 1366.2L596.2 1353.7L599.7 1344.6L602.6 1355.7L605.4 1361.9L610.2 1357.8L614.9 1356.4L619 1361.4L622.8 1369L626 1385.2L629.2 1399.3L632.3 1404.6L635.5 1405.8L639.3 1402.8L643.4 1399.5L646.6 1389.5L649.7 1385.5L653.9 1400L657.7 1402.5L660.8 1400.6L664 1409.5L667.8 1406L671.9 1393.2L674.4 1384.1L676.7 1381.1L679.8 1383.8L683 1375.8L686.8 1370.9L690.9 1369.6L694.1 1373.4L697.2 1367.3L699.8 1368.2L702 1366.2L704.2 1339.5L705.8 1314.9L707.4 1303.2L708.6 1290.3" stroke="#4dbeee" stroke-width="0.8"/><path d="M406.9 1300.3L409.7 1273.9L412.2 1262.2L417 1260.4L421.7 1286.1L428.1 1313L432.2 1315.3L436 1324L440.7 1319.7L443.9 1287.2L447.1 1279.4L449.6 1293.9L451.8 1310.1L456.6 1347.5L461.3 1376.7L467.7 1394.3L471.5 1387.1L475.6 1379.5L480.3 1385.3L485.1 1391.9L489.8 1369.1L496.2 1332.1L502.5 1297.2L507.2 1280.3L509.8 1282.3L512 1298.2L515.2 1278.2L518.3 1252.7L522.1 1255.2L525.6 1286.7L529.4 1312.8L533.5 1301.1L537.3 1289.9L540.5 1310.3L543.7 1319.8L546.8 1294.4L550 1281.9L553.2 1302.5L556.3 1308.9L561.1 1309.1L565.8 1318.8L569 1318.2L572.2 1307.3L574.7 1316.1L576.9 1339L580.7 1345.8L584.8 1347.7L588.6 1357.8L592.7 1366.3L596.2 1353.7L599.7 1343L602.6 1357.3L605.4 1367.2L610.2 1361.1L614.9 1357.5L619 1364.8L622.8 1373.5L626 1379.4L629.2 1393.8L632.3 1403.2L635.5 1407L639.3 1399L643.4 1399.9L646.6 1396L649.7 1393.4L653.9 1400.1L657.7 1408.8L660.8 1406.4L664 1407.7L667.8 1400.9L671.9 1393.1L674.4 1382.1L676.7 1377.5L679.8 1381.8L683 1382.4L686.8 1376L690.9 1371.2L694.1 1375.8L697.2 1373.3L699.8 1367.2L702 1356.6L704.2 1338.4L705.8 1316.7L707.4 1287.6L708.6 1275.8" stroke="#a2142f" stroke-width="0.8"/><path d="M406.9 1303.2L409.7 1278.3L412.2 1265.5L417 1262.1L421.7 1291.9L428.1 1316.9L432.2 1312.4L436 1321.4L440.7 1312.9L443.9 1279.2L447.1 1270.1L449.6 1293.5L451.8 1319L456.6 1349.5L461.3 1379.1L467.7 1399.7L471.5 1389.4L475.6 1379.1L480.3 1383.5L485.1 1390.6L489.8 1367.6L496.2 1330.8L502.5 1296.4L507.2 1281.9L509.8 1291L512 1309.8L515.2 1289.9L518.3 1266.5L522.1 1251.7L525.6 1279L529.4 1307.5L533.5 1297.8L537.3 1282.5L540.5 1308.1L543.7 1319.2L546.8 1301.8L550 1296.7L553.2 1319.8L556.3 1327.7L561.1 1320.8L565.8 1315.5L569 1311.7L572.2 1304.2L574.7 1312.1L576.9 1337.9L580.7 1347.4L584.8 1350.5L588.6 1363.2L592.7 1374L596.2 1359.1L599.7 1345.4L602.6 1355L605.4 1365.9L610.2 1358L614.9 1355.3L619 1361.9L622.8 1371.9L626 1382.3L629.2 1396.2L632.3 1410.2L635.5 1414.7L639.3 1403L643.4 1400L646.6 1396.4L649.7 1389.1L653.9 1395.2L657.7 1402.6L660.8 1405.6L664 1408.2L667.8 1402.4L671.9 1397L674.4 1390.9L676.7 1382.7L679.8 1385.5L683 1382.1L686.8 1373.6L690.9 1366.4L694.1 1372.7L697.2 1372.1L699.8 1365.3L702 1357L704.2 1349.9L705.8 1335.4L707.4 1303L708.6 1284.6" stroke="#0072bd" stroke-width="0.8"/><path d="M406.9 1291.6L409.7 1272.7L412.2 1264.4L417 1260.3L421.7 1292.1L428.1 1326.4L432.2 1321.8L436 1325.3L440.7 1320.6L443.9 1291.4L447.1 1271.5L449.6 1277.7L451.8 1313.6L456.6 1348.1L461.3 1376L467.7 1397.3L471.5 1392.9L475.6 1383.8L480.3 1385.7L485.1 1392.8L489.8 1370.7L496.2 1331.4L502.5 1292.3L507.2 1280L509.8 1286.1L512 1294.2L515.2 1276.8L518.3 1274.2L522.1 1264.3L525.6 1286L529.4 1312.8L533.5 1308.4L537.3 1290.3L540.5 1303.2L543.7 1316.8L546.8 1300.2L550 1282.2L553.2 1301.3L556.3 1326.9L561.1 1335.5L565.8 1328.3L569 1318.7L572.2 1312.2L574.7 1315.2L576.9 1336.1L580.7 1344.7L584.8 1348L588.6 1355.6L592.7 1364.5L596.2 1358.5L599.7 1351.4L602.6 1357.9L605.4 1370.3L610.2 1363.7L614.9 1357.4L619 1361.6L622.8 1371.1L626 1381.9L629.2 1389.4L632.3 1400.3L635.5 1411.3L639.3 1410.6L643.4 1404L646.6 1401.1L649.7 1401.7L653.9 1403.2L657.7 1404.1L660.8 1405L664 1410L667.8 1396.6L671.9 1386.1L674.4 1384.9L676.7 1385.3L679.8 1385.1L683 1386L686.8 1385.4L690.9 1376.6L694.1 1373.1L697.2 1372.6L699.8 1367.5L702 1352L704.2 1330.9L705.8 1317.4L707.4 1303.9L708.6 1283.1" stroke="#d95319" stroke-width="0.8"/><path d="M406.9 1293.8L409.7 1276.8L412.2 1265.2L417 1261.1L421.7 1294.1L428.1 1332.9L432.2 1323.6L436 1324.3L440.7 1318.4L443.9 1290.7L447.1 1266.5L449.6 1281.3L451.8 1311.9L456.6 1350.2L461.3 1378.1L467.7 1399L471.5 1394.9L475.6 1384.1L480.3 1385.6L485.1 1392.7L489.8 1370.5L496.2 1331.4L502.5 1290.3L507.2 1278.9L509.8 1290.5L512 1297.9L515.2 1280.9L518.3 1273.6L522.1 1269.5L525.6 1288.5L529.4 1315.9L533.5 1309.3L537.3 1289.1L540.5 1299.5L543.7 1314.3L546.8 1297.5L550 1283.9L553.2 1309.6L556.3 1335.1L561.1 1335.9L565.8 1328.9L569 1321.1L572.2 1311.8L574.7 1315.2L576.9 1336.3L580.7 1345L584.8 1348.4L588.6 1359.3L592.7 1366.9L596.2 1361.9L599.7 1352.2L602.6 1360.8L605.4 1368.9L610.2 1363.5L614.9 1357L619 1359.4L622.8 1370.5L626 1382.6L629.2 1391.6L632.3 1402.2L635.5 1416L639.3 1412.5L643.4 1407.1L646.6 1404L649.7 1400.9L653.9 1405.6L657.7 1402L660.8 1403.2L664 1410L667.8 1399.8L671.9 1390.6L674.4 1387L676.7 1386.1L679.8 1387L683 1385.7L686.8 1386.1L690.9 1377L694.1 1374L697.2 1370L699.8 1367.8L702 1353.6L704.2 1330.8L705.8 1327.3L707.4 1319.1L708.6 1292.8" stroke="#edb120" stroke-width="0.8"/><path d="M406.9 1294.8L409.7 1272L412.2 1265.5L417 1261.4L421.7 1288.1L428.1 1324.6L432.2 1325.5L436 1326.9L440.7 1317.4L443.9 1296.2L447.1 1285L449.6 1283.2L451.8 1308.8L456.6 1349.4L461.3 1379L467.7 1395.8L471.5 1390.9L475.6 1384.1L480.3 1387.3L485.1 1392.8L489.8 1371.7L496.2 1333.1L502.5 1294.2L507.2 1278.8L509.8 1289.8L512 1302.2L515.2 1275.4L518.3 1268L522.1 1269L525.6 1293.8L529.4 1312.4L533.5 1309.2L537.3 1300.6L540.5 1309.7L543.7 1314.3L546.8 1299.4L550 1291.5L553.2 1299.9L556.3 1317.5L561.1 1339.5L565.8 1334.3L569 1320.3L572.2 1311.5L574.7 1319.7L576.9 1338.7L580.7 1344.2L584.8 1348.8L588.6 1361.7L592.7 1366.2L596.2 1356.8L599.7 1350L602.6 1362.1L605.4 1368.1L610.2 1363.6L614.9 1359.2L619 1364.1L622.8 1370L626 1384.9L629.2 1395.2L632.3 1401.9L635.5 1409.2L639.3 1411.7L643.4 1409.2L646.6 1399.1L649.7 1399.9L653.9 1411.2L657.7 1409.8L660.8 1403.1L664 1411.5L667.8 1403.1L671.9 1391.2L674.4 1383.7L676.7 1385.2L679.8 1388.4L683 1385.5L686.8 1381L690.9 1380.6L694.1 1379.8L697.2 1372.7L699.8 1367L702 1360.7L704.2 1335.9L705.8 1312L707.4 1304.5L708.6 1296.6" stroke="#7e2f8e" stroke-width="0.8"/><path d="M406.9 1306.4L409.7 1279.5L412.2 1269.7L417 1262.9L421.7 1287.4L428.1 1323.1L432.2 1317.4L436 1322.1L440.7 1315.7L443.9 1298.7L447.1 1286L449.6 1294.6L451.8 1323.6L456.6 1353.7L461.3 1380.3L467.7 1396.4L471.5 1391.2L475.6 1381.6L480.3 1384.2L485.1 1390.5L489.8 1370.9L496.2 1333.8L502.5 1298.8L507.2 1283.2L509.8 1298.7L512 1311.3L515.2 1278.9L518.3 1265L522.1 1263.8L525.6 1281.5L529.4 1306.7L533.5 1306.9L537.3 1295L540.5 1310.8L543.7 1321.9L546.8 1316.3L550 1302.9L553.2 1310.1L556.3 1323.3L561.1 1331.5L565.8 1320L569 1314.1L572.2 1308.9L574.7 1318.3L576.9 1339.7L580.7 1348L584.8 1355.3L588.6 1365.9L592.7 1371.7L596.2 1359.2L599.7 1352L602.6 1358.5L605.4 1363.6L610.2 1362.1L614.9 1358.9L619 1362.8L622.8 1373.7L626 1391.7L629.2 1401.5L632.3 1408.7L635.5 1412.7L639.3 1412.4L643.4 1403.1L646.6 1393.9L649.7 1395.4L653.9 1404.4L657.7 1406.5L660.8 1406.8L664 1415.6L667.8 1408L671.9 1394.7L674.4 1387.9L676.7 1387.9L679.8 1387.1L683 1381L686.8 1376.8L690.9 1377.1L694.1 1374.2L697.2 1372.8L699.8 1375.3L702 1370L704.2 1351.3L705.8 1331.2L707.4 1319.7L708.6 1299.8" stroke="#77ac30" stroke-width="0.8"/><path d="M406.9 1307.6L409.7 1284L412.2 1270L417 1263.1L421.7 1298.5L428.1 1327.8L432.2 1316.4L436 1322.7L440.7 1317.8L443.9 1289.8L447.1 1277.2L449.6 1293.4L451.8 1329.7L456.6 1353.2L461.3 1380.9L467.7 1401.7L471.5 1394.1L475.6 1382.1L480.3 1383.9L485.1 1391.1L489.8 1369.7L496.2 1331.6L502.5 1298L507.2 1284.8L509.8 1299L512 1314.5L515.2 1291.1L518.3 1275.9L522.1 1264.7L525.6 1282L529.4 1309L533.5 1304.2L537.3 1286.2L540.5 1308L543.7 1325.2L546.8 1313.7L550 1300.6L553.2 1321L556.3 1341.8L561.1 1332.6L565.8 1319.9L569 1318.8L572.2 1308.8L574.7 1313.7L576.9 1337.3L580.7 1348.7L584.8 1354.6L588.6 1366.2L592.7 1374.9L596.2 1364.8L599.7 1350.3L602.6 1358.6L605.4 1367.7L610.2 1361.7L614.9 1356.7L619 1361.9L622.8 1377L626 1390.3L629.2 1399.5L632.3 1412.9L635.5 1418.7L639.3 1413.4L643.4 1405.5L646.6 1398.8L649.7 1394.5L653.9 1401.6L657.7 1402.9L660.8 1408L664 1416L667.8 1405.2L671.9 1397.6L674.4 1394.8L676.7 1388.5L679.8 1388L683 1385.8L686.8 1379.8L690.9 1372L694.1 1372L697.2 1372.5L699.8 1374.5L702 1366.1L704.2 1353.8L705.8 1343L707.4 1329.5L708.6 1301.4" stroke="#4dbeee" stroke-width="0.8"/><path d="M406.9 1302.6L409.7 1277.8L412.2 1267.4L417 1261.5L421.7 1287.9L428.1 1325.4L432.2 1324.9L436 1327.5L440.7 1324.4L443.9 1308.3L447.1 1290L449.6 1294.8L451.8 1319.8L456.6 1352.8L461.3 1378.9L467.7 1395.8L471.5 1392.7L475.6 1385L480.3 1386.3L485.1 1394.6L489.8 1372.6L496.2 1334.2L502.5 1297.9L507.2 1283L509.8 1298.2L512 1307.4L515.2 1277.6L518.3 1271.1L522.1 1268.4L525.6 1289.6L529.4 1316.2L533.5 1315.4L537.3 1304.5L540.5 1313.2L543.7 1324.8L546.8 1311L550 1296.7L553.2 1306.7L556.3 1329.2L561.1 1336.1L565.8 1331.8L569 1320.1L572.2 1313.6L574.7 1320L576.9 1340.4L580.7 1347.2L584.8 1354.5L588.6 1363.1L592.7 1366.2L596.2 1357.1L599.7 1352.9L602.6 1359.8L605.4 1367.6L610.2 1364.3L614.9 1359.9L619 1366.7L622.8 1376.2L626 1390.8L629.2 1400.6L632.3 1403L635.5 1412L639.3 1410.8L643.4 1409.1L646.6 1401L649.7 1402.2L653.9 1410.1L657.7 1412.7L660.8 1410.2L664 1417.4L667.8 1406.1L671.9 1391.8L674.4 1385.8L676.7 1384.8L679.8 1388.8L683 1384.7L686.8 1384L690.9 1383.3L694.1 1380.2L697.2 1375.3L699.8 1374.7L702 1366.7L704.2 1344.7L705.8 1321.3L707.4 1312.5L708.6 1296" stroke="#a2142f" stroke-width="0.8"/><path d="M406.9 1309.4L409.7 1282.9L412.2 1269.2L417 1265.4L421.7 1303L428.1 1327.7L432.2 1321.6L436 1327.3L440.7 1317.1L443.9 1286L447.1 1278.6L449.6 1303.4L451.8 1324L456.6 1353.4L461.3 1383.2L467.7 1402.9L471.5 1394.7L475.6 1382.7L480.3 1387.7L485.1 1392.2L489.8 1368.8L496.2 1332L502.5 1300.8L507.2 1284.7L509.8 1294.9L512 1320L515.2 1301.4L518.3 1279.6L522.1 1266.3L525.6 1293.7L529.4 1313.4L533.5 1303.4L537.3 1288.7L540.5 1314.6L543.7 1323.3L546.8 1307.5L550 1308.6L553.2 1333L556.3 1338.7L561.1 1338.3L565.8 1334.2L569 1322.4L572.2 1308.7L574.7 1315.5L576.9 1339.8L580.7 1347.7L584.8 1351.9L588.6 1367.4L592.7 1380.8L596.2 1364.5L599.7 1354.2L602.6 1362.2L605.4 1370L610.2 1361L614.9 1357.3L619 1364.6L622.8 1374.6L626 1387.4L629.2 1401.2L632.3 1415.9L635.5 1420.5L639.3 1415.2L643.4 1415.5L646.6 1406.5L649.7 1394.8L653.9 1400.9L657.7 1407.3L660.8 1408.7L664 1412.1L667.8 1408L671.9 1401.5L674.4 1394.5L676.7 1389.4L679.8 1393.3L683 1389.2L686.8 1380.7L690.9 1374.5L694.1 1375.6L697.2 1373.4L699.8 1368.1L702 1366.2L704.2 1362.8L705.8 1344.9L707.4 1321.6L708.6 1313.4" stroke="#0072bd" stroke-width="0.8"/><path d="M406.9 1310.2L409.7 1280.3L412.2 1269.1L417 1264.8L421.7 1292.9L428.1 1320.2L432.2 1324.6L436 1327.2L440.7 1320.5L443.9 1305.4L447.1 1301.6L449.6 1308.2L451.8 1323.6L456.6 1353.3L461.3 1382.2L467.7 1397.6L471.5 1390.8L475.6 1383.7L480.3 1386.8L485.1 1392.9L489.8 1372.4L496.2 1335.3L502.5 1303.4L507.2 1284.3L509.8 1299.6L512 1316.1L515.2 1287.6L518.3 1266.1L522.1 1269L525.6 1295.3L529.4 1312.8L533.5 1310.3L537.3 1307L540.5 1319L543.7 1324.8L546.8 1316.1L550 1310.8L553.2 1319.4L556.3 1327.2L561.1 1337.5L565.8 1336L569 1319.3L572.2 1311.1L574.7 1320.3L576.9 1342.6L580.7 1348.3L584.8 1354.6L588.6 1370.3L592.7 1374.5L596.2 1359.3L599.7 1350.6L602.6 1361.8L605.4 1368.1L610.2 1363L614.9 1360.1L619 1369.3L622.8 1379L626 1390.4L629.2 1406.2L632.3 1412.4L635.5 1412.9L639.3 1411.3L643.4 1413.5L646.6 1398.5L649.7 1396.4L653.9 1408.8L657.7 1415.6L660.8 1411.8L664 1416.7L667.8 1411.1L671.9 1400.1L674.4 1389.1L676.7 1387L679.8 1390.8L683 1385.3L686.8 1380.8L690.9 1380.1L694.1 1381.8L697.2 1378.3L699.8 1375L702 1376.2L704.2 1358.1L705.8 1334.4L707.4 1312.9L708.6 1312.9" stroke="#d95319" stroke-width="0.8"/><path d="M406.9 1313.1L409.7 1285L412.2 1267.7L417 1262.7L421.7 1296L428.1 1328.5L432.2 1319.6L436 1327.3L440.7 1327.1L443.9 1307.9L447.1 1294.5L449.6 1309L451.8 1330.3L456.6 1353.6L461.3 1379.9L467.7 1399.7L471.5 1393L475.6 1383.1L480.3 1387.5L485.1 1396.4L489.8 1373L496.2 1334.2L502.5 1303.1L507.2 1288L509.8 1298.3L512 1311.3L515.2 1293.2L518.3 1276.7L522.1 1264.4L525.6 1289.9L529.4 1319.7L533.5 1313.1L537.3 1302.4L540.5 1318.7L543.7 1333.5L546.8 1313.8L550 1298.4L553.2 1319.5L556.3 1336.2L561.1 1328.9L565.8 1326.2L569 1325.5L572.2 1313.6L574.7 1318.6L576.9 1341.9L580.7 1351.5L584.8 1355.1L588.6 1366.1L592.7 1375.3L596.2 1363.2L599.7 1351.5L602.6 1360.6L605.4 1370.3L610.2 1365.9L614.9 1359.8L619 1368.8L622.8 1381.6L626 1393.9L629.2 1401.9L632.3 1410.3L635.5 1416.7L639.3 1412.2L643.4 1407.6L646.6 1403.7L649.7 1400.5L653.9 1406.8L657.7 1412.5L660.8 1415.7L664 1418.3L667.8 1407.4L671.9 1400.7L674.4 1394L676.7 1385.4L679.8 1388.4L683 1388L686.8 1385.9L690.9 1379.3L694.1 1381.5L697.2 1381.9L699.8 1381L702 1368.4L704.2 1357.8L705.8 1345.3L707.4 1320.1L708.6 1294.7" stroke="#edb120" stroke-width="0.8"/><path d="M406.9 1304.2L409.7 1279.3L412.2 1270.9L417 1266.6L421.7 1299.6L428.1 1334.9L432.2 1329.3L436 1330.6L440.7 1319.9L443.9 1296L447.1 1290.2L449.6 1292.4L451.8 1322.1L456.6 1354.7L461.3 1384.5L467.7 1403.2L471.5 1396.8L475.6 1387.5L480.3 1389.5L485.1 1394.2L489.8 1370.7L496.2 1333.9L502.5 1298.7L507.2 1281L509.8 1300.4L512 1325.4L515.2 1301.3L518.3 1282.1L522.1 1284.1L525.6 1301.9L529.4 1315.8L533.5 1310.5L537.3 1297L540.5 1312.2L543.7 1320.7L546.8 1311.7L550 1314.5L553.2 1327.9L556.3 1345L561.1 1356.4L565.8 1352L569 1322.3L572.2 1311.6L574.7 1318.8L576.9 1339.8L580.7 1346.8L584.8 1352.7L588.6 1370.6L592.7 1377.1L596.2 1366.2L599.7 1359.2L602.6 1368.2L605.4 1373.1L610.2 1364.3L614.9 1359.9L619 1365.1L622.8 1371.6L626 1387L629.2 1404.8L632.3 1414.1L635.5 1420.5L639.3 1420.4L643.4 1423.8L646.6 1409.7L649.7 1400.7L653.9 1408.4L657.7 1410.2L660.8 1404.3L664 1411.9L667.8 1411.1L671.9 1400.6L674.4 1393.5L676.7 1394.1L679.8 1400L683 1392.5L686.8 1385.4L690.9 1382.1L694.1 1380.3L697.2 1372.9L699.8 1370.8L702 1368.6L704.2 1357.3L705.8 1340L707.4 1340.4L708.6 1331.1" stroke="#7e2f8e" stroke-width="0.8"/><path d="M406.9 1318.1L409.7 1290.5L412.2 1271.7L417 1264.7L421.7 1302.1L428.1 1333.2L432.2 1321.1L436 1326.1L440.7 1324.9L443.9 1302.9L447.1 1288.8L449.6 1310.4L451.8 1337.6L456.6 1356.5L461.3 1382L467.7 1403.3L471.5 1394.8L475.6 1382.9L480.3 1387.1L485.1 1395.2L489.8 1372.9L496.2 1333.7L502.5 1302.6L507.2 1288.4L509.8 1304.7L512 1322.5L515.2 1303.4L518.3 1282.8L522.1 1268.2L525.6 1289.2L529.4 1318.3L533.5 1311L537.3 1296.4L540.5 1316.3L543.7 1332.1L546.8 1322.5L550 1307L553.2 1335.7L556.3 1345.1L561.1 1341.8L565.8 1329.3L569 1321.8L572.2 1313.4L574.7 1317.4L576.9 1341.9L580.7 1351.3L584.8 1356.2L588.6 1370.3L592.7 1380.4L596.2 1369.9L599.7 1354.8L602.6 1360.2L605.4 1371.5L610.2 1365L614.9 1358.5L619 1367.8L622.8 1381.8L626 1396.4L629.2 1405.9L632.3 1415.2L635.5 1422.3L639.3 1417L643.4 1412.1L646.6 1403.9L649.7 1400.4L653.9 1406.9L657.7 1410.1L660.8 1415.1L664 1419.8L667.8 1410L671.9 1403.4L674.4 1398.2L676.7 1390.7L679.8 1391.2L683 1388L686.8 1385.9L690.9 1377L694.1 1378.7L697.2 1380.1L699.8 1379.9L702 1372.6L704.2 1366.2L705.8 1362.7L707.4 1337.7L708.6 1309.8" stroke="#77ac30" stroke-width="0.8"/><path d="M406.9 1321L409.7 1289.5L412.2 1271.2L417 1264.1L421.7 1300.2L428.1 1333.2L432.2 1323L436 1329.2L440.7 1328.8L443.9 1308.6L447.1 1298.7L449.6 1314L451.8 1338.1L456.6 1355.3L461.3 1382.6L467.7 1403L471.5 1394.7L475.6 1382.8L480.3 1387.3L485.1 1396.6L489.8 1373.6L496.2 1335L502.5 1307L507.2 1288.2L509.8 1304.7L512 1319.5L515.2 1300.3L518.3 1280.8L522.1 1267L525.6 1294.8L529.4 1322.1L533.5 1316.9L537.3 1305.2L540.5 1321.6L543.7 1334.2L546.8 1321.3L550 1309.3L553.2 1327.6L556.3 1346.1L561.1 1340.2L565.8 1331.9L569 1326.7L572.2 1315.1L574.7 1319.7L576.9 1342.7L580.7 1352.4L584.8 1357.7L588.6 1369.8L592.7 1378.5L596.2 1365.8L599.7 1353.8L602.6 1362.1L605.4 1371.8L610.2 1366L614.9 1360.2L619 1370.1L622.8 1385L626 1395.7L629.2 1405.4L632.3 1414.9L635.5 1421.2L639.3 1413.1L643.4 1411.2L646.6 1406.3L649.7 1403.4L653.9 1408.7L657.7 1414.7L660.8 1415.8L664 1419.8L667.8 1413L671.9 1402.9L674.4 1395.5L676.7 1389.5L679.8 1390.8L683 1388.7L686.8 1386.7L690.9 1379.3L694.1 1381.5L697.2 1381.3L699.8 1380.8L702 1376.6L704.2 1366.7L705.8 1355.5L707.4 1329.6L708.6 1302.9" stroke="#4dbeee" stroke-width="0.8"/><path d="M406.9 1312L409.7 1281.3L412.2 1271.1L417 1267.6L421.7 1303.8L428.1 1335.5L432.2 1332.3L436 1334.9L440.7 1325.4L443.9 1298L447.1 1293.6L449.6 1305.6L451.8 1321.7L456.6 1354.7L461.3 1385.3L467.7 1403.8L471.5 1397.2L475.6 1388.5L480.3 1391.8L485.1 1397.5L489.8 1372L496.2 1334.6L502.5 1302.3L507.2 1283.7L509.8 1298.8L512 1324.2L515.2 1303.1L518.3 1283.2L522.1 1286L525.6 1311.4L529.4 1322.3L533.5 1311.4L537.3 1302.8L540.5 1316.8L543.7 1324.6L546.8 1312.8L550 1314.2L553.2 1330.6L556.3 1349.5L561.1 1359.2L565.8 1360.6L569 1332.7L572.2 1313.3L574.7 1320.1L576.9 1342.5L580.7 1348.5L584.8 1353L588.6 1369.1L592.7 1379.7L596.2 1367.7L599.7 1358.8L602.6 1370.6L605.4 1375.8L610.2 1365.5L614.9 1360.7L619 1368.3L622.8 1375.2L626 1386.4L629.2 1404.9L632.3 1414.1L635.5 1421.1L639.3 1420.4L643.4 1424.7L646.6 1416.7L649.7 1403.9L653.9 1414.5L657.7 1417.2L660.8 1410.8L664 1412.3L667.8 1409.6L671.9 1400.9L674.4 1395L676.7 1393.5L679.8 1401L683 1397L686.8 1388.4L690.9 1385.7L694.1 1384.4L697.2 1377.5L699.8 1370.4L702 1368.8L704.2 1357.4L705.8 1344.8L707.4 1334.9L708.6 1335.3" stroke="#a2142f" stroke-width="0.8"/><path d="M406.9 1314L409.7 1283.6L412.2 1270.9L417 1268L421.7 1308.2L428.1 1338.1L432.2 1330.4L436 1334.2L440.7 1329.8L443.9 1296.1L447.1 1292.2L449.6 1305.1L451.8 1330.4L456.6 1354.9L461.3 1384.9L467.7 1407.1L471.5 1397.8L475.6 1387.3L480.3 1391.3L485.1 1397L489.8 1372.5L496.2 1334.3L502.5 1304.3L507.2 1284.5L509.8 1299.2L512 1329.2L515.2 1308.4L518.3 1291.8L522.1 1280.4L525.6 1309.5L529.4 1322.8L533.5 1313.4L537.3 1298.6L540.5 1316.9L543.7 1325.6L546.8 1315L550 1314.2L553.2 1340.6L556.3 1355.2L561.1 1358.8L565.8 1355L569 1332.5L572.2 1313L574.7 1318.3L576.9 1342.4L580.7 1349.8L584.8 1353L588.6 1369.1L592.7 1382L596.2 1371.4L599.7 1359.8L602.6 1369.6L605.4 1376.6L610.2 1366.2L614.9 1359.8L619 1369.1L622.8 1378.9L626 1388L629.2 1403.3L632.3 1420.2L635.5 1424.9L639.3 1423.1L643.4 1423.7L646.6 1418L649.7 1404.5L653.9 1410.9L657.7 1415.8L660.8 1411.7L664 1413L667.8 1410.9L671.9 1405.3L674.4 1399.1L676.7 1393L679.8 1399.2L683 1399.8L686.8 1389.1L690.9 1380.7L694.1 1382.3L697.2 1379L699.8 1371.2L702 1369.5L704.2 1365.7L705.8 1356.8L707.4 1336.4L708.6 1340.1" stroke="#0072bd" stroke-width="0.8"/><path d="M406.9 1307.8L409.7 1287.2L412.2 1272.7L417 1266.6L421.7 1304.8L428.1 1346.6L432.2 1335.7L436 1332.7L440.7 1330.1L443.9 1310.6L447.1 1290.3L449.6 1296.8L451.8 1333.3L456.6 1356.1L461.3 1383.4L467.7 1404.5L471.5 1400.1L475.6 1389.9L480.3 1389.9L485.1 1397L489.8 1374.4L496.2 1334L502.5 1298.7L507.2 1286.1L509.8 1304.9L512 1322.5L515.2 1305.4L518.3 1294.8L522.1 1289.5L525.6 1305.3L529.4 1323.1L533.5 1318.9L537.3 1303.1L540.5 1313.7L543.7 1327.5L546.8 1318.3L550 1309.4L553.2 1331.1L556.3 1362.8L561.1 1367.7L565.8 1350.4L569 1332L572.2 1318.4L574.7 1320.2L576.9 1341L580.7 1350.3L584.8 1356.1L588.6 1368.9L592.7 1379.9L596.2 1373L599.7 1363.5L602.6 1370L605.4 1377.1L610.2 1368.8L614.9 1360.7L619 1366.3L622.8 1378.4L626 1394.9L629.2 1405.1L632.3 1415.8L635.5 1427.4L639.3 1428.8L643.4 1421.8L646.6 1414.7L649.7 1412.4L653.9 1415.9L657.7 1411.7L660.8 1411.1L664 1418.8L667.8 1409.6L671.9 1400.7L674.4 1397.3L676.7 1397.1L679.8 1399.1L683 1395L686.8 1393L690.9 1388.1L694.1 1382L697.2 1379.2L699.8 1379.2L702 1372.6L704.2 1358.7L705.8 1359L707.4 1348.7L708.6 1336.9" stroke="#d95319" stroke-width="0.8"/><path d="M406.9 1318.4L409.7 1289.9L412.2 1275.4L417 1266.7L421.7 1298.5L428.1 1335.1L432.2 1329.8L436 1332.3L440.7 1326.8L443.9 1316.2L447.1 1312.1L449.6 1314.1L451.8 1338.2L456.6 1359.3L461.3 1385.1L467.7 1401.9L471.5 1396.2L475.6 1387.3L480.3 1388.7L485.1 1395.2L489.8 1374.4L496.2 1336.5L502.5 1306.8L507.2 1288.6L509.8 1310.5L512 1327.9L515.2 1299L518.3 1285.5L522.1 1280.5L525.6 1299.4L529.4 1319.7L533.5 1318.7L537.3 1315.4L540.5 1324.4L543.7 1335.2L546.8 1330.9L550 1322.2L553.2 1330L556.3 1345.4L561.1 1352.1L565.8 1344.3L569 1324.2L572.2 1316.5L574.7 1323L576.9 1344L580.7 1352.8L584.8 1360L588.6 1375.6L592.7 1379.8L596.2 1367.3L599.7 1360.9L602.6 1365.3L605.4 1372.3L610.2 1366.2L614.9 1361.8L619 1372L622.8 1383.6L626 1398.9L629.2 1412.3L632.3 1417.5L635.5 1423.3L639.3 1421.2L643.4 1417.5L646.6 1407.9L649.7 1405.3L653.9 1415L657.7 1417.5L660.8 1415.1L664 1424.4L667.8 1418.5L671.9 1406.6L674.4 1397.6L676.7 1394.7L679.8 1396.9L683 1390.4L686.8 1387.9L690.9 1386.3L694.1 1385.7L697.2 1381.9L699.8 1387L702 1384.1L704.2 1372.5L705.8 1350.9L707.4 1349.5L708.6 1329.3" stroke="#edb120" stroke-width="0.8"/><path d="M406.9 1318.1L409.7 1288.7L412.2 1271.9L417 1265.2L421.7 1303.3L428.1 1341.1L432.2 1331.5L436 1335.1L440.7 1337L443.9 1321.6L447.1 1303.8L449.6 1315.2L451.8 1336.8L456.6 1355.5L461.3 1382.7L467.7 1404.1L471.5 1398.3L475.6 1387.6L480.3 1390.8L485.1 1400.4L489.8 1376L496.2 1336.2L502.5 1307L507.2 1288.5L509.8 1306.5L512 1317L515.2 1301.4L518.3 1291.4L522.1 1282.8L525.6 1302.5L529.4 1329.8L533.5 1325.9L537.3 1310.7L540.5 1323L543.7 1337L546.8 1323.3L550 1310L553.2 1331.2L556.3 1353.3L561.1 1357L565.8 1349L569 1335.3L572.2 1320.1L574.7 1323.9L576.9 1344.4L580.7 1353.6L584.8 1358L588.6 1370.2L592.7 1378.4L596.2 1369.7L599.7 1357.4L602.6 1366.2L605.4 1377.3L610.2 1370.4L614.9 1362.8L619 1373L622.8 1387.5L626 1397.9L629.2 1405.1L632.3 1414.9L635.5 1425.2L639.3 1420L643.4 1418.2L646.6 1416L649.7 1412.1L653.9 1417.8L657.7 1421.2L660.8 1419.4L664 1423.5L667.8 1411.2L671.9 1403L674.4 1397.6L676.7 1393.6L679.8 1396L683 1396.6L686.8 1394.8L690.9 1388.1L694.1 1386.4L697.2 1385.8L699.8 1386.8L702 1375.1L704.2 1359.3L705.8 1356.1L707.4 1339.7L708.6 1317.2" stroke="#7e2f8e" stroke-width="0.8"/><path d="M406.9 1314.8L409.7 1289.5L412.2 1275.4L417 1268.7L421.7 1307.9L428.1 1341.6L432.2 1334.7L436 1334.1L440.7 1326.5L443.9 1311.3L447.1 1301.5L449.6 1311.3L451.8 1336.1L456.6 1359.3L461.3 1387.1L467.7 1406.6L471.5 1400.5L475.6 1390.2L480.3 1391L485.1 1395.2L489.8 1373.3L496.2 1336L502.5 1303.4L507.2 1286.9L509.8 1311L512 1335.8L515.2 1312.3L518.3 1296.1L522.1 1289.7L525.6 1304.4L529.4 1318.9L533.5 1318.5L537.3 1308.6L540.5 1321.1L543.7 1330.7L546.8 1328.3L550 1326.4L553.2 1341.1L556.3 1364.6L561.1 1367.7L565.8 1356.3L569 1327.8L572.2 1315.5L574.7 1321.7L576.9 1343.2L580.7 1350.6L584.8 1360.2L588.6 1376.3L592.7 1384.8L596.2 1372.9L599.7 1364.6L602.6 1372.1L605.4 1375.4L610.2 1366.7L614.9 1362.1L619 1369.9L622.8 1379.3L626 1397.7L629.2 1412.8L632.3 1421.3L635.5 1429.3L639.3 1428.8L643.4 1428L646.6 1413.3L649.7 1405.3L653.9 1414.8L657.7 1416.8L660.8 1412L664 1421.8L667.8 1417.4L671.9 1406.9L674.4 1400.1L676.7 1398.5L679.8 1402.6L683 1395.1L686.8 1390.1L690.9 1385.6L694.1 1383.8L697.2 1377.9L699.8 1380.7L702 1381.1L704.2 1370.2L705.8 1366.5L707.4 1358.7L708.6 1347.7" stroke="#77ac30" stroke-width="0.8"/><line x1="406.9" y1="1230.7" x2="406.9" y2="1432.7" stroke="#333"/><line x1="406.9" y1="1432.7" x2="709" y2="1432.7" stroke="#333"/><line x1="406.9" y1="1230.7" x2="709" y2="1230.7" stroke="#666" stroke-dasharray="1 4.035"/><line x1="709" y1="1230.7" x2="709" y2="1432.7" stroke="#bbb" stroke-width="0.8"/><line x1="406.9" y1="1432.7" x2="406.9" y2="1429.7" stroke="#333" stroke-width="0.8"/><line x1="406.9" y1="1230.7" x2="406.9" y2="1233.7" stroke="#333" stroke-width="0.8"/><line x1="457.2" y1="1432.7" x2="457.2" y2="1429.7" stroke="#333" stroke-width="0.8"/><line x1="457.2" y1="1230.7" x2="457.2" y2="1233.7" stroke="#333" stroke-width="0.8"/><line x1="507.6" y1="1432.7" x2="507.6" y2="1429.7" stroke="#333" stroke-width="0.8"/><line x1="507.6" y1="1230.7" x2="507.6" y2="1233.7" stroke="#333" stroke-width="0.8"/><line x1="558" y1="1432.7" x2="558" y2="1429.7" stroke="#333" stroke-width="0.8"/><line x1="558" y1="1230.7" x2="558" y2="1233.7" stroke="#333" stroke-width="0.8"/><line x1="608.3" y1="1432.7" x2="608.3" y2="1429.7" stroke="#333" stroke-width="0.8"/><line x1="608.3" y1="1230.7" x2="608.3" y2="1233.7" stroke="#333" stroke-width="0.8"/><line x1="658.6" y1="1432.7" x2="658.6" y2="1429.7" stroke="#333" stroke-width="0.8"/><line x1="658.6" y1="1230.7" x2="658.6" y2="1233.7" stroke="#333" stroke-width="0.8"/><line x1="709" y1="1432.7" x2="709" y2="1429.7" stroke="#333" stroke-width="0.8"/><line x1="709" y1="1230.7" x2="709" y2="1233.7" stroke="#333" stroke-width="0.8"/><line x1="406.9" y1="1432.7" x2="409.9" y2="1432.7" stroke="#333" stroke-width="0.8"/><line x1="406.9" y1="1410.3" x2="409.9" y2="1410.3" stroke="#333" stroke-width="0.8"/><line x1="406.9" y1="1387.8" x2="409.9" y2="1387.8" stroke="#333" stroke-width="0.8"/><line x1="406.9" y1="1365.4" x2="409.9" y2="1365.4" stroke="#333" stroke-width="0.8"/><line x1="406.9" y1="1342.9" x2="409.9" y2="1342.9" stroke="#333" stroke-width="0.8"/><line x1="406.9" y1="1320.5" x2="409.9" y2="1320.5" stroke="#333" stroke-width="0.8"/><line x1="406.9" y1="1298" x2="409.9" y2="1298" stroke="#333" stroke-width="0.8"/><line x1="406.9" y1="1275.6" x2="409.9" y2="1275.6" stroke="#333" stroke-width="0.8"/><line x1="406.9" y1="1253.1" x2="409.9" y2="1253.1" stroke="#333" stroke-width="0.8"/><line x1="406.9" y1="1230.7" x2="409.9" y2="1230.7" stroke="#333" stroke-width="0.8"/><g filter="url(#cmE)"><rect x="780.8" y="1186.4" width="349.2" height="182.8" fill="url(#eP2)"/><rect x="780.8" y="1186.4" width="349.2" height="182.8" fill="url(#eM)" mask="url(#meM)"/><rect x="1161.200" y="1178.800" width="26" height="190.400" fill="url(#ecb)"/></g><rect x="1161.2" y="1178.8" width="26" height="190.4" fill="none" stroke="#555" stroke-width="0.6"/><rect x="762.8" y="1179.2" width="370.4" height="190" fill="none" stroke="#444" stroke-width="0.8"/><line x1="762.800" y1="1180" x2="1133.200" y2="1180" stroke="#333" stroke-width="2" stroke-dasharray=".7 5.440"/><line x1="763.600" y1="1200" x2="763.600" y2="1369.200" stroke="#333" stroke-width="2" stroke-dasharray=".7 6.100"/><line x1="1132.400" y1="1200" x2="1132.400" y2="1369.200" stroke="#333" stroke-width="2" stroke-dasharray=".7 6.100"/><line x1="762.8" y1="1200" x2="766.5" y2="1200" stroke="#333" stroke-width="0.8"/><line x1="1133.2" y1="1200" x2="1129.5" y2="1200" stroke="#333" stroke-width="0.8"/><line x1="762.8" y1="1234" x2="766.5" y2="1234" stroke="#333" stroke-width="0.8"/><line x1="1133.2" y1="1234" x2="1129.5" y2="1234" stroke="#333" stroke-width="0.8"/><line x1="762.8" y1="1268" x2="766.5" y2="1268" stroke="#333" stroke-width="0.8"/><line x1="1133.2" y1="1268" x2="1129.5" y2="1268" stroke="#333" stroke-width="0.8"/><line x1="762.8" y1="1302" x2="766.5" y2="1302" stroke="#333" stroke-width="0.8"/><line x1="1133.2" y1="1302" x2="1129.5" y2="1302" stroke="#333" stroke-width="0.8"/><line x1="762.8" y1="1336" x2="766.5" y2="1336" stroke="#333" stroke-width="0.8"/><line x1="1133.2" y1="1336" x2="1129.5" y2="1336" stroke="#333" stroke-width="0.8"/><line x1="762.8" y1="1369.2" x2="766.5" y2="1369.2" stroke="#333" stroke-width="0.8"/><line x1="1133.2" y1="1369.2" x2="1129.5" y2="1369.2" stroke="#333" stroke-width="0.8"/><line x1="762.8" y1="1369.2" x2="762.8" y2="1366" stroke="#333" stroke-width="0.8"/><line x1="762.8" y1="1179.2" x2="762.8" y2="1182.4" stroke="#333" stroke-width="0.8"/><line x1="824.2" y1="1369.2" x2="824.2" y2="1366" stroke="#333" stroke-width="0.8"/><line x1="824.2" y1="1179.2" x2="824.2" y2="1182.4" stroke="#333" stroke-width="0.8"/><line x1="885.6" y1="1369.2" x2="885.6" y2="1366" stroke="#333" stroke-width="0.8"/><line x1="885.6" y1="1179.2" x2="885.6" y2="1182.4" stroke="#333" stroke-width="0.8"/><line x1="947" y1="1369.2" x2="947" y2="1366" stroke="#333" stroke-width="0.8"/><line x1="947" y1="1179.2" x2="947" y2="1182.4" stroke="#333" stroke-width="0.8"/><line x1="1008.4" y1="1369.2" x2="1008.4" y2="1366" stroke="#333" stroke-width="0.8"/><line x1="1008.4" y1="1179.2" x2="1008.4" y2="1182.4" stroke="#333" stroke-width="0.8"/><line x1="1069.8" y1="1369.2" x2="1069.8" y2="1366" stroke="#333" stroke-width="0.8"/><line x1="1069.8" y1="1179.2" x2="1069.8" y2="1182.4" stroke="#333" stroke-width="0.8"/><line x1="1131.2" y1="1369.2" x2="1131.2" y2="1366" stroke="#333" stroke-width="0.8"/><line x1="1131.2" y1="1179.2" x2="1131.2" y2="1182.4" stroke="#333" stroke-width="0.8"/><line x1="1187.2" y1="1342.8" x2="1185" y2="1342.8" stroke="#222" stroke-width="0.6"/><line x1="1187.2" y1="1316.5" x2="1185" y2="1316.5" stroke="#222" stroke-width="0.6"/><line x1="1187.2" y1="1290.1" x2="1185" y2="1290.1" stroke="#222" stroke-width="0.6"/><line x1="1187.2" y1="1263.7" x2="1185" y2="1263.7" stroke="#222" stroke-width="0.6"/><line x1="1187.2" y1="1237.3" x2="1185" y2="1237.3" stroke="#222" stroke-width="0.6"/><line x1="1187.2" y1="1211" x2="1185" y2="1211" stroke="#222" stroke-width="0.6"/><line x1="1187.2" y1="1184.6" x2="1185" y2="1184.6" stroke="#222" stroke-width="0.6"/><g filter="url(#cmT)"><rect x="780.8" y="1416" width="349.2" height="182.8" fill="url(#tP)"/><rect x="780.8" y="1416" width="349.2" height="182.8" fill="url(#tM)" mask="url(#mtG)"/><rect x="1154" y="1408.800" width="18" height="190" fill="url(#tcb)"/></g><rect x="1154" y="1408.8" width="18" height="190" fill="none" stroke="#555" stroke-width="0.6"/><rect x="762.8" y="1408.8" width="370.4" height="190" fill="none" stroke="#444" stroke-width="0.8"/><line x1="762.800" y1="1409.600" x2="1133.200" y2="1409.600" stroke="#333" stroke-width="2" stroke-dasharray=".7 5.440"/><line x1="763.600" y1="1429.200" x2="763.600" y2="1598.800" stroke="#333" stroke-width="2" stroke-dasharray=".7 6.100"/><line x1="1132.400" y1="1429.200" x2="1132.400" y2="1598.800" stroke="#333" stroke-width="2" stroke-dasharray=".7 6.100"/><line x1="762.8" y1="1429.2" x2="766.5" y2="1429.2" stroke="#333" stroke-width="0.8"/><line x1="1133.2" y1="1429.2" x2="1129.5" y2="1429.2" stroke="#333" stroke-width="0.8"/><line x1="762.8" y1="1463.2" x2="766.5" y2="1463.2" stroke="#333" stroke-width="0.8"/><line x1="1133.2" y1="1463.2" x2="1129.5" y2="1463.2" stroke="#333" stroke-width="0.8"/><line x1="762.8" y1="1497.2" x2="766.5" y2="1497.2" stroke="#333" stroke-width="0.8"/><line x1="1133.2" y1="1497.2" x2="1129.5" y2="1497.2" stroke="#333" stroke-width="0.8"/><line x1="762.8" y1="1531.2" x2="766.5" y2="1531.2" stroke="#333" stroke-width="0.8"/><line x1="1133.2" y1="1531.2" x2="1129.5" y2="1531.2" stroke="#333" stroke-width="0.8"/><line x1="762.8" y1="1565" x2="766.5" y2="1565" stroke="#333" stroke-width="0.8"/><line x1="1133.2" y1="1565" x2="1129.5" y2="1565" stroke="#333" stroke-width="0.8"/><line x1="762.8" y1="1598.8" x2="766.5" y2="1598.8" stroke="#333" stroke-width="0.8"/><line x1="1133.2" y1="1598.8" x2="1129.5" y2="1598.8" stroke="#333" stroke-width="0.8"/><line x1="762.8" y1="1598.8" x2="762.8" y2="1595.6" stroke="#333" stroke-width="0.8"/><line x1="762.8" y1="1408.8" x2="762.8" y2="1412" stroke="#333" stroke-width="0.8"/><line x1="824.2" y1="1598.8" x2="824.2" y2="1595.6" stroke="#333" stroke-width="0.8"/><line x1="824.2" y1="1408.8" x2="824.2" y2="1412" stroke="#333" stroke-width="0.8"/><line x1="885.6" y1="1598.8" x2="885.6" y2="1595.6" stroke="#333" stroke-width="0.8"/><line x1="885.6" y1="1408.8" x2="885.6" y2="1412" stroke="#333" stroke-width="0.8"/><line x1="947" y1="1598.8" x2="947" y2="1595.6" stroke="#333" stroke-width="0.8"/><line x1="947" y1="1408.8" x2="947" y2="1412" stroke="#333" stroke-width="0.8"/><line x1="1008.4" y1="1598.8" x2="1008.4" y2="1595.6" stroke="#333" stroke-width="0.8"/><line x1="1008.4" y1="1408.8" x2="1008.4" y2="1412" stroke="#333" stroke-width="0.8"/><line x1="1069.8" y1="1598.8" x2="1069.8" y2="1595.6" stroke="#333" stroke-width="0.8"/><line x1="1069.8" y1="1408.8" x2="1069.8" y2="1412" stroke="#333" stroke-width="0.8"/><line x1="1131.2" y1="1598.8" x2="1131.2" y2="1595.6" stroke="#333" stroke-width="0.8"/><line x1="1131.2" y1="1408.8" x2="1131.2" y2="1412" stroke="#333" stroke-width="0.8"/><line x1="1172" y1="1592.1" x2="1170" y2="1592.1" stroke="#222" stroke-width="0.6"/><line x1="1172" y1="1570.3" x2="1170" y2="1570.3" stroke="#222" stroke-width="0.6"/><line x1="1172" y1="1548.5" x2="1170" y2="1548.5" stroke="#222" stroke-width="0.6"/><line x1="1172" y1="1526.8" x2="1170" y2="1526.8" stroke="#222" stroke-width="0.6"/><line x1="1172" y1="1505" x2="1170" y2="1505" stroke="#222" stroke-width="0.6"/><line x1="1172" y1="1483.2" x2="1170" y2="1483.2" stroke="#222" stroke-width="0.6"/><line x1="1172" y1="1461.5" x2="1170" y2="1461.5" stroke="#222" stroke-width="0.6"/><line x1="1172" y1="1439.7" x2="1170" y2="1439.7" stroke="#222" stroke-width="0.6"/><line x1="1172" y1="1417.9" x2="1170" y2="1417.9" stroke="#222" stroke-width="0.6"/></g><g fill="#222"><text x="79.9" y="1228.1" font-size="4.4" text-anchor="middle" fill="#111" font-weight="700">Year= -8000</text><text x="191.4" y="1228.1" font-size="4.4" text-anchor="middle" fill="#111" font-weight="700">Year= -6000</text><text x="303.2" y="1228.1" font-size="4.4" text-anchor="middle" fill="#111" font-weight="700">Year= -4000</text><text x="23" y="1238.7" font-size="3.6" text-anchor="end" fill="#444">80</text><text x="23" y="1259.3" font-size="3.6" text-anchor="end" fill="#444">40</text><text x="23" y="1281" font-size="3.6" text-anchor="end" fill="#444">0</text><text x="23" y="1302.6" font-size="3.6" text-anchor="end" fill="#444">-40</text><text x="23" y="1323.2" font-size="3.6" text-anchor="end" fill="#444">-80</text><text transform="translate(6.5 1279.3) rotate(-90)" font-size="3.6" text-anchor="middle" fill="#444">Latitude</text><text x="79.9" y="1335.8" font-size="4.4" text-anchor="middle" fill="#111" font-weight="700">Year= -2000</text><text x="191.4" y="1335.8" font-size="4.4" text-anchor="middle" fill="#111" font-weight="700">Year= 0</text><text x="303.2" y="1335.8" font-size="4.4" text-anchor="middle" fill="#111" font-weight="700">Year= 2000</text><text x="23" y="1346.4" font-size="3.6" text-anchor="end" fill="#444">80</text><text x="23" y="1367" font-size="3.6" text-anchor="end" fill="#444">40</text><text x="23" y="1388.7" font-size="3.6" text-anchor="end" fill="#444">0</text><text x="23" y="1410.3" font-size="3.6" text-anchor="end" fill="#444">-40</text><text x="23" y="1430.9" font-size="3.6" text-anchor="end" fill="#444">-80</text><text transform="translate(6.5 1387.0) rotate(-90)" font-size="3.6" text-anchor="middle" fill="#444">Latitude</text><text x="33.3" y="1443.5" font-size="3.6" text-anchor="middle" fill="#444">-160</text><text x="57" y="1443.5" font-size="3.6" text-anchor="middle" fill="#444">-80</text><text x="80.6" y="1443.5" font-size="3.6" text-anchor="middle" fill="#444">0</text><text x="104.2" y="1443.5" font-size="3.6" text-anchor="middle" fill="#444">80</text><text x="127.9" y="1443.5" font-size="3.6" text-anchor="middle" fill="#444">160</text><text x="144.8" y="1443.5" font-size="3.6" text-anchor="middle" fill="#444">-160</text><text x="168.5" y="1443.5" font-size="3.6" text-anchor="middle" fill="#444">-80</text><text x="192.1" y="1443.5" font-size="3.6" text-anchor="middle" fill="#444">0</text><text x="215.7" y="1443.5" font-size="3.6" text-anchor="middle" fill="#444">80</text><text x="239.4" y="1443.5" font-size="3.6" text-anchor="middle" fill="#444">160</text><text x="256.6" y="1443.5" font-size="3.6" text-anchor="middle" fill="#444">-160</text><text x="280.3" y="1443.5" font-size="3.6" text-anchor="middle" fill="#444">-80</text><text x="303.9" y="1443.5" font-size="3.6" text-anchor="middle" fill="#444">0</text><text x="327.5" y="1443.5" font-size="3.6" text-anchor="middle" fill="#444">80</text><text x="351.2" y="1443.5" font-size="3.6" text-anchor="middle" fill="#444">160</text><text x="192" y="1453" font-size="3.6" text-anchor="middle" fill="#444">Longitude</text><text x="17" y="1458" font-size="3.9" fill="#333">LT= 12, NmF2 (10⁵/cm³)</text><text x="270" y="1463" font-size="3.4" text-anchor="middle" fill="#444">5</text><text x="303" y="1463" font-size="3.4" text-anchor="middle" fill="#444">10</text><text x="337" y="1463" font-size="3.4" text-anchor="middle" fill="#444">15</text><text x="406.9" y="1444.2" font-size="8.4" text-anchor="middle">-10000</text><text x="457.2" y="1444.2" font-size="8.4" text-anchor="middle">-8000</text><text x="507.6" y="1444.2" font-size="8.4" text-anchor="middle">-6000</text><text x="558" y="1444.2" font-size="8.4" text-anchor="middle">-4000</text><text x="608.3" y="1444.2" font-size="8.4" text-anchor="middle">-2000</text><text x="658.6" y="1444.2" font-size="8.4" text-anchor="middle">0</text><text x="709" y="1444.2" font-size="8.4" text-anchor="middle">2000</text><text x="402.9" y="1435.7" font-size="8.4" text-anchor="end">0.05</text><text x="402.9" y="1413.3" font-size="8.4" text-anchor="end">0.055</text><text x="402.9" y="1390.8" font-size="8.4" text-anchor="end">0.06</text><text x="402.9" y="1368.4" font-size="8.4" text-anchor="end">0.065</text><text x="402.9" y="1345.9" font-size="8.4" text-anchor="end">0.07</text><text x="402.9" y="1323.5" font-size="8.4" text-anchor="end">0.075</text><text x="402.9" y="1301" font-size="8.4" text-anchor="end">0.08</text><text x="402.9" y="1278.6" font-size="8.4" text-anchor="end">0.085</text><text x="402.9" y="1256.1" font-size="8.4" text-anchor="end">0.09</text><text x="402.9" y="1233.7" font-size="8.4" text-anchor="end">0.095</text><text x="558" y="1455" font-size="9" text-anchor="middle" fill="#333">Year</text><text transform="translate(374.500 1331.500) rotate(-90)" font-size="9.400" text-anchor="middle" fill="#333" textLength="120" lengthAdjust="spacingAndGlyphs">Joule Heating (erg/cm<tspan dy="-3" font-size="6.500">2</tspan><tspan dy="3">/s)</tspan></text><text x="757" y="1202.6" font-size="6.6" text-anchor="end">5.75</text><text x="757" y="1236.6" font-size="6.6" text-anchor="end">3.25</text><text x="757" y="1270.6" font-size="6.6" text-anchor="end">0.75</text><text x="757" y="1304.6" font-size="6.6" text-anchor="end">-1.75</text><text x="757" y="1338.6" font-size="6.6" text-anchor="end">-4.25</text><text x="757" y="1371.8" font-size="6.6" text-anchor="end">-6.75</text><text x="762.8" y="1378.5" font-size="6.6" text-anchor="middle">-10000</text><text x="824.2" y="1378.5" font-size="6.6" text-anchor="middle">-8000</text><text x="885.6" y="1378.5" font-size="6.6" text-anchor="middle">-6000</text><text x="947" y="1378.5" font-size="6.6" text-anchor="middle">-4000</text><text x="1008.4" y="1378.5" font-size="6.6" text-anchor="middle">-2000</text><text x="1069.8" y="1378.5" font-size="6.6" text-anchor="middle">0</text><text x="1131.2" y="1378.5" font-size="6.6" text-anchor="middle">2000</text><text x="1192" y="1345.2" font-size="6.2">1</text><text x="1192" y="1318.9" font-size="6.2">2</text><text x="1192" y="1292.5" font-size="6.2">3</text><text x="1192" y="1266.1" font-size="6.2">4</text><text x="1192" y="1239.7" font-size="6.2">5</text><text x="1192" y="1213.4" font-size="6.2">6</text><text x="1192" y="1187" font-size="6.2">7</text><text x="948" y="1387.5" font-size="9.5" text-anchor="middle">Year</text><text transform="translate(726.0 1268.0) rotate(-90)" font-size="7" text-anchor="middle" fill="#222">LN(P0/P)</text><text x="763" y="1180.5" font-size="7" textLength="56" lengthAdjust="spacingAndGlyphs" fill="#111">global average</text><text x="948" y="1178" font-size="6.6" textLength="92" lengthAdjust="spacingAndGlyphs" text-anchor="middle" fill="#111">Electron Density (10⁵/cm³)</text><text x="757" y="1431.8" font-size="6.6" text-anchor="end">5.75</text><text x="757" y="1465.8" font-size="6.6" text-anchor="end">3.25</text><text x="757" y="1499.8" font-size="6.6" text-anchor="end">0.75</text><text x="757" y="1533.8" font-size="6.6" text-anchor="end">-1.75</text><text x="757" y="1567.6" font-size="6.6" text-anchor="end">-4.25</text><text x="757" y="1601.4" font-size="6.6" text-anchor="end">-6.75</text><text x="762.8" y="1608" font-size="6.6" text-anchor="middle">-10000</text><text x="824.2" y="1608" font-size="6.6" text-anchor="middle">-8000</text><text x="885.6" y="1608" font-size="6.6" text-anchor="middle">-6000</text><text x="947" y="1608" font-size="6.6" text-anchor="middle">-4000</text><text x="1008.4" y="1608" font-size="6.6" text-anchor="middle">-2000</text><text x="1069.8" y="1608" font-size="6.6" text-anchor="middle">0</text><text x="1131.2" y="1608" font-size="6.6" text-anchor="middle">2000</text><text x="1177" y="1594.5" font-size="6.2">200</text><text x="1177" y="1572.7" font-size="6.2">300</text><text x="1177" y="1550.9" font-size="6.2">400</text><text x="1177" y="1529.2" font-size="6.2">500</text><text x="1177" y="1507.4" font-size="6.2">600</text><text x="1177" y="1485.6" font-size="6.2">700</text><text x="1177" y="1463.9" font-size="6.2">800</text><text x="1177" y="1442.1" font-size="6.2">900</text><text x="1177" y="1420.3" font-size="6.2">1000</text><text x="948" y="1619.5" font-size="9.5" text-anchor="middle">Year</text><text transform="translate(738.0 1497.0) rotate(-90)" font-size="7" text-anchor="middle" fill="#222">LN(P0/P)</text><text x="763" y="1410" font-size="7" textLength="56" lengthAdjust="spacingAndGlyphs" fill="#111">global average</text><text x="948" y="1407.5" font-size="6.6" textLength="88" lengthAdjust="spacingAndGlyphs" text-anchor="middle" fill="#111">Neutral Temperature (K)</text></g></svg>
<div class="a cap" style="left:18px;top:1468.600px;font-size:14.200px;width:590px;text-align:justify;text-align-last:justify"><b>图 4. 左:</b> 模拟的电离层赤道异常结构在给定年份的特征，由于地磁场变化造成明显的差异。</div>
<div class="a cap" style="left:18px;top:1505.700px;font-size:14.200px;width:490px;text-align:justify;text-align-last:justify"><b>右</b>：模拟的全新世以来由于地磁场变化导致的全球平均积分焦耳加热变化。</div>
<div class="a cap" style="left:764px;top:1634.800px;font-size:14.600px;width:414px;text-align:justify;text-align-last:justify"><b>图 5.</b> 模拟的全新世以来由于地磁场与太阳辐射变化导致的全球</div>
<div class="a cap" style="left:764px;top:1655.200px;font-size:14.600px;width:322px;text-align:justify;text-align-last:justify">平均电子密度（上）与中性大气温度（下）变化。</div>
<div class="hr" style="top:1530.500px;width:720px;border-top:1.200px solid #8aa6d6"></div>
<div class="sec" style="left:14px;top:1542.500px;font-size:19.500px"><b>4.</b> 参考文献</div>
<div class="ref" style="left:13.400px;top:1569.6px">Fischer, H., et al. (1999), Science, 283, 1712-1714;&nbsp; Laštovička, J., et al. (2006), Science, 314, 1253-1254;</div>
<div class="ref" style="left:13.400px;top:1587.8px">Keeling, C. D., et al. (1995), Nature, 375, 666-670;</div>
<div class="ref" style="left:13.400px;top:1607.3px">Korte, M., et al. (2011), Earth Planet. Sci. Lett., 312 (3-4), 497-505;</div>
<div class="ref" style="left:13.400px;top:1625.5px">Roble, R. G., and R. E. Dickinson (1989), Geophys. Res. Lett., 16, 1144-1441;</div>
<div class="ref" style="left:13.400px;top:1645.6px">Solanki, S. K., et al. (2004), Nature, 431(7012), 1084-1087;&nbsp; Wei et al. (2017), Earth and Planetary Physics, 1, 63-67;</div>
<div class="ref" style="left:13.400px;top:1665px">Yue et al. (2006), J. Geophys. Res., 111, A10303.</div>
</body></html>
